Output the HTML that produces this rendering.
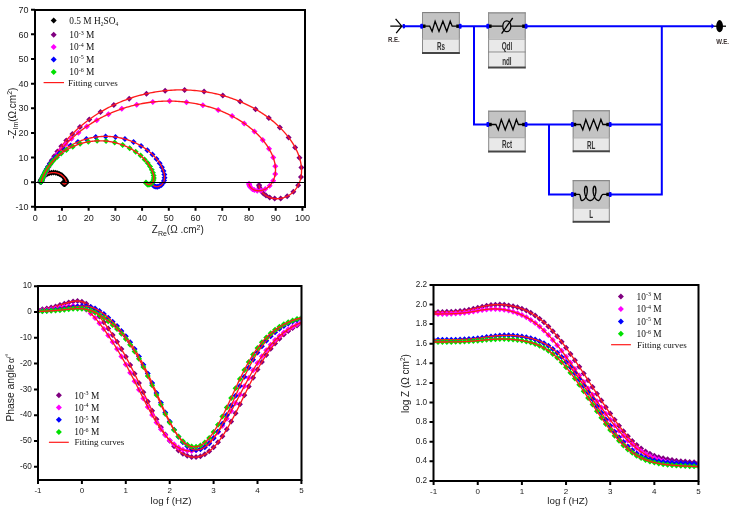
<!DOCTYPE html>
<html><head><meta charset="utf-8"><style>
html,body{margin:0;padding:0;background:#fff;}
body{width:731px;height:511px;position:relative;overflow:hidden;font-family:"Liberation Sans",sans-serif;}
</style></head><body>
<svg width="731" height="511" viewBox="0 0 731 511" style="position:absolute;left:0;top:0;filter:blur(0.35px)"><defs><clipPath id="c1"><rect x="36" y="11" width="268" height="194"/></clipPath><clipPath id="c2"><rect x="39" y="287" width="261.5" height="192"/></clipPath><clipPath id="c3"><rect x="434.5" y="286" width="263" height="194"/></clipPath></defs><path d="M40.25 179.02l3 3l-3 3l-3 -3zM40.26 178.99l3 3l-3 3l-3 -3zM40.27 178.94l3 3l-3 3l-3 -3zM40.29 178.88l3 3l-3 3l-3 -3zM40.31 178.81l3 3l-3 3l-3 -3zM40.33 178.73l3 3l-3 3l-3 -3zM40.36 178.63l3 3l-3 3l-3 -3zM40.4 178.51l3 3l-3 3l-3 -3zM40.45 178.36l3 3l-3 3l-3 -3zM40.51 178.18l3 3l-3 3l-3 -3zM40.59 177.97l3 3l-3 3l-3 -3zM40.69 177.71l3 3l-3 3l-3 -3zM40.82 177.4l3 3l-3 3l-3 -3zM40.99 177.03l3 3l-3 3l-3 -3zM41.2 176.59l3 3l-3 3l-3 -3zM41.49 176.08l3 3l-3 3l-3 -3zM41.86 175.48l3 3l-3 3l-3 -3zM42.36 174.8l3 3l-3 3l-3 -3zM42.99 174.04l3 3l-3 3l-3 -3zM43.82 173.21l3 3l-3 3l-3 -3zM44.86 172.34l3 3l-3 3l-3 -3zM46.16 171.49l3 3l-3 3l-3 -3zM47.72 170.71l3 3l-3 3l-3 -3zM49.53 170.08l3 3l-3 3l-3 -3zM51.53 169.69l3 3l-3 3l-3 -3zM53.62 169.58l3 3l-3 3l-3 -3zM55.71 169.77l3 3l-3 3l-3 -3zM57.66 170.23l3 3l-3 3l-3 -3zM59.41 170.9l3 3l-3 3l-3 -3zM60.91 171.71l3 3l-3 3l-3 -3zM62.14 172.58l3 3l-3 3l-3 -3zM63.12 173.44l3 3l-3 3l-3 -3zM63.9 174.26l3 3l-3 3l-3 -3zM64.5 175.01l3 3l-3 3l-3 -3zM64.95 175.68l3 3l-3 3l-3 -3zM65.3 176.26l3 3l-3 3l-3 -3zM65.57 176.77l3 3l-3 3l-3 -3zM65.78 177.2l3 3l-3 3l-3 -3zM65.93 177.57l3 3l-3 3l-3 -3zM66.05 177.89l3 3l-3 3l-3 -3zM66.14 178.17l3 3l-3 3l-3 -3zM66.21 178.41l3 3l-3 3l-3 -3zM66.27 178.62l3 3l-3 3l-3 -3zM66.3 178.82l3 3l-3 3l-3 -3zM66.33 179.01l3 3l-3 3l-3 -3zM66.34 179.2l3 3l-3 3l-3 -3zM66.32 179.39l3 3l-3 3l-3 -3zM66.29 179.59l3 3l-3 3l-3 -3zM66.22 179.81l3 3l-3 3l-3 -3zM66.12 180.04l3 3l-3 3l-3 -3zM65.95 180.29l3 3l-3 3l-3 -3zM65.71 180.53l3 3l-3 3l-3 -3zM65.38 180.75l3 3l-3 3l-3 -3zM64.98 180.91l3 3l-3 3l-3 -3zM64.53 180.98l3 3l-3 3l-3 -3zM64.08 180.96l3 3l-3 3l-3 -3zM63.66 180.84l3 3l-3 3l-3 -3zM63.32 180.67l3 3l-3 3l-3 -3zM63.06 180.46l3 3l-3 3l-3 -3zM62.86 180.26l3 3l-3 3l-3 -3zM62.73 180.07l3 3l-3 3l-3 -3z" fill="#000000"/><polyline points="62.73,183.07 62.74,183.09 62.76,183.11 62.77,183.13 62.78,183.15 62.79,183.16 62.81,183.18 62.82,183.2 62.83,183.22 62.85,183.24 62.87,183.26 62.88,183.28 62.9,183.3 62.92,183.32 62.93,183.34 62.95,183.36 62.97,183.38 62.99,183.4 63.01,183.42 63.03,183.44 63.06,183.47 63.08,183.49 63.1,183.51 63.13,183.53 63.15,183.55 63.18,183.57 63.21,183.59 63.23,183.61 63.26,183.63 63.29,183.65 63.32,183.67 63.35,183.69 63.38,183.71 63.42,183.73 63.45,183.74 63.48,183.76 63.52,183.78 63.55,183.8 63.59,183.81 63.63,183.83 63.67,183.84 63.7,183.86 63.74,183.87 63.78,183.89 63.83,183.9 63.87,183.91 63.91,183.92 63.95,183.93 63.99,183.94 64.04,183.95 64.08,183.96 64.13,183.96 64.17,183.97 64.22,183.97 64.26,183.98 64.31,183.98 64.35,183.98 64.4,183.98 64.45,183.98 64.49,183.98 64.54,183.98 64.58,183.98 64.63,183.97 64.68,183.97 64.72,183.96 64.77,183.95 64.81,183.95 64.86,183.94 64.9,183.93 64.94,183.92 64.99,183.9 65.03,183.89 65.07,183.88 65.11,183.86 65.16,183.85 65.2,183.83 65.24,183.82 65.27,183.8 65.31,183.78 65.35,183.76 65.39,183.74 65.42,183.72 65.46,183.7 65.49,183.68 65.53,183.66 65.56,183.64 65.59,183.62 65.62,183.59 65.65,183.57 65.68,183.55 65.71,183.52 65.74,183.5 65.76,183.48 65.79,183.45 65.82,183.43 65.84,183.4 65.86,183.38 65.89,183.36 65.91,183.33 65.93,183.31 65.95,183.28 65.97,183.26 65.99,183.23 66.01,183.21 66.03,183.18 66.04,183.16 66.06,183.13 66.07,183.11 66.09,183.08 66.1,183.06 66.12,183.04 66.13,183.01 66.14,182.99 66.16,182.97 66.17,182.94 66.18,182.92 66.19,182.9 66.2,182.87 66.21,182.85 66.22,182.83 66.23,182.8 66.23,182.78 66.24,182.76 66.25,182.74 66.26,182.72 66.26,182.69 66.27,182.67 66.28,182.65 66.28,182.63 66.29,182.61 66.29,182.59 66.3,182.57 66.3,182.55 66.3,182.53 66.31,182.51 66.31,182.49 66.31,182.47 66.32,182.45 66.32,182.43 66.32,182.41 66.33,182.39 66.33,182.37 66.33,182.35 66.33,182.33 66.33,182.31 66.33,182.29 66.33,182.27 66.33,182.25 66.33,182.23 66.33,182.21 66.34,182.2 66.34,182.18 66.33,182.16 66.33,182.14 66.33,182.12 66.33,182.1 66.33,182.08 66.33,182.06 66.33,182.05 66.33,182.03 66.33,182.01 66.33,181.99 66.32,181.97 66.32,181.95 66.32,181.93 66.32,181.91 66.31,181.9 66.31,181.88 66.31,181.86 66.31,181.84 66.3,181.82 66.3,181.8 66.3,181.78 66.29,181.76 66.29,181.74 66.29,181.72 66.28,181.7 66.28,181.68 66.27,181.66 66.27,181.64 66.27,181.62 66.26,181.6 66.26,181.58 66.25,181.56 66.25,181.53 66.24,181.51 66.24,181.49 66.23,181.47 66.22,181.45 66.22,181.42 66.21,181.4 66.21,181.38 66.2,181.35 66.19,181.33 66.19,181.31 66.18,181.28 66.17,181.26 66.17,181.23 66.16,181.21 66.15,181.18 66.14,181.16 66.13,181.13 66.13,181.1 66.12,181.08 66.11,181.05 66.1,181.02 66.09,181 66.08,180.97 66.07,180.94 66.06,180.91 66.05,180.88 66.04,180.85 66.03,180.82 66.02,180.79 66,180.76 65.99,180.72 65.98,180.69 65.97,180.66 65.95,180.63 65.94,180.59 65.93,180.56 65.91,180.52 65.9,180.49 65.88,180.45 65.87,180.42 65.85,180.38 65.84,180.34 65.82,180.3 65.8,180.26 65.79,180.22 65.77,180.18 65.75,180.14 65.73,180.1 65.71,180.06 65.69,180.02 65.67,179.97 65.65,179.93 65.63,179.88 65.61,179.84 65.59,179.79 65.56,179.75 65.54,179.7 65.51,179.65 65.49,179.6 65.46,179.55 65.44,179.5 65.41,179.45 65.38,179.4 65.35,179.35 65.32,179.29 65.29,179.24 65.26,179.18 65.23,179.13 65.2,179.07 65.16,179.01 65.13,178.95 65.09,178.89 65.05,178.83 65.02,178.77 64.98,178.71 64.94,178.65 64.9,178.59 64.85,178.52 64.81,178.46 64.77,178.39 64.72,178.32 64.67,178.26 64.63,178.19 64.58,178.12 64.52,178.05 64.47,177.98 64.42,177.91 64.36,177.83 64.31,177.76 64.25,177.69 64.19,177.61 64.13,177.53 64.06,177.46 64,177.38 63.93,177.3 63.87,177.22 63.8,177.14 63.72,177.06 63.65,176.98 63.58,176.9 63.5,176.82 63.42,176.74 63.34,176.65 63.25,176.57 63.17,176.49 63.08,176.4 62.99,176.32 62.9,176.23 62.81,176.14 62.71,176.06 62.61,175.97 62.51,175.88 62.41,175.8 62.3,175.71 62.19,175.62 62.08,175.53 61.97,175.45 61.85,175.36 61.74,175.27 61.62,175.18 61.49,175.1 61.37,175.01 61.24,174.92 61.11,174.84 60.97,174.75 60.84,174.67 60.7,174.58 60.55,174.5 60.41,174.41 60.26,174.33 60.11,174.25 59.96,174.17 59.81,174.09 59.65,174.01 59.49,173.94 59.32,173.86 59.16,173.79 58.99,173.71 58.82,173.64 58.65,173.57 58.47,173.51 58.29,173.44 58.11,173.38 57.93,173.31 57.75,173.25 57.56,173.2 57.37,173.14 57.18,173.09 56.99,173.04 56.79,172.99 56.6,172.94 56.4,172.9 56.2,172.86 56,172.82 55.79,172.78 55.59,172.75 55.39,172.72 55.18,172.69 54.97,172.67 54.76,172.64 54.55,172.63 54.34,172.61 54.13,172.6 53.92,172.59 53.71,172.58 53.5,172.58 53.29,172.58 53.08,172.58 52.87,172.58 52.66,172.59 52.45,172.6 52.24,172.62 52.03,172.64 51.82,172.66 51.61,172.68 51.41,172.71 51.2,172.73 50.99,172.77 50.79,172.8 50.59,172.84 50.39,172.88 50.19,172.92 49.99,172.97 49.8,173.01 49.6,173.06 49.41,173.12 49.22,173.17 49.04,173.23 48.85,173.29 48.67,173.35 48.49,173.41 48.31,173.48 48.13,173.54 47.96,173.61 47.79,173.68 47.62,173.75 47.45,173.83 47.29,173.9 47.12,173.98 46.97,174.06 46.81,174.13 46.66,174.21 46.51,174.29 46.36,174.38 46.21,174.46 46.07,174.54 45.93,174.63 45.79,174.71 45.66,174.8 45.52,174.88 45.39,174.97 45.27,175.05 45.14,175.14 45.02,175.23 44.9,175.31 44.79,175.4 44.67,175.49 44.56,175.58 44.45,175.66 44.35,175.75 44.24,175.84 44.14,175.92 44.04,176.01 43.94,176.1 43.85,176.18 43.75,176.27 43.66,176.35 43.58,176.44 43.49,176.52 43.41,176.61 43.32,176.69 43.24,176.77 43.17,176.85 43.09,176.93 43.02,177.02 42.94,177.1 42.87,177.17 42.8,177.25 42.74,177.33 42.67,177.41 42.61,177.48 42.55,177.56 42.49,177.63 42.43,177.71 42.37,177.78 42.32,177.85 42.26,177.93 42.21,178 42.16,178.07 42.11,178.13 42.06,178.2 42.01,178.27 41.96,178.34 41.92,178.4 41.88,178.47 41.83,178.53 41.79,178.59 41.75,178.66 41.71,178.72 41.67,178.78 41.64,178.84 41.6,178.89 41.57,178.95 41.53,179.01 41.5,179.07 41.47,179.12 41.43,179.18 41.4,179.23 41.37,179.28 41.34,179.33 41.32,179.38 41.29,179.44 41.26,179.48 41.24,179.53 41.21,179.58 41.18,179.63 41.16,179.68 41.14,179.72 41.11,179.77 41.09,179.81 41.07,179.85 41.05,179.9 41.03,179.94 41.01,179.98 40.99,180.02 40.97,180.06 40.95,180.1 40.93,180.14 40.92,180.18 40.9,180.21 40.88,180.25 40.87,180.29 40.85,180.32 40.84,180.36 40.82,180.39 40.81,180.43 40.79,180.46 40.78,180.49 40.76,180.52 40.75,180.55 40.74,180.59 40.73,180.62 40.71,180.65 40.7,180.67 40.69,180.7 40.68,180.73 40.67,180.76 40.66,180.79 40.65,180.81 40.64,180.84 40.63,180.86 40.62,180.89 40.61,180.91 40.6,180.94 40.59,180.96 40.58,180.99 40.57,181.01 40.56,181.03 40.56,181.05 40.55,181.08 40.54,181.1 40.53,181.12 40.53,181.14 40.52,181.16 40.51,181.18 40.5,181.2 40.5,181.22 40.49,181.24 40.49,181.25 40.48,181.27 40.47,181.29 40.47,181.31 40.46,181.32 40.46,181.34 40.45,181.36 40.44,181.37 40.44,181.39 40.43,181.41 40.43,181.42 40.42,181.44 40.42,181.45 40.41,181.46 40.41,181.48 40.41,181.49 40.4,181.51 40.4,181.52 40.39,181.53 40.39,181.55 40.39,181.56 40.38,181.57 40.38,181.58 40.37,181.59 40.37,181.61 40.37,181.62 40.36,181.63 40.36,181.64 40.36,181.65 40.35,181.66 40.35,181.67 40.35,181.68 40.34,181.69 40.34,181.7 40.34,181.71 40.34,181.72 40.33,181.73 40.33,181.74 40.33,181.75 40.32,181.76 40.32,181.77 40.32,181.77 40.32,181.78 40.31,181.79 40.31,181.8 40.31,181.81 40.31,181.81 40.31,181.82 40.3,181.83 40.3,181.84 40.3,181.84 40.3,181.85 40.3,181.86 40.29,181.86 40.29,181.87 40.29,181.88 40.29,181.88 40.29,181.89 40.28,181.89 40.28,181.9 40.28,181.91 40.28,181.91 40.28,181.92 40.28,181.92 40.28,181.93 40.27,181.93 40.27,181.94 40.27,181.94 40.27,181.95 40.27,181.95 40.27,181.96 40.27,181.96 40.26,181.97 40.26,181.97 40.26,181.98 40.26,181.98 40.26,181.99 40.26,181.99 40.26,181.99 40.26,182 40.26,182 40.25,182.01 40.25,182.01 40.25,182.01 40.25,182.02 40.25,182.02 40.25,182.02" fill="none" stroke="#ff1a1a" stroke-width="1.35" stroke-linejoin="round"/><path d="M41.13 178.76l3 3l-3 3l-3 -3zM41.16 178.67l3 3l-3 3l-3 -3zM41.2 178.57l3 3l-3 3l-3 -3zM41.25 178.44l3 3l-3 3l-3 -3zM41.31 178.3l3 3l-3 3l-3 -3zM41.37 178.12l3 3l-3 3l-3 -3zM41.46 177.9l3 3l-3 3l-3 -3zM41.56 177.64l3 3l-3 3l-3 -3zM41.68 177.34l3 3l-3 3l-3 -3zM41.83 176.97l3 3l-3 3l-3 -3zM42 176.53l3 3l-3 3l-3 -3zM42.21 176l3 3l-3 3l-3 -3zM42.47 175.38l3 3l-3 3l-3 -3zM42.78 174.63l3 3l-3 3l-3 -3zM43.16 173.73l3 3l-3 3l-3 -3zM43.63 172.67l3 3l-3 3l-3 -3zM44.19 171.4l3 3l-3 3l-3 -3zM44.89 169.89l3 3l-3 3l-3 -3zM45.74 168.1l3 3l-3 3l-3 -3zM46.79 165.99l3 3l-3 3l-3 -3zM48.09 163.5l3 3l-3 3l-3 -3zM49.71 160.57l3 3l-3 3l-3 -3zM51.72 157.14l3 3l-3 3l-3 -3zM54.23 153.16l3 3l-3 3l-3 -3zM57.37 148.58l3 3l-3 3l-3 -3zM61.31 143.34l3 3l-3 3l-3 -3zM66.23 137.45l3 3l-3 3l-3 -3zM72.36 130.94l3 3l-3 3l-3 -3zM79.95 123.89l3 3l-3 3l-3 -3zM89.26 116.49l3 3l-3 3l-3 -3zM100.5 109.03l3 3l-3 3l-3 -3zM113.82 101.91l3 3l-3 3l-3 -3zM129.2 95.63l3 3l-3 3l-3 -3zM146.45 90.72l3 3l-3 3l-3 -3zM165.13 87.7l3 3l-3 3l-3 -3zM184.6 86.93l3 3l-3 3l-3 -3zM204.08 88.57l3 3l-3 3l-3 -3zM222.81 92.54l3 3l-3 3l-3 -3zM240.12 98.55l3 3l-3 3l-3 -3zM255.55 106.16l3 3l-3 3l-3 -3zM268.82 114.93l3 3l-3 3l-3 -3zM279.85 124.45l3 3l-3 3l-3 -3zM288.62 134.39l3 3l-3 3l-3 -3zM295.16 144.53l3 3l-3 3l-3 -3zM299.45 154.67l3 3l-3 3l-3 -3zM301.42 164.59l3 3l-3 3l-3 -3zM300.99 173.94l3 3l-3 3l-3 -3zM298.19 182.21l3 3l-3 3l-3 -3zM293.36 188.8l3 3l-3 3l-3 -3zM287.21 193.24l3 3l-3 3l-3 -3zM280.69 195.4l3 3l-3 3l-3 -3zM274.68 195.6l3 3l-3 3l-3 -3zM269.74 194.45l3 3l-3 3l-3 -3zM266.01 192.58l3 3l-3 3l-3 -3zM263.39 190.49l3 3l-3 3l-3 -3zM261.63 188.47l3 3l-3 3l-3 -3zM260.5 186.67l3 3l-3 3l-3 -3zM259.8 185.14l3 3l-3 3l-3 -3zM259.39 183.89l3 3l-3 3l-3 -3zM259.15 182.87l3 3l-3 3l-3 -3zM259.03 182.06l3 3l-3 3l-3 -3z" fill="#800080"/><polyline points="259.05,185.25 259.06,185.33 259.07,185.4 259.08,185.49 259.1,185.57 259.11,185.65 259.13,185.74 259.14,185.83 259.16,185.92 259.18,186.01 259.2,186.11 259.22,186.2 259.24,186.3 259.26,186.4 259.29,186.51 259.31,186.61 259.34,186.72 259.37,186.83 259.4,186.95 259.44,187.06 259.47,187.18 259.51,187.3 259.55,187.42 259.59,187.55 259.63,187.68 259.68,187.81 259.73,187.94 259.78,188.08 259.83,188.22 259.89,188.36 259.95,188.51 260.01,188.65 260.08,188.8 260.15,188.96 260.22,189.11 260.3,189.27 260.38,189.43 260.46,189.6 260.55,189.76 260.65,189.93 260.74,190.11 260.85,190.28 260.95,190.46 261.07,190.64 261.18,190.82 261.31,191.01 261.44,191.2 261.57,191.39 261.71,191.58 261.86,191.78 262.02,191.97 262.18,192.17 262.35,192.37 262.52,192.58 262.7,192.78 262.9,192.99 263.09,193.2 263.3,193.4 263.52,193.61 263.74,193.83 263.98,194.04 264.22,194.25 264.47,194.46 264.74,194.67 265.01,194.88 265.29,195.09 265.59,195.3 265.89,195.51 266.21,195.71 266.54,195.91 266.87,196.11 267.22,196.31 267.59,196.5 267.96,196.69 268.35,196.87 268.75,197.05 269.16,197.22 269.58,197.39 270.01,197.55 270.46,197.7 270.92,197.85 271.4,197.98 271.88,198.11 272.38,198.23 272.89,198.33 273.41,198.43 273.94,198.51 274.49,198.58 275.04,198.63 275.61,198.68 276.18,198.7 276.77,198.72 277.37,198.71 277.97,198.69 278.59,198.65 279.21,198.6 279.84,198.53 280.47,198.43 281.11,198.32 281.76,198.19 282.41,198.03 283.06,197.86 283.72,197.66 284.37,197.44 285.03,197.2 285.69,196.94 286.34,196.65 287,196.34 287.65,196.01 288.29,195.65 288.94,195.27 289.57,194.87 290.2,194.44 290.82,194 291.43,193.52 292.02,193.03 292.61,192.51 293.19,191.97 293.75,191.41 294.3,190.82 294.83,190.22 295.35,189.59 295.85,188.94 296.33,188.28 296.8,187.59 297.24,186.89 297.67,186.16 298.08,185.42 298.46,184.67 298.83,183.89 299.17,183.1 299.49,182.3 299.79,181.48 300.07,180.64 300.32,179.79 300.55,178.93 300.76,178.06 300.94,177.18 301.1,176.28 301.24,175.38 301.35,174.46 301.43,173.54 301.5,172.61 301.53,171.67 301.55,170.72 301.54,169.77 301.5,168.81 301.44,167.84 301.36,166.86 301.25,165.89 301.12,164.9 300.96,163.92 300.78,162.92 300.58,161.93 300.35,160.93 300.1,159.93 299.83,158.92 299.53,157.91 299.21,156.9 298.86,155.89 298.5,154.88 298.1,153.86 297.69,152.85 297.25,151.83 296.8,150.81 296.31,149.8 295.81,148.78 295.28,147.76 294.73,146.74 294.16,145.72 293.57,144.7 292.95,143.68 292.31,142.67 291.65,141.65 290.96,140.64 290.26,139.62 289.53,138.61 288.78,137.6 288,136.59 287.21,135.58 286.39,134.58 285.55,133.58 284.69,132.58 283.8,131.58 282.89,130.59 281.96,129.6 281.01,128.61 280.03,127.63 279.04,126.65 278.01,125.68 276.97,124.71 275.9,123.75 274.82,122.79 273.7,121.83 272.57,120.89 271.41,119.95 270.23,119.01 269.03,118.09 267.81,117.17 266.56,116.25 265.29,115.35 264,114.46 262.68,113.57 261.34,112.69 259.98,111.83 258.6,110.97 257.2,110.12 255.77,109.29 254.32,108.46 252.85,107.65 251.36,106.85 249.85,106.07 248.32,105.29 246.76,104.53 245.19,103.79 243.6,103.06 241.98,102.34 240.35,101.64 238.7,100.96 237.03,100.29 235.34,99.64 233.63,99.01 231.9,98.39 230.16,97.8 228.4,97.22 226.63,96.66 224.84,96.12 223.03,95.6 221.21,95.11 219.38,94.63 217.53,94.17 215.67,93.74 213.8,93.33 211.92,92.93 210.02,92.57 208.12,92.22 206.2,91.9 204.28,91.6 202.35,91.33 200.42,91.07 198.48,90.85 196.53,90.64 194.58,90.46 192.62,90.31 190.66,90.18 188.7,90.07 186.74,89.99 184.77,89.93 182.81,89.9 180.84,89.89 178.88,89.91 176.92,89.95 174.97,90.01 173.02,90.1 171.07,90.21 169.13,90.34 167.2,90.5 165.27,90.69 163.35,90.89 161.44,91.12 159.54,91.37 157.65,91.64 155.77,91.93 153.9,92.24 152.04,92.58 150.2,92.93 148.37,93.31 146.55,93.7 144.75,94.11 142.96,94.55 141.19,95 139.44,95.46 137.7,95.95 135.97,96.45 134.27,96.97 132.58,97.5 130.91,98.05 129.26,98.61 127.63,99.18 126.02,99.77 124.43,100.38 122.86,100.99 121.3,101.62 119.77,102.25 118.26,102.9 116.77,103.56 115.3,104.22 113.85,104.9 112.42,105.58 111.01,106.28 109.62,106.98 108.26,107.68 106.91,108.39 105.59,109.11 104.29,109.83 103,110.56 101.74,111.29 100.5,112.03 99.29,112.77 98.09,113.51 96.91,114.26 95.76,115 94.62,115.75 93.51,116.5 92.41,117.25 91.34,118 90.28,118.75 89.24,119.5 88.23,120.25 87.23,121 86.25,121.75 85.3,122.49 84.36,123.23 83.43,123.98 82.53,124.71 81.64,125.45 80.78,126.18 79.93,126.91 79.09,127.64 78.28,128.36 77.48,129.08 76.69,129.79 75.93,130.5 75.18,131.2 74.44,131.9 73.72,132.6 73.02,133.28 72.33,133.97 71.65,134.65 70.99,135.32 70.34,135.99 69.71,136.65 69.09,137.31 68.49,137.95 67.89,138.6 67.31,139.24 66.75,139.87 66.19,140.49 65.65,141.11 65.12,141.72 64.6,142.33 64.09,142.93 63.59,143.52 63.11,144.11 62.63,144.69 62.17,145.26 61.71,145.83 61.27,146.39 60.84,146.94 60.41,147.49 60,148.03 59.59,148.56 59.19,149.09 58.81,149.61 58.43,150.12 58.06,150.63 57.69,151.13 57.34,151.62 56.99,152.11 56.65,152.59 56.32,153.07 56,153.53 55.68,154 55.37,154.45 55.07,154.9 54.77,155.34 54.48,155.78 54.2,156.21 53.92,156.64 53.65,157.05 53.38,157.47 53.13,157.87 52.87,158.27 52.63,158.67 52.38,159.06 52.15,159.44 51.91,159.82 51.69,160.19 51.47,160.56 51.25,160.92 51.04,161.27 50.83,161.62 50.63,161.97 50.43,162.31 50.24,162.64 50.05,162.97 49.86,163.29 49.68,163.61 49.5,163.93 49.33,164.24 49.16,164.54 48.99,164.84 48.83,165.13 48.67,165.42 48.52,165.71 48.36,165.99 48.21,166.27 48.07,166.54 47.93,166.81 47.79,167.07 47.65,167.33 47.52,167.59 47.38,167.84 47.26,168.08 47.13,168.33 47.01,168.56 46.89,168.8 46.77,169.03 46.66,169.26 46.54,169.48 46.43,169.7 46.32,169.92 46.22,170.13 46.11,170.34 46.01,170.55 45.91,170.75 45.82,170.95 45.72,171.14 45.63,171.33 45.54,171.52 45.45,171.71 45.36,171.89 45.27,172.07 45.19,172.25 45.11,172.42 45.03,172.59 44.95,172.76 44.87,172.93 44.8,173.09 44.72,173.25 44.65,173.4 44.58,173.56 44.51,173.71 44.44,173.86 44.37,174.01 44.31,174.15 44.24,174.29 44.18,174.43 44.12,174.57 44.06,174.7 44,174.83 43.94,174.96 43.88,175.09 43.83,175.21 43.77,175.34 43.72,175.46 43.67,175.58 43.62,175.69 43.57,175.81 43.52,175.92 43.47,176.03 43.42,176.14 43.37,176.25 43.33,176.35 43.28,176.46 43.24,176.56 43.2,176.66 43.15,176.76 43.11,176.85 43.07,176.95 43.03,177.04 42.99,177.13 42.96,177.22 42.92,177.31 42.88,177.4 42.85,177.48 42.81,177.57 42.78,177.65 42.74,177.73 42.71,177.81 42.68,177.89 42.64,177.96 42.61,178.04 42.58,178.11 42.55,178.19 42.52,178.26 42.49,178.33 42.46,178.4 42.44,178.46 42.41,178.53 42.38,178.6 42.35,178.66 42.33,178.72 42.3,178.78 42.28,178.85 42.25,178.91 42.23,178.96 42.21,179.02 42.18,179.08 42.16,179.13 42.14,179.19 42.12,179.24 42.1,179.3 42.07,179.35 42.05,179.4 42.03,179.45 42.01,179.5 41.99,179.55 41.98,179.59 41.96,179.64 41.94,179.69 41.92,179.73 41.9,179.77 41.89,179.82 41.87,179.86 41.85,179.9 41.84,179.94 41.82,179.98 41.8,180.02 41.79,180.06 41.77,180.1 41.76,180.14 41.74,180.17 41.73,180.21 41.72,180.25 41.7,180.28 41.69,180.32 41.67,180.35 41.66,180.38 41.65,180.42 41.64,180.45 41.62,180.48 41.61,180.51 41.6,180.54 41.59,180.57 41.58,180.6 41.57,180.63 41.55,180.66 41.54,180.68 41.53,180.71 41.52,180.74 41.51,180.76 41.5,180.79 41.49,180.81 41.48,180.84 41.47,180.86 41.46,180.89 41.45,180.91 41.45,180.93 41.44,180.96 41.43,180.98 41.42,181 41.41,181.02 41.4,181.04 41.39,181.06 41.39,181.08 41.38,181.1 41.37,181.12 41.36,181.14 41.36,181.16 41.35,181.18 41.34,181.2 41.34,181.22 41.33,181.23 41.32,181.25 41.32,181.27 41.31,181.29 41.3,181.3 41.3,181.32 41.29,181.33 41.28,181.35 41.28,181.36 41.27,181.38 41.27,181.39 41.26,181.41 41.26,181.42 41.25,181.44 41.25,181.45 41.24,181.46 41.24,181.48 41.23,181.49 41.23,181.5 41.22,181.52 41.22,181.53 41.21,181.54 41.21,181.55 41.2,181.56 41.2,181.58 41.19,181.59 41.19,181.6 41.19,181.61 41.18,181.62 41.18,181.63 41.17,181.64 41.17,181.65 41.17,181.66 41.16,181.67 41.16,181.68 41.15,181.69 41.15,181.7 41.15,181.71 41.14,181.72 41.14,181.72 41.14,181.73 41.13,181.74 41.13,181.75 41.13,181.76 41.13,181.77 41.12,181.77 41.12,181.78" fill="none" stroke="#ff1a1a" stroke-width="1.35" stroke-linejoin="round"/><path d="M41.07 178.81l3 3l-3 3l-3 -3zM41.1 178.74l3 3l-3 3l-3 -3zM41.14 178.65l3 3l-3 3l-3 -3zM41.19 178.54l3 3l-3 3l-3 -3zM41.24 178.41l3 3l-3 3l-3 -3zM41.31 178.26l3 3l-3 3l-3 -3zM41.38 178.08l3 3l-3 3l-3 -3zM41.48 177.87l3 3l-3 3l-3 -3zM41.59 177.62l3 3l-3 3l-3 -3zM41.72 177.31l3 3l-3 3l-3 -3zM41.88 176.95l3 3l-3 3l-3 -3zM42.07 176.53l3 3l-3 3l-3 -3zM42.3 176.02l3 3l-3 3l-3 -3zM42.58 175.41l3 3l-3 3l-3 -3zM42.91 174.7l3 3l-3 3l-3 -3zM43.32 173.85l3 3l-3 3l-3 -3zM43.81 172.84l3 3l-3 3l-3 -3zM44.4 171.65l3 3l-3 3l-3 -3zM45.12 170.24l3 3l-3 3l-3 -3zM46 168.59l3 3l-3 3l-3 -3zM47.07 166.65l3 3l-3 3l-3 -3zM48.38 164.37l3 3l-3 3l-3 -3zM50 161.72l3 3l-3 3l-3 -3zM51.98 158.64l3 3l-3 3l-3 -3zM54.44 155.09l3 3l-3 3l-3 -3zM57.47 151.03l3 3l-3 3l-3 -3zM61.21 146.45l3 3l-3 3l-3 -3zM65.83 141.33l3 3l-3 3l-3 -3zM71.5 135.72l3 3l-3 3l-3 -3zM78.42 129.69l3 3l-3 3l-3 -3zM86.79 123.42l3 3l-3 3l-3 -3zM96.76 117.13l3 3l-3 3l-3 -3zM108.44 111.14l3 3l-3 3l-3 -3zM121.81 105.85l3 3l-3 3l-3 -3zM136.71 101.66l3 3l-3 3l-3 -3zM152.8 98.98l3 3l-3 3l-3 -3zM169.58 98.11l3 3l-3 3l-3 -3zM186.48 99.19l3 3l-3 3l-3 -3zM202.87 102.2l3 3l-3 3l-3 -3zM218.21 106.94l3 3l-3 3l-3 -3zM232.09 113.12l3 3l-3 3l-3 -3zM244.22 120.4l3 3l-3 3l-3 -3zM254.47 128.45l3 3l-3 3l-3 -3zM262.75 136.99l3 3l-3 3l-3 -3zM269.03 145.78l3 3l-3 3l-3 -3zM273.23 154.59l3 3l-3 3l-3 -3zM275.3 163.14l3 3l-3 3l-3 -3zM275.22 171.02l3 3l-3 3l-3 -3zM273.16 177.75l3 3l-3 3l-3 -3zM269.61 182.85l3 3l-3 3l-3 -3zM265.29 186.08l3 3l-3 3l-3 -3zM260.98 187.56l3 3l-3 3l-3 -3zM257.24 187.7l3 3l-3 3l-3 -3zM254.34 187.01l3 3l-3 3l-3 -3zM252.26 185.92l3 3l-3 3l-3 -3zM250.88 184.74l3 3l-3 3l-3 -3zM250.01 183.63l3 3l-3 3l-3 -3zM249.49 182.67l3 3l-3 3l-3 -3zM249.21 181.87l3 3l-3 3l-3 -3zM249.08 181.22l3 3l-3 3l-3 -3zM249.03 180.71l3 3l-3 3l-3 -3z" fill="#ff00ff"/><polyline points="249.03,183.76 249.04,183.8 249.04,183.85 249.04,183.9 249.05,183.95 249.05,184 249.06,184.06 249.06,184.11 249.07,184.16 249.08,184.22 249.09,184.28 249.1,184.34 249.11,184.4 249.12,184.46 249.13,184.53 249.15,184.59 249.16,184.66 249.18,184.73 249.19,184.8 249.21,184.87 249.23,184.94 249.26,185.02 249.28,185.09 249.3,185.17 249.33,185.25 249.36,185.33 249.39,185.41 249.42,185.5 249.46,185.58 249.5,185.67 249.53,185.76 249.58,185.85 249.62,185.94 249.67,186.04 249.72,186.13 249.77,186.23 249.83,186.33 249.88,186.43 249.95,186.53 250.01,186.64 250.08,186.74 250.15,186.85 250.23,186.96 250.31,187.07 250.4,187.18 250.48,187.29 250.58,187.41 250.68,187.52 250.78,187.64 250.89,187.75 251,187.87 251.12,187.99 251.24,188.1 251.37,188.22 251.51,188.34 251.65,188.46 251.8,188.58 251.95,188.7 252.11,188.82 252.28,188.94 252.45,189.05 252.63,189.17 252.82,189.28 253.02,189.4 253.22,189.51 253.44,189.62 253.66,189.72 253.88,189.83 254.12,189.93 254.36,190.02 254.62,190.12 254.88,190.2 255.15,190.29 255.43,190.37 255.71,190.44 256.01,190.51 256.32,190.57 256.63,190.62 256.95,190.67 257.28,190.71 257.62,190.74 257.97,190.76 258.33,190.77 258.69,190.78 259.07,190.77 259.45,190.75 259.83,190.72 260.23,190.68 260.63,190.62 261.04,190.55 261.45,190.47 261.87,190.37 262.3,190.26 262.73,190.14 263.16,190 263.6,189.84 264.04,189.67 264.48,189.47 264.92,189.27 265.37,189.04 265.81,188.8 266.26,188.54 266.7,188.26 267.14,187.96 267.57,187.64 268.01,187.3 268.44,186.95 268.86,186.57 269.28,186.18 269.69,185.77 270.09,185.34 270.48,184.89 270.87,184.42 271.24,183.93 271.6,183.42 271.95,182.9 272.29,182.36 272.62,181.8 272.93,181.22 273.22,180.63 273.5,180.02 273.77,179.39 274.01,178.75 274.24,178.09 274.46,177.42 274.65,176.74 274.83,176.04 274.98,175.32 275.12,174.6 275.24,173.86 275.34,173.11 275.41,172.35 275.47,171.58 275.51,170.8 275.52,170.02 275.52,169.22 275.49,168.41 275.44,167.6 275.37,166.77 275.27,165.95 275.16,165.11 275.02,164.27 274.87,163.42 274.69,162.57 274.49,161.71 274.26,160.85 274.02,159.99 273.75,159.12 273.46,158.25 273.15,157.37 272.82,156.5 272.47,155.62 272.1,154.74 271.7,153.85 271.29,152.97 270.85,152.09 270.39,151.2 269.91,150.31 269.41,149.43 268.89,148.54 268.35,147.66 267.78,146.77 267.2,145.89 266.6,145 265.97,144.12 265.33,143.24 264.66,142.36 263.98,141.49 263.27,140.61 262.55,139.74 261.8,138.87 261.04,138 260.25,137.14 259.44,136.28 258.62,135.42 257.77,134.57 256.91,133.72 256.02,132.88 255.12,132.03 254.19,131.2 253.25,130.37 252.28,129.54 251.3,128.72 250.3,127.91 249.27,127.1 248.23,126.3 247.17,125.5 246.09,124.71 244.99,123.93 243.87,123.16 242.73,122.39 241.57,121.63 240.4,120.88 239.2,120.14 237.99,119.41 236.76,118.69 235.51,117.97 234.24,117.27 232.96,116.58 231.65,115.9 230.33,115.23 228.99,114.57 227.64,113.92 226.27,113.29 224.88,112.66 223.47,112.05 222.05,111.46 220.62,110.87 219.17,110.31 217.7,109.75 216.22,109.21 214.72,108.68 213.21,108.17 211.69,107.68 210.15,107.2 208.6,106.74 207.04,106.29 205.47,105.86 203.88,105.45 202.28,105.06 200.68,104.68 199.06,104.32 197.44,103.98 195.8,103.66 194.16,103.35 192.51,103.07 190.85,102.8 189.18,102.55 187.51,102.32 185.84,102.11 184.16,101.92 182.47,101.75 180.78,101.6 179.09,101.47 177.39,101.36 175.7,101.27 174,101.2 172.3,101.15 170.61,101.12 168.91,101.11 167.21,101.12 165.52,101.14 163.83,101.19 162.14,101.26 160.45,101.35 158.77,101.45 157.1,101.58 155.43,101.72 153.77,101.88 152.11,102.06 150.46,102.26 148.82,102.48 147.19,102.71 145.56,102.96 143.95,103.23 142.35,103.51 140.75,103.82 139.17,104.13 137.6,104.47 136.04,104.82 134.49,105.18 132.96,105.56 131.44,105.95 129.93,106.36 128.43,106.78 126.95,107.21 125.49,107.66 124.04,108.11 122.6,108.58 121.18,109.07 119.77,109.56 118.39,110.06 117.01,110.57 115.66,111.1 114.31,111.63 112.99,112.17 111.68,112.72 110.39,113.27 109.12,113.84 107.86,114.41 106.62,114.99 105.4,115.57 104.2,116.16 103.01,116.76 101.84,117.36 100.68,117.97 99.55,118.58 98.43,119.19 97.33,119.81 96.24,120.43 95.18,121.05 94.13,121.68 93.09,122.31 92.08,122.94 91.08,123.57 90.1,124.2 89.13,124.84 88.18,125.47 87.25,126.1 86.33,126.74 85.43,127.37 84.55,128 83.68,128.63 82.83,129.27 81.99,129.89 81.17,130.52 80.36,131.15 79.57,131.77 78.79,132.39 78.03,133.01 77.28,133.63 76.55,134.24 75.83,134.85 75.12,135.46 74.43,136.06 73.75,136.66 73.09,137.26 72.43,137.85 71.79,138.44 71.17,139.03 70.55,139.61 69.95,140.18 69.36,140.75 68.78,141.32 68.21,141.88 67.66,142.44 67.12,142.99 66.58,143.54 66.06,144.09 65.55,144.62 65.05,145.16 64.56,145.69 64.08,146.21 63.6,146.73 63.14,147.24 62.69,147.75 62.25,148.25 61.82,148.74 61.39,149.24 60.98,149.72 60.57,150.2 60.17,150.68 59.78,151.15 59.4,151.61 59.03,152.07 58.66,152.52 58.3,152.97 57.95,153.42 57.61,153.85 57.27,154.29 56.94,154.71 56.62,155.13 56.31,155.55 56,155.96 55.69,156.37 55.4,156.77 55.11,157.16 54.82,157.55 54.55,157.94 54.27,158.32 54.01,158.69 53.75,159.06 53.49,159.43 53.24,159.79 53,160.14 52.76,160.49 52.52,160.83 52.29,161.17 52.07,161.51 51.85,161.84 51.63,162.17 51.42,162.49 51.22,162.8 51.01,163.12 50.81,163.42 50.62,163.73 50.43,164.03 50.24,164.32 50.06,164.61 49.88,164.9 49.71,165.18 49.54,165.46 49.37,165.73 49.21,166 49.04,166.26 48.89,166.52 48.73,166.78 48.58,167.03 48.43,167.28 48.29,167.53 48.15,167.77 48.01,168.01 47.87,168.24 47.74,168.47 47.61,168.7 47.48,168.92 47.35,169.15 47.23,169.36 47.11,169.58 46.99,169.79 46.87,169.99 46.76,170.2 46.65,170.4 46.54,170.59 46.43,170.79 46.33,170.98 46.23,171.17 46.13,171.35 46.03,171.53 45.93,171.71 45.84,171.89 45.74,172.06 45.65,172.23 45.56,172.4 45.48,172.56 45.39,172.73 45.31,172.89 45.22,173.04 45.14,173.2 45.06,173.35 44.99,173.5 44.91,173.65 44.84,173.79 44.76,173.93 44.69,174.07 44.62,174.21 44.55,174.35 44.48,174.48 44.42,174.61 44.35,174.74 44.29,174.87 44.23,174.99 44.17,175.12 44.11,175.24 44.05,175.35 43.99,175.47 43.93,175.59 43.88,175.7 43.82,175.81 43.77,175.92 43.72,176.03 43.66,176.13 43.61,176.24 43.56,176.34 43.52,176.44 43.47,176.54 43.42,176.63 43.37,176.73 43.33,176.82 43.29,176.91 43.24,177.01 43.2,177.09 43.16,177.18 43.12,177.27 43.08,177.35 43.04,177.44 43,177.52 42.96,177.6 42.92,177.68 42.89,177.76 42.85,177.83 42.82,177.91 42.78,177.98 42.75,178.05 42.71,178.12 42.68,178.19 42.65,178.26 42.62,178.33 42.59,178.4 42.56,178.46 42.53,178.53 42.5,178.59 42.47,178.65 42.44,178.72 42.41,178.78 42.39,178.83 42.36,178.89 42.33,178.95 42.31,179.01 42.28,179.06 42.26,179.12 42.23,179.17 42.21,179.22 42.19,179.27 42.16,179.32 42.14,179.37 42.12,179.42 42.1,179.47 42.08,179.52 42.06,179.56 42.03,179.61 42.01,179.65 42,179.7 41.98,179.74 41.96,179.78 41.94,179.83 41.92,179.87 41.9,179.91 41.88,179.95 41.87,179.99 41.85,180.02 41.83,180.06 41.82,180.1 41.8,180.14 41.78,180.17 41.77,180.21 41.75,180.24 41.74,180.28 41.72,180.31 41.71,180.34 41.69,180.37 41.68,180.41 41.67,180.44 41.65,180.47 41.64,180.5 41.63,180.53 41.61,180.56 41.6,180.58 41.59,180.61 41.58,180.64 41.57,180.67 41.55,180.69 41.54,180.72 41.53,180.75 41.52,180.77 41.51,180.8 41.5,180.82 41.49,180.84 41.48,180.87 41.47,180.89 41.46,180.91 41.45,180.94 41.44,180.96 41.43,180.98 41.42,181 41.41,181.02 41.4,181.04 41.39,181.06 41.38,181.08 41.38,181.1 41.37,181.12 41.36,181.14 41.35,181.16 41.34,181.18 41.34,181.19 41.33,181.21 41.32,181.23 41.31,181.25 41.31,181.26 41.3,181.28 41.29,181.29 41.29,181.31 41.28,181.33 41.27,181.34 41.27,181.36 41.26,181.37 41.25,181.39 41.25,181.4 41.24,181.41 41.24,181.43 41.23,181.44 41.22,181.45 41.22,181.47 41.21,181.48 41.21,181.49 41.2,181.5 41.2,181.52 41.19,181.53 41.19,181.54 41.18,181.55 41.18,181.56 41.17,181.57 41.17,181.58 41.16,181.6 41.16,181.61 41.15,181.62 41.15,181.63 41.15,181.64 41.14,181.65 41.14,181.66 41.13,181.67 41.13,181.67 41.13,181.68 41.12,181.69 41.12,181.7 41.11,181.71 41.11,181.72 41.11,181.73 41.1,181.74 41.1,181.74 41.1,181.75 41.09,181.76 41.09,181.77 41.09,181.77 41.08,181.78 41.08,181.79 41.08,181.8 41.07,181.8 41.07,181.81 41.07,181.82" fill="none" stroke="#ff1a1a" stroke-width="1.35" stroke-linejoin="round"/><path d="M41.14 178.96l3 3l-3 3l-3 -3zM41.16 178.9l3 3l-3 3l-3 -3zM41.18 178.84l3 3l-3 3l-3 -3zM41.2 178.77l3 3l-3 3l-3 -3zM41.23 178.67l3 3l-3 3l-3 -3zM41.26 178.56l3 3l-3 3l-3 -3zM41.3 178.43l3 3l-3 3l-3 -3zM41.35 178.27l3 3l-3 3l-3 -3zM41.41 178.07l3 3l-3 3l-3 -3zM41.49 177.83l3 3l-3 3l-3 -3zM41.58 177.54l3 3l-3 3l-3 -3zM41.69 177.19l3 3l-3 3l-3 -3zM41.83 176.77l3 3l-3 3l-3 -3zM42 176.27l3 3l-3 3l-3 -3zM42.22 175.66l3 3l-3 3l-3 -3zM42.49 174.92l3 3l-3 3l-3 -3zM42.83 174.04l3 3l-3 3l-3 -3zM43.25 172.98l3 3l-3 3l-3 -3zM43.79 171.72l3 3l-3 3l-3 -3zM44.49 170.22l3 3l-3 3l-3 -3zM45.37 168.44l3 3l-3 3l-3 -3zM46.51 166.35l3 3l-3 3l-3 -3zM47.98 163.9l3 3l-3 3l-3 -3zM49.88 161.09l3 3l-3 3l-3 -3zM52.32 157.89l3 3l-3 3l-3 -3zM55.46 154.34l3 3l-3 3l-3 -3zM59.46 150.49l3 3l-3 3l-3 -3zM64.46 146.49l3 3l-3 3l-3 -3zM70.6 142.54l3 3l-3 3l-3 -3zM77.93 138.93l3 3l-3 3l-3 -3zM86.39 135.99l3 3l-3 3l-3 -3zM95.74 134.06l3 3l-3 3l-3 -3zM105.6 133.38l3 3l-3 3l-3 -3zM115.5 134.06l3 3l-3 3l-3 -3zM124.95 136.03l3 3l-3 3l-3 -3zM133.55 139.08l3 3l-3 3l-3 -3zM141.05 142.88l3 3l-3 3l-3 -3zM147.35 147.13l3 3l-3 3l-3 -3zM152.47 151.54l3 3l-3 3l-3 -3zM156.53 155.91l3 3l-3 3l-3 -3zM159.64 160.13l3 3l-3 3l-3 -3zM161.92 164.13l3 3l-3 3l-3 -3zM163.48 167.89l3 3l-3 3l-3 -3zM164.34 171.4l3 3l-3 3l-3 -3zM164.54 174.65l3 3l-3 3l-3 -3zM164.08 177.55l3 3l-3 3l-3 -3zM163 180.01l3 3l-3 3l-3 -3zM161.42 181.89l3 3l-3 3l-3 -3zM159.56 183.09l3 3l-3 3l-3 -3zM157.68 183.63l3 3l-3 3l-3 -3zM156.01 183.63l3 3l-3 3l-3 -3zM154.67 183.28l3 3l-3 3l-3 -3zM153.68 182.76l3 3l-3 3l-3 -3zM152.99 182.19l3 3l-3 3l-3 -3zM152.53 181.64l3 3l-3 3l-3 -3zM152.24 181.17l3 3l-3 3l-3 -3zM152.06 180.76l3 3l-3 3l-3 -3zM151.95 180.43l3 3l-3 3l-3 -3zM151.89 180.17l3 3l-3 3l-3 -3zM151.86 179.95l3 3l-3 3l-3 -3zM151.84 179.79l3 3l-3 3l-3 -3z" fill="#0000ff"/><polyline points="151.84,182.79 151.84,182.8 151.84,182.82 151.84,182.83 151.85,182.85 151.85,182.87 151.85,182.88 151.85,182.9 151.85,182.92 151.85,182.94 151.86,182.95 151.86,182.97 151.86,182.99 151.86,183.01 151.87,183.03 151.87,183.05 151.87,183.08 151.88,183.1 151.88,183.12 151.88,183.14 151.89,183.17 151.89,183.19 151.9,183.22 151.9,183.24 151.91,183.27 151.91,183.29 151.92,183.32 151.93,183.35 151.93,183.38 151.94,183.4 151.95,183.43 151.96,183.46 151.97,183.49 151.98,183.53 151.99,183.56 152,183.59 152.01,183.62 152.02,183.66 152.03,183.69 152.04,183.73 152.06,183.77 152.07,183.8 152.09,183.84 152.1,183.88 152.12,183.92 152.14,183.96 152.15,184 152.17,184.04 152.19,184.08 152.22,184.13 152.24,184.17 152.26,184.21 152.29,184.26 152.31,184.31 152.34,184.35 152.37,184.4 152.4,184.45 152.43,184.5 152.46,184.55 152.5,184.6 152.53,184.65 152.57,184.7 152.61,184.75 152.65,184.81 152.69,184.86 152.74,184.91 152.78,184.97 152.83,185.03 152.88,185.08 152.94,185.14 152.99,185.19 153.05,185.25 153.11,185.31 153.17,185.37 153.24,185.42 153.31,185.48 153.38,185.54 153.45,185.6 153.53,185.65 153.6,185.71 153.69,185.77 153.77,185.82 153.86,185.88 153.95,185.93 154.05,185.99 154.14,186.04 154.25,186.09 154.35,186.15 154.46,186.19 154.57,186.24 154.69,186.29 154.8,186.34 154.93,186.38 155.05,186.42 155.18,186.46 155.32,186.5 155.45,186.53 155.59,186.56 155.74,186.59 155.88,186.61 156.04,186.63 156.19,186.65 156.35,186.67 156.51,186.68 156.67,186.68 156.84,186.69 157.01,186.68 157.18,186.68 157.36,186.66 157.53,186.65 157.71,186.62 157.9,186.59 158.08,186.56 158.27,186.52 158.45,186.48 158.64,186.42 158.83,186.37 159.02,186.3 159.21,186.23 159.41,186.15 159.6,186.07 159.79,185.98 159.98,185.88 160.17,185.78 160.36,185.67 160.55,185.55 160.73,185.42 160.92,185.29 161.1,185.15 161.28,185.01 161.46,184.85 161.63,184.69 161.8,184.53 161.97,184.35 162.14,184.17 162.3,183.99 162.45,183.79 162.6,183.59 162.75,183.39 162.89,183.18 163.03,182.96 163.16,182.74 163.29,182.51 163.41,182.27 163.53,182.03 163.64,181.79 163.74,181.54 163.84,181.28 163.93,181.02 164.02,180.76 164.1,180.49 164.18,180.21 164.24,179.93 164.3,179.65 164.36,179.36 164.41,179.07 164.45,178.78 164.48,178.48 164.51,178.18 164.53,177.87 164.55,177.57 164.56,177.25 164.56,176.94 164.55,176.62 164.54,176.3 164.52,175.97 164.5,175.65 164.46,175.32 164.43,174.98 164.38,174.65 164.33,174.31 164.27,173.97 164.21,173.62 164.13,173.28 164.05,172.93 163.97,172.58 163.88,172.22 163.78,171.86 163.67,171.51 163.56,171.14 163.44,170.78 163.31,170.41 163.18,170.04 163.04,169.67 162.89,169.3 162.74,168.92 162.58,168.54 162.41,168.16 162.24,167.78 162.05,167.39 161.86,167.01 161.67,166.61 161.46,166.22 161.25,165.83 161.03,165.43 160.8,165.03 160.57,164.63 160.32,164.22 160.07,163.81 159.81,163.4 159.55,162.99 159.27,162.58 158.99,162.16 158.7,161.74 158.39,161.32 158.09,160.9 157.77,160.48 157.44,160.05 157.1,159.62 156.76,159.19 156.4,158.76 156.04,158.33 155.66,157.89 155.28,157.46 154.88,157.02 154.48,156.58 154.06,156.14 153.64,155.7 153.2,155.26 152.76,154.82 152.3,154.38 151.84,153.93 151.36,153.49 150.87,153.05 150.37,152.6 149.86,152.16 149.33,151.72 148.8,151.28 148.25,150.84 147.69,150.4 147.13,149.96 146.54,149.53 145.95,149.09 145.35,148.66 144.73,148.23 144.1,147.8 143.46,147.38 142.8,146.96 142.14,146.54 141.46,146.13 140.77,145.72 140.07,145.32 139.35,144.92 138.63,144.52 137.89,144.13 137.14,143.75 136.37,143.37 135.6,143 134.82,142.64 134.02,142.28 133.21,141.93 132.39,141.59 131.56,141.26 130.72,140.94 129.87,140.62 129.01,140.31 128.13,140.01 127.25,139.73 126.36,139.45 125.46,139.18 124.55,138.92 123.64,138.68 122.71,138.44 121.78,138.22 120.84,138.01 119.89,137.81 118.93,137.62 117.97,137.45 117.01,137.29 116.04,137.14 115.06,137 114.08,136.88 113.09,136.77 112.11,136.67 111.11,136.59 110.12,136.52 109.13,136.46 108.13,136.42 107.13,136.39 106.13,136.38 105.13,136.38 104.14,136.39 103.14,136.42 102.15,136.46 101.15,136.52 100.16,136.58 99.18,136.67 98.19,136.76 97.21,136.87 96.24,136.99 95.27,137.12 94.3,137.27 93.35,137.43 92.39,137.6 91.45,137.78 90.51,137.98 89.58,138.18 88.66,138.4 87.74,138.63 86.84,138.87 85.94,139.12 85.05,139.38 84.18,139.65 83.31,139.93 82.45,140.21 81.6,140.51 80.76,140.81 79.94,141.12 79.12,141.44 78.32,141.77 77.53,142.11 76.74,142.45 75.97,142.79 75.22,143.15 74.47,143.5 73.74,143.87 73.01,144.23 72.3,144.61 71.6,144.98 70.92,145.36 70.24,145.75 69.58,146.14 68.93,146.53 68.29,146.92 67.67,147.31 67.05,147.71 66.45,148.11 65.86,148.51 65.28,148.91 64.71,149.31 64.15,149.71 63.61,150.12 63.08,150.52 62.55,150.92 62.04,151.32 61.54,151.72 61.05,152.13 60.58,152.52 60.11,152.92 59.65,153.32 59.2,153.72 58.77,154.11 58.34,154.5 57.92,154.89 57.51,155.28 57.11,155.67 56.72,156.05 56.34,156.43 55.97,156.81 55.61,157.18 55.26,157.55 54.91,157.92 54.57,158.29 54.25,158.65 53.92,159.01 53.61,159.37 53.31,159.72 53.01,160.07 52.72,160.41 52.43,160.76 52.16,161.09 51.89,161.43 51.62,161.76 51.37,162.09 51.12,162.41 50.87,162.73 50.64,163.05 50.41,163.36 50.18,163.67 49.96,163.97 49.74,164.27 49.53,164.57 49.33,164.86 49.13,165.15 48.94,165.44 48.75,165.72 48.57,166 48.39,166.27 48.21,166.54 48.04,166.81 47.87,167.07 47.71,167.33 47.55,167.58 47.4,167.84 47.25,168.08 47.1,168.33 46.96,168.57 46.82,168.8 46.69,169.04 46.55,169.27 46.43,169.49 46.3,169.72 46.18,169.93 46.06,170.15 45.94,170.36 45.83,170.57 45.72,170.78 45.61,170.98 45.51,171.18 45.4,171.38 45.3,171.57 45.21,171.76 45.11,171.94 45.02,172.13 44.93,172.31 44.84,172.49 44.76,172.66 44.67,172.83 44.59,173 44.51,173.17 44.43,173.33 44.36,173.49 44.28,173.65 44.21,173.8 44.14,173.96 44.07,174.11 44,174.25 43.94,174.4 43.88,174.54 43.81,174.68 43.75,174.82 43.69,174.95 43.64,175.09 43.58,175.22 43.52,175.34 43.47,175.47 43.42,175.59 43.37,175.71 43.32,175.83 43.27,175.95 43.22,176.07 43.17,176.18 43.13,176.29 43.08,176.4 43.04,176.51 43,176.61 42.95,176.72 42.91,176.82 42.87,176.92 42.84,177.02 42.8,177.11 42.76,177.21 42.73,177.3 42.69,177.39 42.66,177.48 42.62,177.57 42.59,177.65 42.56,177.74 42.53,177.82 42.5,177.9 42.47,177.98 42.44,178.06 42.41,178.14 42.38,178.21 42.35,178.29 42.33,178.36 42.3,178.43 42.27,178.5 42.25,178.57 42.22,178.64 42.2,178.71 42.18,178.77 42.15,178.84 42.13,178.9 42.11,178.96 42.09,179.02 42.07,179.08 42.05,179.14 42.03,179.2 42.01,179.26 41.99,179.31 41.97,179.37 41.95,179.42 41.93,179.47 41.92,179.52 41.9,179.57 41.88,179.62 41.86,179.67 41.85,179.72 41.83,179.76 41.82,179.81 41.8,179.86 41.79,179.9 41.77,179.94 41.76,179.99 41.75,180.03 41.73,180.07 41.72,180.11 41.71,180.15 41.69,180.19 41.68,180.23 41.67,180.26 41.66,180.3 41.64,180.33 41.63,180.37 41.62,180.4 41.61,180.44 41.6,180.47 41.59,180.5 41.58,180.54 41.57,180.57 41.56,180.6 41.55,180.63 41.54,180.66 41.53,180.69 41.52,180.72 41.51,180.74 41.5,180.77 41.5,180.8 41.49,180.83 41.48,180.85 41.47,180.88 41.46,180.9 41.46,180.93 41.45,180.95 41.44,180.98 41.43,181 41.43,181.02 41.42,181.04 41.41,181.07 41.41,181.09 41.4,181.11 41.39,181.13 41.39,181.15 41.38,181.17 41.37,181.19 41.37,181.21 41.36,181.23 41.36,181.25 41.35,181.26 41.35,181.28 41.34,181.3 41.33,181.32 41.33,181.33 41.32,181.35 41.32,181.36 41.32,181.38 41.31,181.4 41.31,181.41 41.3,181.43 41.3,181.44 41.29,181.46 41.29,181.47 41.28,181.48 41.28,181.5 41.28,181.51 41.27,181.52 41.27,181.54 41.26,181.55 41.26,181.56 41.26,181.57 41.25,181.59 41.25,181.6 41.25,181.61 41.24,181.62 41.24,181.63 41.24,181.64 41.23,181.65 41.23,181.66 41.23,181.67 41.22,181.68 41.22,181.69 41.22,181.7 41.22,181.71 41.21,181.72 41.21,181.73 41.21,181.74 41.2,181.75 41.2,181.76 41.2,181.77 41.2,181.77 41.19,181.78 41.19,181.79 41.19,181.8 41.19,181.8 41.19,181.81 41.18,181.82 41.18,181.83 41.18,181.83 41.18,181.84 41.17,181.85 41.17,181.85 41.17,181.86 41.17,181.87 41.17,181.87 41.17,181.88 41.16,181.89 41.16,181.89 41.16,181.9 41.16,181.9 41.16,181.91 41.16,181.92 41.15,181.92 41.15,181.93 41.15,181.93 41.15,181.94 41.15,181.94 41.15,181.95 41.14,181.95 41.14,181.96" fill="none" stroke="#ff1a1a" stroke-width="1.35" stroke-linejoin="round"/><path d="M41.14 178.98l3 3l-3 3l-3 -3zM41.15 178.94l3 3l-3 3l-3 -3zM41.17 178.88l3 3l-3 3l-3 -3zM41.19 178.82l3 3l-3 3l-3 -3zM41.21 178.74l3 3l-3 3l-3 -3zM41.24 178.64l3 3l-3 3l-3 -3zM41.28 178.52l3 3l-3 3l-3 -3zM41.32 178.38l3 3l-3 3l-3 -3zM41.38 178.21l3 3l-3 3l-3 -3zM41.44 178l3 3l-3 3l-3 -3zM41.52 177.75l3 3l-3 3l-3 -3zM41.62 177.45l3 3l-3 3l-3 -3zM41.75 177.08l3 3l-3 3l-3 -3zM41.9 176.64l3 3l-3 3l-3 -3zM42.09 176.11l3 3l-3 3l-3 -3zM42.32 175.47l3 3l-3 3l-3 -3zM42.62 174.71l3 3l-3 3l-3 -3zM42.99 173.79l3 3l-3 3l-3 -3zM43.46 172.69l3 3l-3 3l-3 -3zM44.06 171.39l3 3l-3 3l-3 -3zM44.82 169.85l3 3l-3 3l-3 -3zM45.8 168.03l3 3l-3 3l-3 -3zM47.07 165.9l3 3l-3 3l-3 -3zM48.69 163.45l3 3l-3 3l-3 -3zM50.78 160.65l3 3l-3 3l-3 -3zM53.46 157.53l3 3l-3 3l-3 -3zM56.87 154.13l3 3l-3 3l-3 -3zM61.15 150.56l3 3l-3 3l-3 -3zM66.42 146.98l3 3l-3 3l-3 -3zM72.76 143.64l3 3l-3 3l-3 -3zM80.12 140.81l3 3l-3 3l-3 -3zM88.34 138.8l3 3l-3 3l-3 -3zM97.12 137.86l3 3l-3 3l-3 -3zM106.05 138.11l3 3l-3 3l-3 -3zM114.69 139.54l3 3l-3 3l-3 -3zM122.66 141.97l3 3l-3 3l-3 -3zM129.7 145.16l3 3l-3 3l-3 -3zM135.69 148.79l3 3l-3 3l-3 -3zM140.62 152.62l3 3l-3 3l-3 -3zM144.58 156.43l3 3l-3 3l-3 -3zM147.67 160.1l3 3l-3 3l-3 -3zM150.04 163.55l3 3l-3 3l-3 -3zM151.77 166.75l3 3l-3 3l-3 -3zM152.96 169.72l3 3l-3 3l-3 -3zM153.63 172.44l3 3l-3 3l-3 -3zM153.82 174.9l3 3l-3 3l-3 -3zM153.53 177.08l3 3l-3 3l-3 -3zM152.82 178.88l3 3l-3 3l-3 -3zM151.78 180.24l3 3l-3 3l-3 -3zM150.58 181.11l3 3l-3 3l-3 -3zM149.39 181.52l3 3l-3 3l-3 -3zM148.36 181.57l3 3l-3 3l-3 -3zM147.55 181.4l3 3l-3 3l-3 -3zM146.96 181.11l3 3l-3 3l-3 -3zM146.56 180.79l3 3l-3 3l-3 -3zM146.3 180.49l3 3l-3 3l-3 -3zM146.14 180.23l3 3l-3 3l-3 -3zM146.05 180.01l3 3l-3 3l-3 -3zM145.99 179.83l3 3l-3 3l-3 -3zM145.97 179.69l3 3l-3 3l-3 -3zM145.96 179.57l3 3l-3 3l-3 -3z" fill="#00e000"/><polyline points="145.96,182.57 145.96,182.58 145.96,182.59 145.96,182.6 145.96,182.61 145.96,182.63 145.96,182.64 145.96,182.65 145.96,182.66 145.97,182.67 145.97,182.69 145.97,182.7 145.97,182.71 145.97,182.73 145.98,182.74 145.98,182.75 145.98,182.77 145.98,182.78 145.99,182.8 145.99,182.81 145.99,182.83 146,182.85 146,182.86 146.01,182.88 146.01,182.9 146.02,182.91 146.02,182.93 146.03,182.95 146.03,182.97 146.04,182.99 146.05,183.01 146.05,183.03 146.06,183.05 146.07,183.07 146.08,183.09 146.09,183.12 146.1,183.14 146.11,183.16 146.12,183.18 146.13,183.21 146.14,183.23 146.16,183.26 146.17,183.28 146.18,183.31 146.2,183.33 146.21,183.36 146.23,183.39 146.25,183.41 146.26,183.44 146.28,183.47 146.3,183.5 146.32,183.53 146.35,183.55 146.37,183.58 146.39,183.61 146.42,183.64 146.45,183.67 146.47,183.7 146.5,183.74 146.53,183.77 146.56,183.8 146.6,183.83 146.63,183.86 146.67,183.89 146.71,183.92 146.75,183.96 146.79,183.99 146.83,184.02 146.87,184.05 146.92,184.08 146.97,184.11 147.02,184.15 147.07,184.18 147.12,184.21 147.18,184.24 147.24,184.27 147.3,184.29 147.36,184.32 147.42,184.35 147.49,184.37 147.56,184.4 147.63,184.42 147.7,184.45 147.78,184.47 147.86,184.49 147.94,184.51 148.02,184.52 148.11,184.54 148.19,184.55 148.28,184.56 148.38,184.57 148.47,184.58 148.57,184.58 148.67,184.58 148.77,184.58 148.87,184.58 148.97,184.57 149.08,184.56 149.19,184.55 149.3,184.53 149.41,184.51 149.53,184.49 149.64,184.46 149.76,184.43 149.88,184.39 150,184.36 150.12,184.31 150.24,184.26 150.36,184.21 150.48,184.16 150.6,184.09 150.73,184.03 150.85,183.96 150.97,183.88 151.09,183.8 151.21,183.72 151.33,183.63 151.45,183.53 151.57,183.43 151.69,183.33 151.81,183.22 151.92,183.1 152.03,182.98 152.14,182.86 152.25,182.73 152.35,182.59 152.46,182.45 152.56,182.31 152.65,182.16 152.75,182 152.84,181.85 152.93,181.68 153.01,181.52 153.09,181.35 153.17,181.17 153.24,180.99 153.31,180.81 153.37,180.62 153.43,180.43 153.49,180.23 153.54,180.03 153.59,179.83 153.63,179.62 153.67,179.41 153.71,179.2 153.74,178.98 153.76,178.76 153.78,178.54 153.8,178.31 153.81,178.08 153.82,177.85 153.82,177.61 153.82,177.37 153.81,177.13 153.8,176.89 153.78,176.64 153.76,176.39 153.73,176.14 153.7,175.88 153.66,175.63 153.62,175.37 153.57,175.11 153.52,174.84 153.46,174.57 153.4,174.3 153.34,174.03 153.27,173.76 153.19,173.48 153.11,173.2 153.02,172.92 152.93,172.64 152.83,172.35 152.73,172.06 152.63,171.77 152.51,171.48 152.4,171.18 152.27,170.88 152.15,170.58 152.01,170.28 151.87,169.97 151.73,169.66 151.58,169.35 151.43,169.04 151.27,168.72 151.1,168.4 150.93,168.08 150.75,167.76 150.56,167.43 150.37,167.11 150.18,166.77 149.97,166.44 149.77,166.11 149.55,165.77 149.33,165.43 149.1,165.08 148.86,164.74 148.62,164.39 148.37,164.04 148.12,163.69 147.85,163.33 147.58,162.98 147.31,162.62 147.02,162.26 146.73,161.89 146.43,161.53 146.12,161.16 145.8,160.79 145.48,160.42 145.14,160.05 144.8,159.67 144.45,159.3 144.09,158.92 143.73,158.54 143.35,158.16 142.96,157.78 142.57,157.4 142.17,157.01 141.75,156.63 141.33,156.25 140.9,155.86 140.46,155.47 140,155.09 139.54,154.7 139.07,154.32 138.59,153.93 138.1,153.55 137.59,153.17 137.08,152.78 136.56,152.4 136.02,152.02 135.48,151.65 134.92,151.27 134.36,150.9 133.78,150.53 133.19,150.16 132.59,149.79 131.98,149.43 131.36,149.07 130.73,148.72 130.09,148.36 129.44,148.02 128.78,147.68 128.1,147.34 127.42,147.01 126.73,146.68 126.02,146.36 125.31,146.05 124.58,145.74 123.85,145.44 123.1,145.14 122.35,144.86 121.58,144.58 120.81,144.31 120.03,144.04 119.24,143.79 118.44,143.54 117.63,143.31 116.82,143.08 115.99,142.86 115.16,142.65 114.33,142.45 113.48,142.27 112.63,142.09 111.78,141.92 110.92,141.77 110.05,141.62 109.18,141.49 108.3,141.37 107.42,141.26 106.54,141.16 105.65,141.07 104.76,141 103.87,140.94 102.97,140.88 102.08,140.85 101.18,140.82 100.29,140.81 99.39,140.81 98.49,140.82 97.6,140.84 96.7,140.87 95.81,140.92 94.92,140.98 94.03,141.05 93.15,141.13 92.27,141.23 91.39,141.34 90.52,141.45 89.65,141.58 88.78,141.72 87.93,141.87 87.07,142.04 86.23,142.21 85.39,142.39 84.56,142.58 83.73,142.78 82.92,143 82.11,143.22 81.3,143.45 80.51,143.69 79.73,143.93 78.95,144.19 78.18,144.45 77.43,144.72 76.68,145 75.94,145.28 75.21,145.57 74.5,145.87 73.79,146.17 73.09,146.48 72.4,146.8 71.73,147.12 71.06,147.44 70.41,147.77 69.76,148.1 69.13,148.44 68.5,148.78 67.89,149.12 67.29,149.47 66.7,149.82 66.12,150.17 65.55,150.52 64.99,150.88 64.44,151.24 63.9,151.59 63.37,151.95 62.86,152.31 62.35,152.67 61.85,153.04 61.37,153.4 60.89,153.76 60.42,154.12 59.97,154.48 59.52,154.84 59.08,155.2 58.66,155.56 58.24,155.92 57.83,156.27 57.43,156.63 57.04,156.98 56.65,157.33 56.28,157.68 55.92,158.03 55.56,158.37 55.21,158.72 54.87,159.06 54.54,159.4 54.21,159.73 53.9,160.07 53.59,160.4 53.29,160.72 52.99,161.05 52.7,161.37 52.42,161.69 52.15,162 51.88,162.32 51.62,162.63 51.37,162.93 51.12,163.24 50.88,163.54 50.64,163.83 50.41,164.13 50.18,164.42 49.97,164.7 49.75,164.98 49.54,165.26 49.34,165.54 49.14,165.81 48.95,166.08 48.76,166.35 48.58,166.61 48.4,166.87 48.22,167.13 48.05,167.38 47.89,167.63 47.73,167.87 47.57,168.11 47.41,168.35 47.26,168.59 47.12,168.82 46.98,169.05 46.84,169.27 46.7,169.49 46.57,169.71 46.44,169.93 46.32,170.14 46.19,170.35 46.07,170.56 45.96,170.76 45.84,170.96 45.73,171.15 45.63,171.35 45.52,171.54 45.42,171.73 45.32,171.91 45.22,172.09 45.13,172.27 45.03,172.45 44.94,172.62 44.85,172.79 44.77,172.96 44.68,173.12 44.6,173.28 44.52,173.44 44.44,173.6 44.37,173.75 44.29,173.9 44.22,174.05 44.15,174.2 44.08,174.34 44.02,174.49 43.95,174.63 43.89,174.76 43.82,174.9 43.76,175.03 43.7,175.16 43.64,175.29 43.59,175.41 43.53,175.54 43.48,175.66 43.43,175.78 43.37,175.89 43.32,176.01 43.27,176.12 43.23,176.23 43.18,176.34 43.13,176.45 43.09,176.56 43.05,176.66 43,176.76 42.96,176.86 42.92,176.96 42.88,177.06 42.84,177.15 42.81,177.24 42.77,177.33 42.73,177.42 42.7,177.51 42.66,177.6 42.63,177.68 42.6,177.77 42.56,177.85 42.53,177.93 42.5,178.01 42.47,178.09 42.44,178.16 42.41,178.24 42.39,178.31 42.36,178.38 42.33,178.45 42.3,178.52 42.28,178.59 42.25,178.66 42.23,178.73 42.21,178.79 42.18,178.85 42.16,178.92 42.14,178.98 42.11,179.04 42.09,179.1 42.07,179.15 42.05,179.21 42.03,179.27 42.01,179.32 41.99,179.38 41.97,179.43 41.96,179.48 41.94,179.53 41.92,179.58 41.9,179.63 41.89,179.68 41.87,179.73 41.85,179.77 41.84,179.82 41.82,179.86 41.81,179.91 41.79,179.95 41.78,179.99 41.76,180.03 41.75,180.07 41.74,180.11 41.72,180.15 41.71,180.19 41.7,180.23 41.68,180.27 41.67,180.3 41.66,180.34 41.65,180.37 41.64,180.41 41.63,180.44 41.61,180.47 41.6,180.51 41.59,180.54 41.58,180.57 41.57,180.6 41.56,180.63 41.55,180.66 41.54,180.69 41.53,180.72 41.53,180.75 41.52,180.77 41.51,180.8 41.5,180.83 41.49,180.85 41.48,180.88 41.47,180.9 41.47,180.93 41.46,180.95 41.45,180.97 41.44,181 41.44,181.02 41.43,181.04 41.42,181.06 41.42,181.09 41.41,181.11 41.4,181.13 41.4,181.15 41.39,181.17 41.38,181.19 41.38,181.21 41.37,181.22 41.37,181.24 41.36,181.26 41.35,181.28 41.35,181.3 41.34,181.31 41.34,181.33 41.33,181.35 41.33,181.36 41.32,181.38 41.32,181.39 41.31,181.41 41.31,181.42 41.3,181.44 41.3,181.45 41.3,181.47 41.29,181.48 41.29,181.5 41.28,181.51 41.28,181.52 41.27,181.53 41.27,181.55 41.27,181.56 41.26,181.57 41.26,181.58 41.26,181.6 41.25,181.61 41.25,181.62 41.25,181.63 41.24,181.64 41.24,181.65 41.24,181.66 41.23,181.67 41.23,181.68 41.23,181.69 41.22,181.7 41.22,181.71 41.22,181.72 41.22,181.73 41.21,181.74 41.21,181.75 41.21,181.75 41.2,181.76 41.2,181.77 41.2,181.78 41.2,181.79 41.19,181.8 41.19,181.8 41.19,181.81 41.19,181.82 41.19,181.82 41.18,181.83 41.18,181.84 41.18,181.85 41.18,181.85 41.18,181.86 41.17,181.87 41.17,181.87 41.17,181.88 41.17,181.88 41.17,181.89 41.16,181.9 41.16,181.9 41.16,181.91 41.16,181.91 41.16,181.92 41.16,181.92 41.15,181.93 41.15,181.93 41.15,181.94 41.15,181.94 41.15,181.95 41.15,181.95 41.15,181.96 41.14,181.96 41.14,181.97 41.14,181.97 41.14,181.98 41.14,181.98 41.14,181.98" fill="none" stroke="#ff1a1a" stroke-width="1.35" stroke-linejoin="round"/><path d="M301.4 320.34l3 3l-3 3l-3 -3zM297.01 322.5l3 3l-3 3l-3 -3zM292.62 325.06l3 3l-3 3l-3 -3zM288.23 328.07l3 3l-3 3l-3 -3zM283.84 331.59l3 3l-3 3l-3 -3zM279.45 335.69l3 3l-3 3l-3 -3zM275.06 340.43l3 3l-3 3l-3 -3zM270.67 345.86l3 3l-3 3l-3 -3zM266.28 352.02l3 3l-3 3l-3 -3zM261.89 358.91l3 3l-3 3l-3 -3zM257.5 366.5l3 3l-3 3l-3 -3zM253.11 374.71l3 3l-3 3l-3 -3zM248.72 383.39l3 3l-3 3l-3 -3zM244.33 392.35l3 3l-3 3l-3 -3zM239.94 401.37l3 3l-3 3l-3 -3zM235.55 410.19l3 3l-3 3l-3 -3zM231.16 418.58l3 3l-3 3l-3 -3zM226.77 426.33l3 3l-3 3l-3 -3zM222.38 433.27l3 3l-3 3l-3 -3zM217.99 439.29l3 3l-3 3l-3 -3zM213.6 444.32l3 3l-3 3l-3 -3zM209.21 448.32l3 3l-3 3l-3 -3zM204.82 451.29l3 3l-3 3l-3 -3zM200.43 453.22l3 3l-3 3l-3 -3zM196.04 454.12l3 3l-3 3l-3 -3zM191.65 453.99l3 3l-3 3l-3 -3zM187.26 452.83l3 3l-3 3l-3 -3zM182.87 450.65l3 3l-3 3l-3 -3zM178.48 447.42l3 3l-3 3l-3 -3zM174.09 443.14l3 3l-3 3l-3 -3zM169.7 437.84l3 3l-3 3l-3 -3zM165.31 431.55l3 3l-3 3l-3 -3zM160.92 424.33l3 3l-3 3l-3 -3zM156.53 416.31l3 3l-3 3l-3 -3zM152.14 407.65l3 3l-3 3l-3 -3zM147.75 398.55l3 3l-3 3l-3 -3zM143.36 389.24l3 3l-3 3l-3 -3zM138.97 379.94l3 3l-3 3l-3 -3zM134.58 370.85l3 3l-3 3l-3 -3zM130.19 362.12l3 3l-3 3l-3 -3zM125.8 353.85l3 3l-3 3l-3 -3zM121.41 346.07l3 3l-3 3l-3 -3zM117.02 338.76l3 3l-3 3l-3 -3zM112.63 331.89l3 3l-3 3l-3 -3zM108.24 325.39l3 3l-3 3l-3 -3zM103.85 319.26l3 3l-3 3l-3 -3zM99.46 313.53l3 3l-3 3l-3 -3zM95.07 308.35l3 3l-3 3l-3 -3zM90.68 303.97l3 3l-3 3l-3 -3zM86.29 300.7l3 3l-3 3l-3 -3zM81.9 298.73l3 3l-3 3l-3 -3zM77.51 298.04l3 3l-3 3l-3 -3zM73.12 298.39l3 3l-3 3l-3 -3zM68.73 299.4l3 3l-3 3l-3 -3zM64.34 300.73l3 3l-3 3l-3 -3zM59.95 302.11l3 3l-3 3l-3 -3zM55.56 303.39l3 3l-3 3l-3 -3zM51.17 304.51l3 3l-3 3l-3 -3zM46.78 305.44l3 3l-3 3l-3 -3zM42.39 306.21l3 3l-3 3l-3 -3zM38 306.82l3 3l-3 3l-3 -3z" fill="#800080" clip-path="url(#c2)"/><polyline points="38,309.82 38.44,309.76 38.88,309.71 39.32,309.65 39.76,309.59 40.2,309.53 40.64,309.47 41.08,309.4 41.52,309.34 41.96,309.27 42.4,309.2 42.84,309.14 43.28,309.06 43.72,308.99 44.16,308.92 44.6,308.84 45.04,308.77 45.48,308.69 45.92,308.61 46.35,308.52 46.79,308.44 47.23,308.35 47.67,308.27 48.11,308.18 48.55,308.09 48.99,307.99 49.43,307.9 49.87,307.8 50.31,307.71 50.75,307.61 51.19,307.5 51.63,307.4 52.07,307.29 52.51,307.19 52.95,307.08 53.39,306.97 53.83,306.85 54.27,306.74 54.71,306.62 55.15,306.5 55.59,306.38 56.03,306.26 56.47,306.14 56.91,306.01 57.35,305.89 57.79,305.76 58.23,305.63 58.67,305.5 59.11,305.37 59.55,305.23 59.99,305.1 60.43,304.96 60.87,304.83 61.31,304.69 61.75,304.55 62.19,304.41 62.63,304.27 63.06,304.13 63.5,303.99 63.94,303.85 64.38,303.72 64.82,303.58 65.26,303.44 65.7,303.3 66.14,303.17 66.58,303.03 67.02,302.9 67.46,302.77 67.9,302.64 68.34,302.51 68.78,302.39 69.22,302.27 69.66,302.15 70.1,302.04 70.54,301.93 70.98,301.82 71.42,301.72 71.86,301.63 72.3,301.54 72.74,301.45 73.18,301.38 73.62,301.31 74.06,301.24 74.5,301.19 74.94,301.14 75.38,301.1 75.82,301.07 76.26,301.05 76.7,301.04 77.14,301.03 77.58,301.04 78.02,301.06 78.46,301.09 78.9,301.13 79.33,301.18 79.77,301.25 80.21,301.32 80.65,301.41 81.09,301.51 81.53,301.62 81.97,301.75 82.41,301.89 82.85,302.04 83.29,302.21 83.73,302.39 84.17,302.58 84.61,302.79 85.05,303.01 85.49,303.24 85.93,303.49 86.37,303.75 86.81,304.02 87.25,304.31 87.69,304.61 88.13,304.92 88.57,305.25 89.01,305.58 89.45,305.93 89.89,306.29 90.33,306.67 90.77,307.05 91.21,307.45 91.65,307.85 92.09,308.27 92.53,308.7 92.97,309.13 93.41,309.58 93.85,310.03 94.29,310.5 94.73,310.97 95.17,311.45 95.61,311.94 96.04,312.44 96.48,312.94 96.92,313.45 97.36,313.97 97.8,314.5 98.24,315.03 98.68,315.57 99.12,316.11 99.56,316.66 100,317.21 100.44,317.77 100.88,318.33 101.32,318.9 101.76,319.48 102.2,320.06 102.64,320.64 103.08,321.22 103.52,321.82 103.96,322.41 104.4,323.01 104.84,323.61 105.28,324.22 105.72,324.83 106.16,325.44 106.6,326.06 107.04,326.68 107.48,327.3 107.92,327.93 108.36,328.56 108.8,329.2 109.24,329.84 109.68,330.48 110.12,331.13 110.56,331.77 111,332.43 111.44,333.08 111.88,333.74 112.31,334.41 112.75,335.08 113.19,335.75 113.63,336.42 114.07,337.1 114.51,337.79 114.95,338.47 115.39,339.17 115.83,339.86 116.27,340.56 116.71,341.26 117.15,341.97 117.59,342.69 118.03,343.4 118.47,344.12 118.91,344.85 119.35,345.58 119.79,346.32 120.23,347.06 120.67,347.8 121.11,348.55 121.55,349.31 121.99,350.06 122.43,350.83 122.87,351.6 123.31,352.37 123.75,353.15 124.19,353.93 124.63,354.72 125.07,355.52 125.51,356.31 125.95,357.12 126.39,357.93 126.83,358.74 127.27,359.56 127.71,360.38 128.15,361.21 128.58,362.04 129.02,362.88 129.46,363.72 129.9,364.57 130.34,365.42 130.78,366.28 131.22,367.14 131.66,368.01 132.1,368.88 132.54,369.75 132.98,370.63 133.42,371.51 133.86,372.4 134.3,373.29 134.74,374.18 135.18,375.08 135.62,375.98 136.06,376.88 136.5,377.79 136.94,378.7 137.38,379.62 137.82,380.53 138.26,381.45 138.7,382.37 139.14,383.3 139.58,384.22 140.02,385.15 140.46,386.08 140.9,387.01 141.34,387.94 141.78,388.88 142.22,389.81 142.66,390.74 143.1,391.68 143.54,392.62 143.98,393.55 144.42,394.49 144.86,395.42 145.29,396.36 145.73,397.29 146.17,398.22 146.61,399.15 147.05,400.08 147.49,401.01 147.93,401.94 148.37,402.86 148.81,403.78 149.25,404.7 149.69,405.62 150.13,406.53 150.57,407.44 151.01,408.34 151.45,409.25 151.89,410.14 152.33,411.04 152.77,411.93 153.21,412.81 153.65,413.69 154.09,414.56 154.53,415.43 154.97,416.29 155.41,417.15 155.85,418 156.29,418.85 156.73,419.69 157.17,420.52 157.61,421.35 158.05,422.16 158.49,422.98 158.93,423.78 159.37,424.58 159.81,425.37 160.25,426.15 160.69,426.92 161.13,427.69 161.56,428.44 162,429.19 162.44,429.93 162.88,430.67 163.32,431.39 163.76,432.1 164.2,432.81 164.64,433.51 165.08,434.19 165.52,434.87 165.96,435.54 166.4,436.2 166.84,436.85 167.28,437.49 167.72,438.12 168.16,438.75 168.6,439.36 169.04,439.96 169.48,440.55 169.92,441.13 170.36,441.7 170.8,442.26 171.24,442.82 171.68,443.36 172.12,443.89 172.56,444.41 173,444.92 173.44,445.42 173.88,445.91 174.32,446.39 174.76,446.86 175.2,447.32 175.64,447.77 176.08,448.21 176.52,448.63 176.96,449.05 177.4,449.46 177.84,449.85 178.27,450.24 178.71,450.61 179.15,450.98 179.59,451.33 180.03,451.68 180.47,452.01 180.91,452.33 181.35,452.65 181.79,452.95 182.23,453.24 182.67,453.52 183.11,453.79 183.55,454.05 183.99,454.3 184.43,454.54 184.87,454.77 185.31,454.99 185.75,455.2 186.19,455.4 186.63,455.58 187.07,455.76 187.51,455.93 187.95,456.08 188.39,456.23 188.83,456.36 189.27,456.49 189.71,456.6 190.15,456.71 190.59,456.8 191.03,456.89 191.47,456.96 191.91,457.02 192.35,457.08 192.79,457.12 193.23,457.15 193.67,457.17 194.11,457.19 194.54,457.19 194.98,457.18 195.42,457.16 195.86,457.13 196.3,457.09 196.74,457.04 197.18,456.98 197.62,456.91 198.06,456.83 198.5,456.74 198.94,456.64 199.38,456.52 199.82,456.4 200.26,456.27 200.7,456.13 201.14,455.97 201.58,455.81 202.02,455.64 202.46,455.45 202.9,455.26 203.34,455.05 203.78,454.84 204.22,454.61 204.66,454.37 205.1,454.13 205.54,453.87 205.98,453.6 206.42,453.33 206.86,453.04 207.3,452.74 207.74,452.43 208.18,452.11 208.62,451.78 209.06,451.44 209.5,451.09 209.94,450.73 210.38,450.36 210.82,449.98 211.25,449.58 211.69,449.18 212.13,448.77 212.57,448.34 213.01,447.91 213.45,447.47 213.89,447.01 214.33,446.55 214.77,446.07 215.21,445.59 215.65,445.09 216.09,444.59 216.53,444.07 216.97,443.54 217.41,443.01 217.85,442.46 218.29,441.91 218.73,441.34 219.17,440.76 219.61,440.18 220.05,439.58 220.49,438.98 220.93,438.36 221.37,437.74 221.81,437.1 222.25,436.46 222.69,435.81 223.13,435.15 223.57,434.48 224.01,433.8 224.45,433.11 224.89,432.41 225.33,431.7 225.77,430.99 226.21,430.27 226.65,429.53 227.09,428.79 227.52,428.05 227.96,427.29 228.4,426.53 228.84,425.76 229.28,424.98 229.72,424.19 230.16,423.4 230.6,422.6 231.04,421.79 231.48,420.98 231.92,420.16 232.36,419.34 232.8,418.51 233.24,417.67 233.68,416.83 234.12,415.98 234.56,415.13 235,414.27 235.44,413.41 235.88,412.54 236.32,411.67 236.76,410.79 237.2,409.91 237.64,409.03 238.08,408.15 238.52,407.26 238.96,406.37 239.4,405.47 239.84,404.58 240.28,403.68 240.72,402.78 241.16,401.88 241.6,400.97 242.04,400.07 242.48,399.17 242.92,398.26 243.36,397.36 243.79,396.45 244.23,395.55 244.67,394.64 245.11,393.74 245.55,392.84 245.99,391.93 246.43,391.03 246.87,390.14 247.31,389.24 247.75,388.35 248.19,387.45 248.63,386.56 249.07,385.68 249.51,384.79 249.95,383.91 250.39,383.04 250.83,382.17 251.27,381.3 251.71,380.43 252.15,379.57 252.59,378.71 253.03,377.86 253.47,377.02 253.91,376.17 254.35,375.34 254.79,374.51 255.23,373.68 255.67,372.86 256.11,372.04 256.55,371.24 256.99,370.43 257.43,369.63 257.87,368.84 258.31,368.06 258.75,367.28 259.19,366.51 259.63,365.74 260.07,364.99 260.5,364.23 260.94,363.49 261.38,362.75 261.82,362.02 262.26,361.3 262.7,360.58 263.14,359.87 263.58,359.17 264.02,358.47 264.46,357.78 264.9,357.1 265.34,356.43 265.78,355.77 266.22,355.11 266.66,354.46 267.1,353.81 267.54,353.18 267.98,352.55 268.42,351.92 268.86,351.31 269.3,350.7 269.74,350.1 270.18,349.51 270.62,348.93 271.06,348.35 271.5,347.78 271.94,347.22 272.38,346.66 272.82,346.11 273.26,345.57 273.7,345.04 274.14,344.51 274.58,343.99 275.02,343.48 275.46,342.97 275.9,342.47 276.34,341.98 276.77,341.5 277.21,341.02 277.65,340.54 278.09,340.08 278.53,339.62 278.97,339.17 279.41,338.72 279.85,338.28 280.29,337.85 280.73,337.43 281.17,337.01 281.61,336.59 282.05,336.18 282.49,335.78 282.93,335.39 283.37,335 283.81,334.61 284.25,334.23 284.69,333.86 285.13,333.5 285.57,333.13 286.01,332.78 286.45,332.43 286.89,332.08 287.33,331.75 287.77,331.41 288.21,331.08 288.65,330.76 289.09,330.44 289.53,330.13 289.97,329.82 290.41,329.52 290.85,329.22 291.29,328.92 291.73,328.63 292.17,328.35 292.61,328.07 293.05,327.79 293.48,327.52 293.92,327.26 294.36,326.99 294.8,326.74 295.24,326.48 295.68,326.23 296.12,325.99 296.56,325.75 297,325.51 297.44,325.27 297.88,325.04 298.32,324.82 298.76,324.6 299.2,324.38 299.64,324.16 300.08,323.95 300.52,323.74 300.96,323.54 301.4,323.34" fill="none" stroke="#ff1a1a" stroke-width="1.35" stroke-linejoin="round"/><path d="M301.4 319.43l3 3l-3 3l-3 -3zM297.01 321.36l3 3l-3 3l-3 -3zM292.62 323.63l3 3l-3 3l-3 -3zM288.23 326.28l3 3l-3 3l-3 -3zM283.84 329.38l3 3l-3 3l-3 -3zM279.45 332.97l3 3l-3 3l-3 -3zM275.06 337.12l3 3l-3 3l-3 -3zM270.67 341.87l3 3l-3 3l-3 -3zM266.28 347.25l3 3l-3 3l-3 -3zM261.89 353.3l3 3l-3 3l-3 -3zM257.5 359.98l3 3l-3 3l-3 -3zM253.11 367.27l3 3l-3 3l-3 -3zM248.72 375.07l3 3l-3 3l-3 -3zM244.33 383.23l3 3l-3 3l-3 -3zM239.94 391.59l3 3l-3 3l-3 -3zM235.55 399.95l3 3l-3 3l-3 -3zM231.16 408.07l3 3l-3 3l-3 -3zM226.77 415.77l3 3l-3 3l-3 -3zM222.38 422.87l3 3l-3 3l-3 -3zM217.99 429.21l3 3l-3 3l-3 -3zM213.6 434.71l3 3l-3 3l-3 -3zM209.21 439.29l3 3l-3 3l-3 -3zM204.82 442.93l3 3l-3 3l-3 -3zM200.43 445.6l3 3l-3 3l-3 -3zM196.04 447.31l3 3l-3 3l-3 -3zM191.65 448.06l3 3l-3 3l-3 -3zM187.26 447.83l3 3l-3 3l-3 -3zM182.87 446.65l3 3l-3 3l-3 -3zM178.48 444.49l3 3l-3 3l-3 -3zM174.09 441.36l3 3l-3 3l-3 -3zM169.7 437.27l3 3l-3 3l-3 -3zM165.31 432.24l3 3l-3 3l-3 -3zM160.92 426.3l3 3l-3 3l-3 -3zM156.53 419.53l3 3l-3 3l-3 -3zM152.14 412.04l3 3l-3 3l-3 -3zM147.75 403.98l3 3l-3 3l-3 -3zM143.36 395.51l3 3l-3 3l-3 -3zM138.97 386.85l3 3l-3 3l-3 -3zM134.58 378.16l3 3l-3 3l-3 -3zM130.19 369.64l3 3l-3 3l-3 -3zM125.8 361.4l3 3l-3 3l-3 -3zM121.41 353.53l3 3l-3 3l-3 -3zM117.02 346.08l3 3l-3 3l-3 -3zM112.63 339.03l3 3l-3 3l-3 -3zM108.24 332.38l3 3l-3 3l-3 -3zM103.85 326.11l3 3l-3 3l-3 -3zM99.46 320.26l3 3l-3 3l-3 -3zM95.07 314.95l3 3l-3 3l-3 -3zM90.68 310.39l3 3l-3 3l-3 -3zM86.29 306.8l3 3l-3 3l-3 -3zM81.9 304.38l3 3l-3 3l-3 -3zM77.51 303.13l3 3l-3 3l-3 -3zM73.12 302.85l3 3l-3 3l-3 -3zM68.73 303.23l3 3l-3 3l-3 -3zM64.34 303.95l3 3l-3 3l-3 -3zM59.95 304.8l3 3l-3 3l-3 -3zM55.56 305.62l3 3l-3 3l-3 -3zM51.17 306.34l3 3l-3 3l-3 -3zM46.78 306.95l3 3l-3 3l-3 -3zM42.39 307.44l3 3l-3 3l-3 -3zM38 307.83l3 3l-3 3l-3 -3z" fill="#ff00ff" clip-path="url(#c2)"/><polyline points="38,310.83 38.44,310.8 38.88,310.76 39.32,310.72 39.76,310.69 40.2,310.65 40.64,310.61 41.08,310.57 41.52,310.53 41.96,310.48 42.4,310.44 42.84,310.4 43.28,310.35 43.72,310.3 44.16,310.26 44.6,310.21 45.04,310.16 45.48,310.11 45.92,310.06 46.35,310 46.79,309.95 47.23,309.89 47.67,309.84 48.11,309.78 48.55,309.72 48.99,309.66 49.43,309.6 49.87,309.53 50.31,309.47 50.75,309.4 51.19,309.34 51.63,309.27 52.07,309.2 52.51,309.13 52.95,309.06 53.39,308.99 53.83,308.92 54.27,308.84 54.71,308.77 55.15,308.69 55.59,308.61 56.03,308.53 56.47,308.45 56.91,308.37 57.35,308.29 57.79,308.21 58.23,308.13 58.67,308.04 59.11,307.96 59.55,307.88 59.99,307.79 60.43,307.71 60.87,307.62 61.31,307.53 61.75,307.45 62.19,307.36 62.63,307.28 63.06,307.19 63.5,307.11 63.94,307.03 64.38,306.95 64.82,306.86 65.26,306.78 65.7,306.71 66.14,306.63 66.58,306.56 67.02,306.48 67.46,306.41 67.9,306.35 68.34,306.28 68.78,306.22 69.22,306.16 69.66,306.11 70.1,306.06 70.54,306.01 70.98,305.97 71.42,305.94 71.86,305.91 72.3,305.88 72.74,305.86 73.18,305.85 73.62,305.84 74.06,305.84 74.5,305.85 74.94,305.87 75.38,305.89 75.82,305.92 76.26,305.97 76.7,306.02 77.14,306.07 77.58,306.14 78.02,306.22 78.46,306.31 78.9,306.41 79.33,306.52 79.77,306.64 80.21,306.77 80.65,306.92 81.09,307.07 81.53,307.24 81.97,307.42 82.41,307.61 82.85,307.81 83.29,308.02 83.73,308.25 84.17,308.49 84.61,308.74 85.05,309 85.49,309.27 85.93,309.56 86.37,309.86 86.81,310.17 87.25,310.49 87.69,310.82 88.13,311.17 88.57,311.53 89.01,311.89 89.45,312.27 89.89,312.66 90.33,313.06 90.77,313.47 91.21,313.89 91.65,314.32 92.09,314.75 92.53,315.2 92.97,315.66 93.41,316.12 93.85,316.6 94.29,317.08 94.73,317.57 95.17,318.06 95.61,318.57 96.04,319.08 96.48,319.59 96.92,320.12 97.36,320.65 97.8,321.19 98.24,321.73 98.68,322.28 99.12,322.83 99.56,323.39 100,323.96 100.44,324.53 100.88,325.1 101.32,325.68 101.76,326.27 102.2,326.86 102.64,327.45 103.08,328.05 103.52,328.65 103.96,329.26 104.4,329.87 104.84,330.49 105.28,331.11 105.72,331.73 106.16,332.36 106.6,332.99 107.04,333.62 107.48,334.26 107.92,334.9 108.36,335.55 108.8,336.2 109.24,336.85 109.68,337.51 110.12,338.17 110.56,338.84 111,339.51 111.44,340.18 111.88,340.86 112.31,341.54 112.75,342.22 113.19,342.91 113.63,343.61 114.07,344.3 114.51,345 114.95,345.71 115.39,346.42 115.83,347.13 116.27,347.85 116.71,348.57 117.15,349.29 117.59,350.02 118.03,350.76 118.47,351.49 118.91,352.24 119.35,352.98 119.79,353.73 120.23,354.49 120.67,355.25 121.11,356.01 121.55,356.78 121.99,357.55 122.43,358.32 122.87,359.1 123.31,359.89 123.75,360.67 124.19,361.46 124.63,362.26 125.07,363.06 125.51,363.86 125.95,364.67 126.39,365.48 126.83,366.29 127.27,367.11 127.71,367.93 128.15,368.76 128.58,369.59 129.02,370.42 129.46,371.25 129.9,372.09 130.34,372.93 130.78,373.78 131.22,374.62 131.66,375.47 132.1,376.33 132.54,377.18 132.98,378.04 133.42,378.89 133.86,379.76 134.3,380.62 134.74,381.48 135.18,382.35 135.62,383.21 136.06,384.08 136.5,384.95 136.94,385.82 137.38,386.69 137.82,387.56 138.26,388.44 138.7,389.31 139.14,390.18 139.58,391.05 140.02,391.92 140.46,392.79 140.9,393.66 141.34,394.53 141.78,395.4 142.22,396.27 142.66,397.13 143.1,398 143.54,398.86 143.98,399.72 144.42,400.57 144.86,401.43 145.29,402.28 145.73,403.13 146.17,403.98 146.61,404.82 147.05,405.66 147.49,406.49 147.93,407.32 148.37,408.15 148.81,408.97 149.25,409.79 149.69,410.6 150.13,411.41 150.57,412.22 151.01,413.02 151.45,413.81 151.89,414.6 152.33,415.38 152.77,416.16 153.21,416.93 153.65,417.69 154.09,418.45 154.53,419.2 154.97,419.94 155.41,420.68 155.85,421.41 156.29,422.14 156.73,422.85 157.17,423.56 157.61,424.26 158.05,424.96 158.49,425.64 158.93,426.32 159.37,426.99 159.81,427.66 160.25,428.31 160.69,428.96 161.13,429.6 161.56,430.23 162,430.85 162.44,431.46 162.88,432.06 163.32,432.66 163.76,433.25 164.2,433.82 164.64,434.39 165.08,434.95 165.52,435.5 165.96,436.05 166.4,436.58 166.84,437.1 167.28,437.61 167.72,438.12 168.16,438.61 168.6,439.1 169.04,439.58 169.48,440.04 169.92,440.5 170.36,440.95 170.8,441.39 171.24,441.82 171.68,442.24 172.12,442.65 172.56,443.05 173,443.44 173.44,443.82 173.88,444.19 174.32,444.55 174.76,444.9 175.2,445.24 175.64,445.58 176.08,445.9 176.52,446.21 176.96,446.51 177.4,446.81 177.84,447.09 178.27,447.37 178.71,447.63 179.15,447.88 179.59,448.13 180.03,448.36 180.47,448.59 180.91,448.8 181.35,449.01 181.79,449.21 182.23,449.39 182.67,449.57 183.11,449.74 183.55,449.89 183.99,450.04 184.43,450.18 184.87,450.31 185.31,450.43 185.75,450.53 186.19,450.63 186.63,450.72 187.07,450.8 187.51,450.87 187.95,450.93 188.39,450.98 188.83,451.02 189.27,451.05 189.71,451.08 190.15,451.09 190.59,451.09 191.03,451.08 191.47,451.07 191.91,451.04 192.35,451 192.79,450.96 193.23,450.9 193.67,450.83 194.11,450.76 194.54,450.67 194.98,450.58 195.42,450.48 195.86,450.36 196.3,450.24 196.74,450.1 197.18,449.96 197.62,449.81 198.06,449.65 198.5,449.47 198.94,449.29 199.38,449.1 199.82,448.9 200.26,448.69 200.7,448.47 201.14,448.24 201.58,448 202.02,447.75 202.46,447.49 202.9,447.22 203.34,446.94 203.78,446.65 204.22,446.35 204.66,446.05 205.1,445.73 205.54,445.4 205.98,445.06 206.42,444.72 206.86,444.36 207.3,444 207.74,443.62 208.18,443.24 208.62,442.84 209.06,442.44 209.5,442.02 209.94,441.6 210.38,441.17 210.82,440.73 211.25,440.27 211.69,439.81 212.13,439.34 212.57,438.86 213.01,438.37 213.45,437.88 213.89,437.37 214.33,436.85 214.77,436.33 215.21,435.79 215.65,435.25 216.09,434.7 216.53,434.14 216.97,433.57 217.41,432.99 217.85,432.4 218.29,431.8 218.73,431.2 219.17,430.59 219.61,429.96 220.05,429.34 220.49,428.7 220.93,428.05 221.37,427.4 221.81,426.74 222.25,426.07 222.69,425.39 223.13,424.71 223.57,424.02 224.01,423.32 224.45,422.61 224.89,421.9 225.33,421.18 225.77,420.46 226.21,419.72 226.65,418.98 227.09,418.24 227.52,417.49 227.96,416.73 228.4,415.97 228.84,415.2 229.28,414.43 229.72,413.65 230.16,412.87 230.6,412.08 231.04,411.29 231.48,410.49 231.92,409.69 232.36,408.88 232.8,408.07 233.24,407.26 233.68,406.45 234.12,405.63 234.56,404.81 235,403.98 235.44,403.15 235.88,402.32 236.32,401.49 236.76,400.66 237.2,399.82 237.64,398.99 238.08,398.15 238.52,397.31 238.96,396.47 239.4,395.63 239.84,394.79 240.28,393.95 240.72,393.11 241.16,392.27 241.6,391.43 242.04,390.59 242.48,389.75 242.92,388.91 243.36,388.08 243.79,387.25 244.23,386.41 244.67,385.58 245.11,384.75 245.55,383.93 245.99,383.1 246.43,382.28 246.87,381.47 247.31,380.65 247.75,379.84 248.19,379.03 248.63,378.23 249.07,377.43 249.51,376.63 249.95,375.84 250.39,375.05 250.83,374.26 251.27,373.48 251.71,372.71 252.15,371.94 252.59,371.17 253.03,370.41 253.47,369.65 253.91,368.9 254.35,368.16 254.79,367.42 255.23,366.68 255.67,365.96 256.11,365.23 256.55,364.52 256.99,363.81 257.43,363.1 257.87,362.4 258.31,361.71 258.75,361.02 259.19,360.34 259.63,359.67 260.07,359 260.5,358.34 260.94,357.68 261.38,357.03 261.82,356.39 262.26,355.76 262.7,355.13 263.14,354.5 263.58,353.89 264.02,353.28 264.46,352.67 264.9,352.08 265.34,351.49 265.78,350.91 266.22,350.33 266.66,349.76 267.1,349.2 267.54,348.64 267.98,348.09 268.42,347.55 268.86,347.01 269.3,346.48 269.74,345.96 270.18,345.44 270.62,344.93 271.06,344.42 271.5,343.92 271.94,343.43 272.38,342.95 272.82,342.47 273.26,341.99 273.7,341.53 274.14,341.07 274.58,340.61 275.02,340.16 275.46,339.72 275.9,339.29 276.34,338.86 276.77,338.43 277.21,338.01 277.65,337.6 278.09,337.19 278.53,336.79 278.97,336.4 279.41,336.01 279.85,335.62 280.29,335.24 280.73,334.87 281.17,334.5 281.61,334.14 282.05,333.78 282.49,333.43 282.93,333.08 283.37,332.74 283.81,332.4 284.25,332.07 284.69,331.74 285.13,331.42 285.57,331.1 286.01,330.79 286.45,330.48 286.89,330.18 287.33,329.88 287.77,329.59 288.21,329.3 288.65,329.01 289.09,328.73 289.53,328.46 289.97,328.18 290.41,327.92 290.85,327.65 291.29,327.39 291.73,327.14 292.17,326.89 292.61,326.64 293.05,326.39 293.48,326.15 293.92,325.92 294.36,325.69 294.8,325.46 295.24,325.23 295.68,325.01 296.12,324.79 296.56,324.58 297,324.37 297.44,324.16 297.88,323.96 298.32,323.75 298.76,323.56 299.2,323.36 299.64,323.17 300.08,322.98 300.52,322.8 300.96,322.61 301.4,322.43" fill="none" stroke="#ff1a1a" stroke-width="1.35" stroke-linejoin="round"/><path d="M301.4 315.58l3 3l-3 3l-3 -3zM297.01 316.96l3 3l-3 3l-3 -3zM292.62 318.6l3 3l-3 3l-3 -3zM288.23 320.58l3 3l-3 3l-3 -3zM283.84 322.96l3 3l-3 3l-3 -3zM279.45 325.79l3 3l-3 3l-3 -3zM275.06 329.16l3 3l-3 3l-3 -3zM270.67 333.15l3 3l-3 3l-3 -3zM266.28 337.84l3 3l-3 3l-3 -3zM261.89 343.31l3 3l-3 3l-3 -3zM257.5 349.62l3 3l-3 3l-3 -3zM253.11 356.8l3 3l-3 3l-3 -3zM248.72 364.84l3 3l-3 3l-3 -3zM244.33 373.64l3 3l-3 3l-3 -3zM239.94 383.04l3 3l-3 3l-3 -3zM235.55 392.78l3 3l-3 3l-3 -3zM231.16 402.56l3 3l-3 3l-3 -3zM226.77 412.02l3 3l-3 3l-3 -3zM222.38 420.81l3 3l-3 3l-3 -3zM217.99 428.62l3 3l-3 3l-3 -3zM213.6 435.22l3 3l-3 3l-3 -3zM209.21 440.44l3 3l-3 3l-3 -3zM204.82 444.16l3 3l-3 3l-3 -3zM200.43 446.33l3 3l-3 3l-3 -3zM196.04 446.93l3 3l-3 3l-3 -3zM191.65 445.93l3 3l-3 3l-3 -3zM187.26 443.36l3 3l-3 3l-3 -3zM182.87 439.24l3 3l-3 3l-3 -3zM178.48 433.65l3 3l-3 3l-3 -3zM174.09 426.7l3 3l-3 3l-3 -3zM169.7 418.57l3 3l-3 3l-3 -3zM165.31 409.52l3 3l-3 3l-3 -3zM160.92 399.86l3 3l-3 3l-3 -3zM156.53 389.93l3 3l-3 3l-3 -3zM152.14 380.07l3 3l-3 3l-3 -3zM147.75 370.57l3 3l-3 3l-3 -3zM143.36 361.65l3 3l-3 3l-3 -3zM138.97 353.45l3 3l-3 3l-3 -3zM134.58 346.02l3 3l-3 3l-3 -3zM130.19 339.34l3 3l-3 3l-3 -3zM125.8 333.34l3 3l-3 3l-3 -3zM121.41 327.96l3 3l-3 3l-3 -3zM117.02 323.09l3 3l-3 3l-3 -3zM112.63 318.66l3 3l-3 3l-3 -3zM108.24 314.64l3 3l-3 3l-3 -3zM103.85 311.05l3 3l-3 3l-3 -3zM99.46 307.98l3 3l-3 3l-3 -3zM95.07 305.59l3 3l-3 3l-3 -3zM90.68 303.99l3 3l-3 3l-3 -3zM86.29 303.21l3 3l-3 3l-3 -3zM81.9 303.12l3 3l-3 3l-3 -3zM77.51 303.52l3 3l-3 3l-3 -3zM73.12 304.19l3 3l-3 3l-3 -3zM68.73 304.94l3 3l-3 3l-3 -3zM64.34 305.66l3 3l-3 3l-3 -3zM59.95 306.31l3 3l-3 3l-3 -3zM55.56 306.86l3 3l-3 3l-3 -3zM51.17 307.31l3 3l-3 3l-3 -3zM46.78 307.67l3 3l-3 3l-3 -3zM42.39 307.96l3 3l-3 3l-3 -3zM38 308.19l3 3l-3 3l-3 -3z" fill="#0000ff" clip-path="url(#c2)"/><polyline points="38,311.19 38.44,311.17 38.88,311.15 39.32,311.13 39.76,311.11 40.2,311.09 40.64,311.06 41.08,311.04 41.52,311.01 41.96,310.99 42.4,310.96 42.84,310.94 43.28,310.91 43.72,310.88 44.16,310.85 44.6,310.83 45.04,310.8 45.48,310.77 45.92,310.74 46.35,310.7 46.79,310.67 47.23,310.64 47.67,310.61 48.11,310.57 48.55,310.54 48.99,310.5 49.43,310.46 49.87,310.42 50.31,310.39 50.75,310.35 51.19,310.31 51.63,310.26 52.07,310.22 52.51,310.18 52.95,310.14 53.39,310.09 53.83,310.05 54.27,310 54.71,309.95 55.15,309.9 55.59,309.85 56.03,309.8 56.47,309.75 56.91,309.7 57.35,309.65 57.79,309.59 58.23,309.54 58.67,309.48 59.11,309.42 59.55,309.36 59.99,309.3 60.43,309.24 60.87,309.18 61.31,309.12 61.75,309.05 62.19,308.99 62.63,308.92 63.06,308.86 63.5,308.79 63.94,308.72 64.38,308.65 64.82,308.58 65.26,308.51 65.7,308.44 66.14,308.37 66.58,308.3 67.02,308.22 67.46,308.15 67.9,308.08 68.34,308 68.78,307.93 69.22,307.85 69.66,307.78 70.1,307.7 70.54,307.62 70.98,307.55 71.42,307.47 71.86,307.4 72.3,307.32 72.74,307.25 73.18,307.18 73.62,307.1 74.06,307.03 74.5,306.96 74.94,306.89 75.38,306.83 75.82,306.76 76.26,306.69 76.7,306.63 77.14,306.57 77.58,306.51 78.02,306.46 78.46,306.41 78.9,306.36 79.33,306.31 79.77,306.27 80.21,306.23 80.65,306.2 81.09,306.17 81.53,306.14 81.97,306.12 82.41,306.1 82.85,306.09 83.29,306.09 83.73,306.09 84.17,306.09 84.61,306.1 85.05,306.12 85.49,306.15 85.93,306.18 86.37,306.22 86.81,306.26 87.25,306.31 87.69,306.37 88.13,306.44 88.57,306.52 89.01,306.6 89.45,306.69 89.89,306.79 90.33,306.9 90.77,307.02 91.21,307.14 91.65,307.27 92.09,307.41 92.53,307.56 92.97,307.72 93.41,307.89 93.85,308.06 94.29,308.24 94.73,308.43 95.17,308.63 95.61,308.84 96.04,309.06 96.48,309.28 96.92,309.51 97.36,309.75 97.8,309.99 98.24,310.25 98.68,310.51 99.12,310.77 99.56,311.05 100,311.33 100.44,311.61 100.88,311.91 101.32,312.21 101.76,312.51 102.2,312.83 102.64,313.14 103.08,313.47 103.52,313.8 103.96,314.13 104.4,314.47 104.84,314.81 105.28,315.16 105.72,315.52 106.16,315.88 106.6,316.24 107.04,316.61 107.48,316.98 107.92,317.36 108.36,317.74 108.8,318.13 109.24,318.52 109.68,318.91 110.12,319.31 110.56,319.71 111,320.12 111.44,320.53 111.88,320.94 112.31,321.36 112.75,321.78 113.19,322.21 113.63,322.64 114.07,323.07 114.51,323.51 114.95,323.95 115.39,324.4 115.83,324.85 116.27,325.31 116.71,325.77 117.15,326.23 117.59,326.7 118.03,327.17 118.47,327.65 118.91,328.13 119.35,328.62 119.79,329.11 120.23,329.6 120.67,330.11 121.11,330.61 121.55,331.12 121.99,331.64 122.43,332.16 122.87,332.69 123.31,333.22 123.75,333.76 124.19,334.3 124.63,334.85 125.07,335.41 125.51,335.97 125.95,336.53 126.39,337.11 126.83,337.69 127.27,338.27 127.71,338.87 128.15,339.46 128.58,340.07 129.02,340.68 129.46,341.3 129.9,341.93 130.34,342.56 130.78,343.2 131.22,343.84 131.66,344.5 132.1,345.16 132.54,345.83 132.98,346.5 133.42,347.18 133.86,347.87 134.3,348.57 134.74,349.28 135.18,349.99 135.62,350.71 136.06,351.44 136.5,352.18 136.94,352.92 137.38,353.67 137.82,354.43 138.26,355.2 138.7,355.97 139.14,356.75 139.58,357.54 140.02,358.34 140.46,359.15 140.9,359.96 141.34,360.78 141.78,361.61 142.22,362.45 142.66,363.29 143.1,364.14 143.54,365 143.98,365.86 144.42,366.73 144.86,367.61 145.29,368.5 145.73,369.39 146.17,370.29 146.61,371.2 147.05,372.11 147.49,373.03 147.93,373.95 148.37,374.88 148.81,375.82 149.25,376.76 149.69,377.71 150.13,378.66 150.57,379.62 151.01,380.58 151.45,381.54 151.89,382.51 152.33,383.49 152.77,384.46 153.21,385.45 153.65,386.43 154.09,387.42 154.53,388.4 154.97,389.39 155.41,390.39 155.85,391.38 156.29,392.38 156.73,393.37 157.17,394.37 157.61,395.37 158.05,396.37 158.49,397.36 158.93,398.36 159.37,399.35 159.81,400.35 160.25,401.34 160.69,402.33 161.13,403.32 161.56,404.3 162,405.28 162.44,406.26 162.88,407.23 163.32,408.2 163.76,409.17 164.2,410.13 164.64,411.08 165.08,412.03 165.52,412.97 165.96,413.91 166.4,414.84 166.84,415.76 167.28,416.68 167.72,417.59 168.16,418.49 168.6,419.38 169.04,420.26 169.48,421.14 169.92,422 170.36,422.86 170.8,423.7 171.24,424.54 171.68,425.36 172.12,426.18 172.56,426.98 173,427.78 173.44,428.56 173.88,429.33 174.32,430.09 174.76,430.83 175.2,431.57 175.64,432.29 176.08,433 176.52,433.7 176.96,434.38 177.4,435.05 177.84,435.71 178.27,436.35 178.71,436.98 179.15,437.6 179.59,438.2 180.03,438.79 180.47,439.36 180.91,439.92 181.35,440.47 181.79,441 182.23,441.52 182.67,442.02 183.11,442.51 183.55,442.98 183.99,443.44 184.43,443.88 184.87,444.31 185.31,444.72 185.75,445.11 186.19,445.49 186.63,445.86 187.07,446.21 187.51,446.55 187.95,446.87 188.39,447.17 188.83,447.46 189.27,447.73 189.71,447.99 190.15,448.23 190.59,448.45 191.03,448.66 191.47,448.86 191.91,449.03 192.35,449.2 192.79,449.34 193.23,449.47 193.67,449.59 194.11,449.68 194.54,449.77 194.98,449.83 195.42,449.88 195.86,449.92 196.3,449.94 196.74,449.94 197.18,449.93 197.62,449.9 198.06,449.85 198.5,449.79 198.94,449.71 199.38,449.62 199.82,449.51 200.26,449.39 200.7,449.25 201.14,449.09 201.58,448.92 202.02,448.73 202.46,448.53 202.9,448.31 203.34,448.07 203.78,447.82 204.22,447.55 204.66,447.27 205.1,446.97 205.54,446.66 205.98,446.33 206.42,445.98 206.86,445.62 207.3,445.25 207.74,444.86 208.18,444.45 208.62,444.03 209.06,443.59 209.5,443.14 209.94,442.68 210.38,442.19 210.82,441.7 211.25,441.19 211.69,440.66 212.13,440.12 212.57,439.57 213.01,439 213.45,438.42 213.89,437.82 214.33,437.21 214.77,436.59 215.21,435.95 215.65,435.3 216.09,434.63 216.53,433.96 216.97,433.27 217.41,432.56 217.85,431.85 218.29,431.12 218.73,430.38 219.17,429.63 219.61,428.87 220.05,428.09 220.49,427.31 220.93,426.51 221.37,425.7 221.81,424.89 222.25,424.06 222.69,423.22 223.13,422.37 223.57,421.51 224.01,420.65 224.45,419.77 224.89,418.89 225.33,418 225.77,417.1 226.21,416.19 226.65,415.28 227.09,414.36 227.52,413.43 227.96,412.5 228.4,411.56 228.84,410.61 229.28,409.66 229.72,408.71 230.16,407.75 230.6,406.79 231.04,405.82 231.48,404.85 231.92,403.88 232.36,402.9 232.8,401.92 233.24,400.94 233.68,399.96 234.12,398.98 234.56,398 235,397.01 235.44,396.03 235.88,395.05 236.32,394.06 236.76,393.08 237.2,392.1 237.64,391.12 238.08,390.15 238.52,389.17 238.96,388.2 239.4,387.23 239.84,386.26 240.28,385.3 240.72,384.34 241.16,383.39 241.6,382.44 242.04,381.49 242.48,380.55 242.92,379.61 243.36,378.68 243.79,377.76 244.23,376.84 244.67,375.92 245.11,375.02 245.55,374.12 245.99,373.22 246.43,372.34 246.87,371.46 247.31,370.58 247.75,369.72 248.19,368.86 248.63,368.01 249.07,367.16 249.51,366.33 249.95,365.5 250.39,364.68 250.83,363.87 251.27,363.07 251.71,362.28 252.15,361.49 252.59,360.71 253.03,359.94 253.47,359.18 253.91,358.43 254.35,357.69 254.79,356.95 255.23,356.23 255.67,355.51 256.11,354.8 256.55,354.11 256.99,353.41 257.43,352.73 257.87,352.06 258.31,351.4 258.75,350.74 259.19,350.09 259.63,349.46 260.07,348.83 260.5,348.21 260.94,347.6 261.38,346.99 261.82,346.4 262.26,345.81 262.7,345.23 263.14,344.66 263.58,344.1 264.02,343.55 264.46,343 264.9,342.47 265.34,341.94 265.78,341.42 266.22,340.91 266.66,340.4 267.1,339.9 267.54,339.41 267.98,338.93 268.42,338.46 268.86,337.99 269.3,337.53 269.74,337.08 270.18,336.63 270.62,336.2 271.06,335.77 271.5,335.34 271.94,334.93 272.38,334.52 272.82,334.11 273.26,333.72 273.7,333.33 274.14,332.94 274.58,332.56 275.02,332.19 275.46,331.83 275.9,331.47 276.34,331.12 276.77,330.77 277.21,330.43 277.65,330.1 278.09,329.77 278.53,329.44 278.97,329.13 279.41,328.81 279.85,328.51 280.29,328.2 280.73,327.91 281.17,327.62 281.61,327.33 282.05,327.05 282.49,326.77 282.93,326.5 283.37,326.23 283.81,325.97 284.25,325.71 284.69,325.46 285.13,325.21 285.57,324.97 286.01,324.73 286.45,324.49 286.89,324.26 287.33,324.04 287.77,323.81 288.21,323.59 288.65,323.38 289.09,323.17 289.53,322.96 289.97,322.76 290.41,322.56 290.85,322.36 291.29,322.17 291.73,321.98 292.17,321.79 292.61,321.61 293.05,321.43 293.48,321.25 293.92,321.08 294.36,320.91 294.8,320.75 295.24,320.58 295.68,320.42 296.12,320.26 296.56,320.11 297,319.96 297.44,319.81 297.88,319.66 298.32,319.52 298.76,319.38 299.2,319.24 299.64,319.1 300.08,318.97 300.52,318.84 300.96,318.71 301.4,318.58" fill="none" stroke="#ff1a1a" stroke-width="1.35" stroke-linejoin="round"/><path d="M301.4 314.81l3 3l-3 3l-3 -3zM297.01 316.02l3 3l-3 3l-3 -3zM292.62 317.47l3 3l-3 3l-3 -3zM288.23 319.21l3 3l-3 3l-3 -3zM283.84 321.3l3 3l-3 3l-3 -3zM279.45 323.8l3 3l-3 3l-3 -3zM275.06 326.77l3 3l-3 3l-3 -3zM270.67 330.3l3 3l-3 3l-3 -3zM266.28 334.47l3 3l-3 3l-3 -3zM261.89 339.36l3 3l-3 3l-3 -3zM257.5 345.03l3 3l-3 3l-3 -3zM253.11 351.53l3 3l-3 3l-3 -3zM248.72 358.89l3 3l-3 3l-3 -3zM244.33 367.06l3 3l-3 3l-3 -3zM239.94 375.92l3 3l-3 3l-3 -3zM235.55 385.29l3 3l-3 3l-3 -3zM231.16 394.9l3 3l-3 3l-3 -3zM226.77 404.41l3 3l-3 3l-3 -3zM222.38 413.48l3 3l-3 3l-3 -3zM217.99 421.76l3 3l-3 3l-3 -3zM213.6 428.98l3 3l-3 3l-3 -3zM209.21 434.92l3 3l-3 3l-3 -3zM204.82 439.42l3 3l-3 3l-3 -3zM200.43 442.38l3 3l-3 3l-3 -3zM196.04 443.76l3 3l-3 3l-3 -3zM191.65 443.54l3 3l-3 3l-3 -3zM187.26 441.71l3 3l-3 3l-3 -3zM182.87 438.31l3 3l-3 3l-3 -3zM178.48 433.39l3 3l-3 3l-3 -3zM174.09 427.06l3 3l-3 3l-3 -3zM169.7 419.49l3 3l-3 3l-3 -3zM165.31 410.92l3 3l-3 3l-3 -3zM160.92 401.64l3 3l-3 3l-3 -3zM156.53 391.99l3 3l-3 3l-3 -3zM152.14 382.31l3 3l-3 3l-3 -3zM147.75 372.92l3 3l-3 3l-3 -3zM143.36 364.05l3 3l-3 3l-3 -3zM138.97 355.87l3 3l-3 3l-3 -3zM134.58 348.46l3 3l-3 3l-3 -3zM130.19 341.82l3 3l-3 3l-3 -3zM125.8 335.92l3 3l-3 3l-3 -3zM121.41 330.69l3 3l-3 3l-3 -3zM117.02 326.04l3 3l-3 3l-3 -3zM112.63 321.88l3 3l-3 3l-3 -3zM108.24 318.14l3 3l-3 3l-3 -3zM103.85 314.8l3 3l-3 3l-3 -3zM99.46 311.88l3 3l-3 3l-3 -3zM95.07 309.43l3 3l-3 3l-3 -3zM90.68 307.57l3 3l-3 3l-3 -3zM86.29 306.35l3 3l-3 3l-3 -3zM81.9 305.75l3 3l-3 3l-3 -3zM77.51 305.64l3 3l-3 3l-3 -3zM73.12 305.87l3 3l-3 3l-3 -3zM68.73 306.26l3 3l-3 3l-3 -3zM64.34 306.7l3 3l-3 3l-3 -3zM59.95 307.13l3 3l-3 3l-3 -3zM55.56 307.51l3 3l-3 3l-3 -3zM51.17 307.83l3 3l-3 3l-3 -3zM46.78 308.09l3 3l-3 3l-3 -3zM42.39 308.3l3 3l-3 3l-3 -3zM38 308.46l3 3l-3 3l-3 -3z" fill="#00e000" clip-path="url(#c2)"/><polyline points="38,311.46 38.44,311.45 38.88,311.43 39.32,311.42 39.76,311.4 40.2,311.38 40.64,311.37 41.08,311.35 41.52,311.33 41.96,311.32 42.4,311.3 42.84,311.28 43.28,311.26 43.72,311.24 44.16,311.22 44.6,311.2 45.04,311.18 45.48,311.16 45.92,311.13 46.35,311.11 46.79,311.09 47.23,311.07 47.67,311.04 48.11,311.02 48.55,310.99 48.99,310.97 49.43,310.94 49.87,310.91 50.31,310.89 50.75,310.86 51.19,310.83 51.63,310.8 52.07,310.77 52.51,310.74 52.95,310.71 53.39,310.68 53.83,310.64 54.27,310.61 54.71,310.58 55.15,310.54 55.59,310.51 56.03,310.47 56.47,310.44 56.91,310.4 57.35,310.36 57.79,310.33 58.23,310.29 58.67,310.25 59.11,310.21 59.55,310.17 59.99,310.13 60.43,310.09 60.87,310.05 61.31,310.01 61.75,309.96 62.19,309.92 62.63,309.88 63.06,309.83 63.5,309.79 63.94,309.74 64.38,309.7 64.82,309.66 65.26,309.61 65.7,309.57 66.14,309.52 66.58,309.48 67.02,309.43 67.46,309.39 67.9,309.34 68.34,309.3 68.78,309.25 69.22,309.21 69.66,309.17 70.1,309.13 70.54,309.09 70.98,309.05 71.42,309.01 71.86,308.97 72.3,308.93 72.74,308.9 73.18,308.86 73.62,308.83 74.06,308.8 74.5,308.77 74.94,308.75 75.38,308.72 75.82,308.7 76.26,308.68 76.7,308.67 77.14,308.65 77.58,308.64 78.02,308.64 78.46,308.63 78.9,308.63 79.33,308.64 79.77,308.65 80.21,308.66 80.65,308.68 81.09,308.7 81.53,308.72 81.97,308.76 82.41,308.79 82.85,308.83 83.29,308.88 83.73,308.93 84.17,308.99 84.61,309.05 85.05,309.12 85.49,309.2 85.93,309.28 86.37,309.37 86.81,309.46 87.25,309.56 87.69,309.67 88.13,309.79 88.57,309.91 89.01,310.03 89.45,310.17 89.89,310.3 90.33,310.45 90.77,310.6 91.21,310.76 91.65,310.93 92.09,311.1 92.53,311.28 92.97,311.46 93.41,311.66 93.85,311.85 94.29,312.06 94.73,312.27 95.17,312.48 95.61,312.7 96.04,312.93 96.48,313.16 96.92,313.4 97.36,313.64 97.8,313.89 98.24,314.15 98.68,314.41 99.12,314.67 99.56,314.94 100,315.21 100.44,315.49 100.88,315.77 101.32,316.06 101.76,316.35 102.2,316.65 102.64,316.95 103.08,317.26 103.52,317.57 103.96,317.88 104.4,318.2 104.84,318.52 105.28,318.85 105.72,319.18 106.16,319.51 106.6,319.85 107.04,320.19 107.48,320.53 107.92,320.88 108.36,321.24 108.8,321.59 109.24,321.95 109.68,322.32 110.12,322.69 110.56,323.06 111,323.44 111.44,323.82 111.88,324.21 112.31,324.6 112.75,324.99 113.19,325.39 113.63,325.79 114.07,326.2 114.51,326.61 114.95,327.02 115.39,327.44 115.83,327.87 116.27,328.3 116.71,328.73 117.15,329.17 117.59,329.61 118.03,330.06 118.47,330.52 118.91,330.98 119.35,331.44 119.79,331.91 120.23,332.39 120.67,332.87 121.11,333.36 121.55,333.85 121.99,334.35 122.43,334.85 122.87,335.36 123.31,335.88 123.75,336.4 124.19,336.93 124.63,337.47 125.07,338.01 125.51,338.56 125.95,339.11 126.39,339.67 126.83,340.24 127.27,340.82 127.71,341.4 128.15,341.99 128.58,342.58 129.02,343.19 129.46,343.8 129.9,344.42 130.34,345.04 130.78,345.68 131.22,346.32 131.66,346.96 132.1,347.62 132.54,348.28 132.98,348.96 133.42,349.63 133.86,350.32 134.3,351.02 134.74,351.72 135.18,352.43 135.62,353.15 136.06,353.87 136.5,354.61 136.94,355.35 137.38,356.1 137.82,356.85 138.26,357.62 138.7,358.39 139.14,359.17 139.58,359.96 140.02,360.76 140.46,361.56 140.9,362.37 141.34,363.19 141.78,364.02 142.22,364.85 142.66,365.69 143.1,366.54 143.54,367.4 143.98,368.26 144.42,369.13 144.86,370 145.29,370.88 145.73,371.77 146.17,372.67 146.61,373.57 147.05,374.47 147.49,375.39 147.93,376.3 148.37,377.23 148.81,378.15 149.25,379.09 149.69,380.02 150.13,380.97 150.57,381.91 151.01,382.86 151.45,383.81 151.89,384.77 152.33,385.73 152.77,386.69 153.21,387.66 153.65,388.62 154.09,389.59 154.53,390.56 154.97,391.54 155.41,392.51 155.85,393.48 156.29,394.45 156.73,395.43 157.17,396.4 157.61,397.37 158.05,398.34 158.49,399.31 158.93,400.28 159.37,401.25 159.81,402.21 160.25,403.17 160.69,404.13 161.13,405.08 161.56,406.03 162,406.98 162.44,407.92 162.88,408.86 163.32,409.79 163.76,410.71 164.2,411.63 164.64,412.55 165.08,413.45 165.52,414.35 165.96,415.25 166.4,416.13 166.84,417.01 167.28,417.88 167.72,418.74 168.16,419.59 168.6,420.43 169.04,421.26 169.48,422.08 169.92,422.9 170.36,423.7 170.8,424.49 171.24,425.27 171.68,426.04 172.12,426.8 172.56,427.55 173,428.29 173.44,429.01 173.88,429.72 174.32,430.42 174.76,431.11 175.2,431.78 175.64,432.44 176.08,433.09 176.52,433.72 176.96,434.34 177.4,434.95 177.84,435.54 178.27,436.12 178.71,436.69 179.15,437.24 179.59,437.77 180.03,438.29 180.47,438.8 180.91,439.29 181.35,439.77 181.79,440.24 182.23,440.68 182.67,441.12 183.11,441.53 183.55,441.94 183.99,442.32 184.43,442.69 184.87,443.05 185.31,443.39 185.75,443.71 186.19,444.02 186.63,444.32 187.07,444.59 187.51,444.86 187.95,445.1 188.39,445.33 188.83,445.55 189.27,445.74 189.71,445.93 190.15,446.09 190.59,446.24 191.03,446.38 191.47,446.49 191.91,446.59 192.35,446.68 192.79,446.75 193.23,446.8 193.67,446.84 194.11,446.86 194.54,446.87 194.98,446.86 195.42,446.83 195.86,446.78 196.3,446.73 196.74,446.65 197.18,446.56 197.62,446.45 198.06,446.33 198.5,446.19 198.94,446.03 199.38,445.86 199.82,445.67 200.26,445.46 200.7,445.24 201.14,445.01 201.58,444.76 202.02,444.49 202.46,444.21 202.9,443.91 203.34,443.59 203.78,443.26 204.22,442.92 204.66,442.55 205.1,442.18 205.54,441.78 205.98,441.38 206.42,440.95 206.86,440.52 207.3,440.06 207.74,439.59 208.18,439.11 208.62,438.61 209.06,438.1 209.5,437.58 209.94,437.03 210.38,436.48 210.82,435.91 211.25,435.33 211.69,434.73 212.13,434.12 212.57,433.49 213.01,432.86 213.45,432.2 213.89,431.54 214.33,430.86 214.77,430.17 215.21,429.47 215.65,428.76 216.09,428.03 216.53,427.29 216.97,426.54 217.41,425.78 217.85,425.01 218.29,424.23 218.73,423.43 219.17,422.63 219.61,421.82 220.05,420.99 220.49,420.16 220.93,419.32 221.37,418.47 221.81,417.61 222.25,416.74 222.69,415.86 223.13,414.98 223.57,414.09 224.01,413.19 224.45,412.29 224.89,411.37 225.33,410.46 225.77,409.54 226.21,408.61 226.65,407.67 227.09,406.74 227.52,405.8 227.96,404.85 228.4,403.9 228.84,402.95 229.28,401.99 229.72,401.04 230.16,400.08 230.6,399.12 231.04,398.15 231.48,397.19 231.92,396.23 232.36,395.26 232.8,394.3 233.24,393.33 233.68,392.37 234.12,391.41 234.56,390.45 235,389.49 235.44,388.53 235.88,387.58 236.32,386.62 236.76,385.68 237.2,384.73 237.64,383.79 238.08,382.85 238.52,381.91 238.96,380.98 239.4,380.06 239.84,379.14 240.28,378.22 240.72,377.31 241.16,376.41 241.6,375.51 242.04,374.61 242.48,373.73 242.92,372.84 243.36,371.97 243.79,371.1 244.23,370.24 244.67,369.39 245.11,368.54 245.55,367.7 245.99,366.87 246.43,366.05 246.87,365.23 247.31,364.42 247.75,363.62 248.19,362.83 248.63,362.05 249.07,361.27 249.51,360.5 249.95,359.74 250.39,358.99 250.83,358.25 251.27,357.51 251.71,356.79 252.15,356.07 252.59,355.36 253.03,354.66 253.47,353.97 253.91,353.29 254.35,352.61 254.79,351.95 255.23,351.29 255.67,350.64 256.11,350 256.55,349.37 256.99,348.74 257.43,348.13 257.87,347.52 258.31,346.92 258.75,346.33 259.19,345.75 259.63,345.18 260.07,344.61 260.5,344.06 260.94,343.51 261.38,342.97 261.82,342.44 262.26,341.91 262.7,341.39 263.14,340.88 263.58,340.38 264.02,339.89 264.46,339.4 264.9,338.92 265.34,338.45 265.78,337.99 266.22,337.53 266.66,337.08 267.1,336.64 267.54,336.21 267.98,335.78 268.42,335.36 268.86,334.94 269.3,334.53 269.74,334.13 270.18,333.74 270.62,333.35 271.06,332.97 271.5,332.59 271.94,332.22 272.38,331.86 272.82,331.5 273.26,331.15 273.7,330.81 274.14,330.47 274.58,330.13 275.02,329.8 275.46,329.48 275.9,329.17 276.34,328.85 276.77,328.55 277.21,328.25 277.65,327.95 278.09,327.66 278.53,327.37 278.97,327.09 279.41,326.82 279.85,326.55 280.29,326.28 280.73,326.02 281.17,325.76 281.61,325.51 282.05,325.26 282.49,325.02 282.93,324.78 283.37,324.54 283.81,324.31 284.25,324.09 284.69,323.86 285.13,323.64 285.57,323.43 286.01,323.22 286.45,323.01 286.89,322.81 287.33,322.61 287.77,322.41 288.21,322.22 288.65,322.03 289.09,321.84 289.53,321.66 289.97,321.48 290.41,321.3 290.85,321.13 291.29,320.96 291.73,320.8 292.17,320.63 292.61,320.47 293.05,320.31 293.48,320.16 293.92,320.01 294.36,319.86 294.8,319.71 295.24,319.57 295.68,319.43 296.12,319.29 296.56,319.15 297,319.02 297.44,318.89 297.88,318.76 298.32,318.63 298.76,318.51 299.2,318.39 299.64,318.27 300.08,318.15 300.52,318.03 300.96,317.92 301.4,317.81" fill="none" stroke="#ff1a1a" stroke-width="1.35" stroke-linejoin="round"/><path d="M698.5 459.48l3 3l-3 3l-3 -3zM694.09 459.24l3 3l-3 3l-3 -3zM689.67 458.94l3 3l-3 3l-3 -3zM685.25 458.59l3 3l-3 3l-3 -3zM680.84 458.17l3 3l-3 3l-3 -3zM676.42 457.66l3 3l-3 3l-3 -3zM672.01 457.04l3 3l-3 3l-3 -3zM667.6 456.28l3 3l-3 3l-3 -3zM663.18 455.35l3 3l-3 3l-3 -3zM658.76 454.17l3 3l-3 3l-3 -3zM654.35 452.67l3 3l-3 3l-3 -3zM649.94 450.77l3 3l-3 3l-3 -3zM645.52 448.39l3 3l-3 3l-3 -3zM641.11 445.46l3 3l-3 3l-3 -3zM636.69 441.96l3 3l-3 3l-3 -3zM632.27 437.89l3 3l-3 3l-3 -3zM627.86 433.27l3 3l-3 3l-3 -3zM623.45 428.17l3 3l-3 3l-3 -3zM619.03 422.63l3 3l-3 3l-3 -3zM614.62 416.74l3 3l-3 3l-3 -3zM610.2 410.55l3 3l-3 3l-3 -3zM605.79 404.13l3 3l-3 3l-3 -3zM601.37 397.55l3 3l-3 3l-3 -3zM596.96 390.85l3 3l-3 3l-3 -3zM592.54 384.09l3 3l-3 3l-3 -3zM588.12 377.3l3 3l-3 3l-3 -3zM583.71 370.54l3 3l-3 3l-3 -3zM579.3 363.85l3 3l-3 3l-3 -3zM574.88 357.28l3 3l-3 3l-3 -3zM570.47 350.89l3 3l-3 3l-3 -3zM566.05 344.72l3 3l-3 3l-3 -3zM561.63 338.83l3 3l-3 3l-3 -3zM557.22 333.3l3 3l-3 3l-3 -3zM552.81 328.17l3 3l-3 3l-3 -3zM548.39 323.5l3 3l-3 3l-3 -3zM543.98 319.32l3 3l-3 3l-3 -3zM539.56 315.66l3 3l-3 3l-3 -3zM535.14 312.5l3 3l-3 3l-3 -3zM530.73 309.83l3 3l-3 3l-3 -3zM526.32 307.61l3 3l-3 3l-3 -3zM521.9 305.8l3 3l-3 3l-3 -3zM517.49 304.35l3 3l-3 3l-3 -3zM513.07 303.22l3 3l-3 3l-3 -3zM508.66 302.39l3 3l-3 3l-3 -3zM504.24 301.85l3 3l-3 3l-3 -3zM499.83 301.6l3 3l-3 3l-3 -3zM495.41 301.65l3 3l-3 3l-3 -3zM491 302.03l3 3l-3 3l-3 -3zM486.58 302.72l3 3l-3 3l-3 -3zM482.17 303.65l3 3l-3 3l-3 -3zM477.75 304.73l3 3l-3 3l-3 -3zM473.33 305.79l3 3l-3 3l-3 -3zM468.92 306.74l3 3l-3 3l-3 -3zM464.5 307.49l3 3l-3 3l-3 -3zM460.09 308.05l3 3l-3 3l-3 -3zM455.68 308.43l3 3l-3 3l-3 -3zM451.26 308.68l3 3l-3 3l-3 -3zM446.85 308.84l3 3l-3 3l-3 -3zM442.43 308.94l3 3l-3 3l-3 -3zM438.01 309l3 3l-3 3l-3 -3zM433.6 309.03l3 3l-3 3l-3 -3z" fill="#800080" clip-path="url(#c3)"/><polyline points="433.6,312.03 434.04,312.03 434.48,312.02 434.93,312.02 435.37,312.02 435.81,312.02 436.25,312.01 436.7,312.01 437.14,312.01 437.58,312 438.02,312 438.46,311.99 438.91,311.99 439.35,311.98 439.79,311.98 440.23,311.97 440.68,311.97 441.12,311.96 441.56,311.96 442,311.95 442.44,311.94 442.89,311.93 443.33,311.93 443.77,311.92 444.21,311.91 444.66,311.9 445.1,311.89 445.54,311.88 445.98,311.87 446.42,311.86 446.87,311.84 447.31,311.83 447.75,311.82 448.19,311.8 448.64,311.79 449.08,311.77 449.52,311.76 449.96,311.74 450.41,311.72 450.85,311.7 451.29,311.68 451.73,311.66 452.17,311.64 452.62,311.62 453.06,311.59 453.5,311.57 453.94,311.54 454.39,311.52 454.83,311.49 455.27,311.46 455.71,311.43 456.15,311.4 456.6,311.36 457.04,311.33 457.48,311.29 457.92,311.25 458.37,311.21 458.81,311.17 459.25,311.13 459.69,311.09 460.13,311.04 460.58,310.99 461.02,310.94 461.46,310.89 461.9,310.84 462.35,310.78 462.79,310.73 463.23,310.67 463.67,310.61 464.11,310.55 464.56,310.48 465,310.42 465.44,310.35 465.88,310.28 466.33,310.2 466.77,310.13 467.21,310.05 467.65,309.97 468.09,309.89 468.54,309.81 468.98,309.72 469.42,309.64 469.86,309.55 470.31,309.46 470.75,309.37 471.19,309.27 471.63,309.18 472.07,309.08 472.52,308.98 472.96,308.88 473.4,308.78 473.84,308.67 474.29,308.57 474.73,308.47 475.17,308.36 475.61,308.25 476.05,308.14 476.5,308.04 476.94,307.93 477.38,307.82 477.82,307.71 478.27,307.6 478.71,307.49 479.15,307.38 479.59,307.27 480.03,307.16 480.48,307.05 480.92,306.95 481.36,306.84 481.8,306.74 482.25,306.63 482.69,306.53 483.13,306.43 483.57,306.33 484.02,306.24 484.46,306.14 484.9,306.05 485.34,305.96 485.78,305.87 486.23,305.78 486.67,305.7 487.11,305.62 487.55,305.54 488,305.46 488.44,305.39 488.88,305.32 489.32,305.25 489.76,305.19 490.21,305.13 490.65,305.07 491.09,305.02 491.53,304.97 491.98,304.92 492.42,304.87 492.86,304.83 493.3,304.79 493.74,304.76 494.19,304.72 494.63,304.69 495.07,304.67 495.51,304.65 495.96,304.63 496.4,304.61 496.84,304.6 497.28,304.59 497.72,304.58 498.17,304.58 498.61,304.58 499.05,304.58 499.49,304.59 499.94,304.6 500.38,304.61 500.82,304.63 501.26,304.65 501.7,304.67 502.15,304.69 502.59,304.72 503.03,304.75 503.47,304.78 503.92,304.82 504.36,304.86 504.8,304.9 505.24,304.95 505.68,304.99 506.13,305.04 506.57,305.1 507.01,305.16 507.45,305.21 507.9,305.28 508.34,305.34 508.78,305.41 509.22,305.48 509.66,305.55 510.11,305.63 510.55,305.71 510.99,305.79 511.43,305.88 511.88,305.97 512.32,306.06 512.76,306.15 513.2,306.25 513.64,306.35 514.09,306.45 514.53,306.56 514.97,306.67 515.41,306.78 515.86,306.89 516.3,307.01 516.74,307.13 517.18,307.26 517.63,307.39 518.07,307.52 518.51,307.65 518.95,307.79 519.39,307.93 519.84,308.08 520.28,308.22 520.72,308.37 521.16,308.53 521.61,308.69 522.05,308.85 522.49,309.02 522.93,309.19 523.37,309.36 523.82,309.54 524.26,309.72 524.7,309.9 525.14,310.09 525.59,310.28 526.03,310.48 526.47,310.68 526.91,310.88 527.35,311.09 527.8,311.31 528.24,311.52 528.68,311.74 529.12,311.97 529.57,312.2 530.01,312.44 530.45,312.67 530.89,312.92 531.33,313.17 531.78,313.42 532.22,313.68 532.66,313.94 533.1,314.21 533.55,314.48 533.99,314.75 534.43,315.03 534.87,315.32 535.31,315.61 535.76,315.91 536.2,316.21 536.64,316.51 537.08,316.82 537.53,317.14 537.97,317.46 538.41,317.79 538.85,318.12 539.29,318.45 539.74,318.79 540.18,319.14 540.62,319.49 541.06,319.85 541.51,320.21 541.95,320.58 542.39,320.95 542.83,321.32 543.27,321.71 543.72,322.09 544.16,322.49 544.6,322.88 545.04,323.29 545.49,323.7 545.93,324.11 546.37,324.53 546.81,324.95 547.25,325.38 547.7,325.81 548.14,326.25 548.58,326.69 549.02,327.14 549.47,327.59 549.91,328.05 550.35,328.52 550.79,328.98 551.24,329.46 551.68,329.93 552.12,330.41 552.56,330.9 553,331.39 553.45,331.89 553.89,332.39 554.33,332.89 554.77,333.4 555.22,333.92 555.66,334.43 556.1,334.96 556.54,335.48 556.98,336.01 557.43,336.55 557.87,337.09 558.31,337.63 558.75,338.18 559.2,338.73 559.64,339.28 560.08,339.84 560.52,340.4 560.96,340.97 561.41,341.54 561.85,342.11 562.29,342.69 562.73,343.27 563.18,343.85 563.62,344.44 564.06,345.03 564.5,345.62 564.94,346.21 565.39,346.81 565.83,347.41 566.27,348.02 566.71,348.63 567.16,349.24 567.6,349.85 568.04,350.47 568.48,351.08 568.92,351.71 569.37,352.33 569.81,352.95 570.25,353.58 570.69,354.21 571.14,354.85 571.58,355.48 572.02,356.12 572.46,356.76 572.9,357.4 573.35,358.04 573.79,358.69 574.23,359.33 574.67,359.98 575.12,360.63 575.56,361.29 576,361.94 576.44,362.59 576.88,363.25 577.33,363.91 577.77,364.57 578.21,365.23 578.65,365.89 579.1,366.56 579.54,367.22 579.98,367.89 580.42,368.56 580.86,369.22 581.31,369.89 581.75,370.56 582.19,371.24 582.63,371.91 583.08,372.58 583.52,373.26 583.96,373.93 584.4,374.61 584.85,375.28 585.29,375.96 585.73,376.63 586.17,377.31 586.61,377.99 587.06,378.67 587.5,379.35 587.94,380.03 588.38,380.71 588.83,381.39 589.27,382.07 589.71,382.75 590.15,383.43 590.59,384.11 591.04,384.79 591.48,385.47 591.92,386.15 592.36,386.83 592.81,387.51 593.25,388.19 593.69,388.87 594.13,389.55 594.57,390.23 595.02,390.9 595.46,391.58 595.9,392.26 596.34,392.94 596.79,393.61 597.23,394.29 597.67,394.97 598.11,395.64 598.55,396.31 599,396.99 599.44,397.66 599.88,398.33 600.32,399 600.77,399.67 601.21,400.34 601.65,401.01 602.09,401.67 602.53,402.34 602.98,403 603.42,403.66 603.86,404.32 604.3,404.98 604.75,405.64 605.19,406.3 605.63,406.95 606.07,407.61 606.51,408.26 606.96,408.91 607.4,409.56 607.84,410.21 608.28,410.85 608.73,411.49 609.17,412.14 609.61,412.77 610.05,413.41 610.49,414.05 610.94,414.68 611.38,415.31 611.82,415.94 612.26,416.56 612.71,417.19 613.15,417.81 613.59,418.42 614.03,419.04 614.47,419.65 614.92,420.26 615.36,420.87 615.8,421.47 616.24,422.08 616.69,422.67 617.13,423.27 617.57,423.86 618.01,424.45 618.46,425.04 618.9,425.62 619.34,426.2 619.78,426.77 620.22,427.35 620.67,427.91 621.11,428.48 621.55,429.04 621.99,429.6 622.44,430.15 622.88,430.7 623.32,431.25 623.76,431.79 624.2,432.33 624.65,432.86 625.09,433.39 625.53,433.92 625.97,434.44 626.42,434.96 626.86,435.47 627.3,435.98 627.74,436.48 628.18,436.98 628.63,437.48 629.07,437.97 629.51,438.45 629.95,438.93 630.4,439.41 630.84,439.88 631.28,440.35 631.72,440.81 632.16,441.26 632.61,441.72 633.05,442.16 633.49,442.6 633.93,443.04 634.38,443.47 634.82,443.9 635.26,444.32 635.7,444.74 636.14,445.15 636.59,445.56 637.03,445.96 637.47,446.35 637.91,446.74 638.36,447.13 638.8,447.51 639.24,447.89 639.68,448.26 640.12,448.62 640.57,448.98 641.01,449.34 641.45,449.69 641.89,450.03 642.34,450.37 642.78,450.7 643.22,451.03 643.66,451.36 644.1,451.68 644.55,451.99 644.99,452.3 645.43,452.6 645.87,452.9 646.32,453.2 646.76,453.48 647.2,453.77 647.64,454.05 648.08,454.32 648.53,454.59 648.97,454.86 649.41,455.12 649.85,455.38 650.3,455.63 650.74,455.87 651.18,456.12 651.62,456.35 652.07,456.59 652.51,456.82 652.95,457.04 653.39,457.26 653.83,457.48 654.28,457.69 654.72,457.9 655.16,458.11 655.6,458.31 656.05,458.5 656.49,458.7 656.93,458.89 657.37,459.07 657.81,459.25 658.26,459.43 658.7,459.61 659.14,459.78 659.58,459.94 660.03,460.11 660.47,460.27 660.91,460.43 661.35,460.58 661.79,460.73 662.24,460.88 662.68,461.03 663.12,461.17 663.56,461.31 664.01,461.44 664.45,461.58 664.89,461.71 665.33,461.83 665.77,461.96 666.22,462.08 666.66,462.2 667.1,462.32 667.54,462.43 667.99,462.54 668.43,462.65 668.87,462.76 669.31,462.87 669.75,462.97 670.2,463.07 670.64,463.17 671.08,463.27 671.52,463.36 671.97,463.45 672.41,463.54 672.85,463.63 673.29,463.72 673.73,463.8 674.18,463.89 674.62,463.97 675.06,464.05 675.5,464.12 675.95,464.2 676.39,464.27 676.83,464.35 677.27,464.42 677.71,464.49 678.16,464.56 678.6,464.62 679.04,464.69 679.48,464.75 679.93,464.81 680.37,464.88 680.81,464.94 681.25,464.99 681.69,465.05 682.14,465.11 682.58,465.16 683.02,465.22 683.46,465.27 683.91,465.32 684.35,465.37 684.79,465.42 685.23,465.47 685.68,465.51 686.12,465.56 686.56,465.61 687,465.65 687.44,465.69 687.89,465.74 688.33,465.78 688.77,465.82 689.21,465.86 689.66,465.9 690.1,465.93 690.54,465.97 690.98,466.01 691.42,466.04 691.87,466.08 692.31,466.11 692.75,466.15 693.19,466.18 693.64,466.21 694.08,466.24 694.52,466.27 694.96,466.3 695.4,466.33 695.85,466.36 696.29,466.39 696.73,466.42 697.17,466.44 697.62,466.47 698.06,466.5 698.5,466.52" fill="none" stroke="#ff1a1a" stroke-width="1.35" stroke-linejoin="round"/><path d="M698.5 461.98l3 3l-3 3l-3 -3zM694.09 461.73l3 3l-3 3l-3 -3zM689.67 461.43l3 3l-3 3l-3 -3zM685.25 461.06l3 3l-3 3l-3 -3zM680.84 460.62l3 3l-3 3l-3 -3zM676.42 460.09l3 3l-3 3l-3 -3zM672.01 459.44l3 3l-3 3l-3 -3zM667.6 458.65l3 3l-3 3l-3 -3zM663.18 457.69l3 3l-3 3l-3 -3zM658.76 456.51l3 3l-3 3l-3 -3zM654.35 455.04l3 3l-3 3l-3 -3zM649.94 453.24l3 3l-3 3l-3 -3zM645.52 451.03l3 3l-3 3l-3 -3zM641.11 448.37l3 3l-3 3l-3 -3zM636.69 445.22l3 3l-3 3l-3 -3zM632.27 441.58l3 3l-3 3l-3 -3zM627.86 437.44l3 3l-3 3l-3 -3zM623.45 432.84l3 3l-3 3l-3 -3zM619.03 427.82l3 3l-3 3l-3 -3zM614.62 422.43l3 3l-3 3l-3 -3zM610.2 416.72l3 3l-3 3l-3 -3zM605.79 410.76l3 3l-3 3l-3 -3zM601.37 404.59l3 3l-3 3l-3 -3zM596.96 398.28l3 3l-3 3l-3 -3zM592.54 391.86l3 3l-3 3l-3 -3zM588.12 385.38l3 3l-3 3l-3 -3zM583.71 378.89l3 3l-3 3l-3 -3zM579.3 372.44l3 3l-3 3l-3 -3zM574.88 366.05l3 3l-3 3l-3 -3zM570.47 359.79l3 3l-3 3l-3 -3zM566.05 353.69l3 3l-3 3l-3 -3zM561.63 347.82l3 3l-3 3l-3 -3zM557.22 342.21l3 3l-3 3l-3 -3zM552.81 336.94l3 3l-3 3l-3 -3zM548.39 332.04l3 3l-3 3l-3 -3zM543.98 327.57l3 3l-3 3l-3 -3zM539.56 323.54l3 3l-3 3l-3 -3zM535.14 319.99l3 3l-3 3l-3 -3zM530.73 316.9l3 3l-3 3l-3 -3zM526.32 314.27l3 3l-3 3l-3 -3zM521.9 312.05l3 3l-3 3l-3 -3zM517.49 310.22l3 3l-3 3l-3 -3zM513.07 308.74l3 3l-3 3l-3 -3zM508.66 307.59l3 3l-3 3l-3 -3zM504.24 306.74l3 3l-3 3l-3 -3zM499.83 306.19l3 3l-3 3l-3 -3zM495.41 305.95l3 3l-3 3l-3 -3zM491 306.01l3 3l-3 3l-3 -3zM486.58 306.38l3 3l-3 3l-3 -3zM482.17 306.99l3 3l-3 3l-3 -3zM477.75 307.76l3 3l-3 3l-3 -3zM473.33 308.56l3 3l-3 3l-3 -3zM468.92 309.28l3 3l-3 3l-3 -3zM464.5 309.86l3 3l-3 3l-3 -3zM460.09 310.29l3 3l-3 3l-3 -3zM455.68 310.58l3 3l-3 3l-3 -3zM451.26 310.76l3 3l-3 3l-3 -3zM446.85 310.88l3 3l-3 3l-3 -3zM442.43 310.94l3 3l-3 3l-3 -3zM438.01 310.97l3 3l-3 3l-3 -3zM433.6 310.98l3 3l-3 3l-3 -3z" fill="#ff00ff" clip-path="url(#c3)"/><polyline points="433.6,313.98 434.04,313.98 434.48,313.98 434.93,313.98 435.37,313.98 435.81,313.98 436.25,313.98 436.7,313.97 437.14,313.97 437.58,313.97 438.02,313.97 438.46,313.97 438.91,313.97 439.35,313.96 439.79,313.96 440.23,313.96 440.68,313.95 441.12,313.95 441.56,313.95 442,313.94 442.44,313.94 442.89,313.93 443.33,313.93 443.77,313.92 444.21,313.92 444.66,313.91 445.1,313.91 445.54,313.9 445.98,313.89 446.42,313.88 446.87,313.88 447.31,313.87 447.75,313.86 448.19,313.85 448.64,313.84 449.08,313.83 449.52,313.82 449.96,313.8 450.41,313.79 450.85,313.78 451.29,313.76 451.73,313.75 452.17,313.73 452.62,313.72 453.06,313.7 453.5,313.68 453.94,313.66 454.39,313.64 454.83,313.62 455.27,313.6 455.71,313.58 456.15,313.55 456.6,313.53 457.04,313.5 457.48,313.47 457.92,313.44 458.37,313.41 458.81,313.38 459.25,313.35 459.69,313.32 460.13,313.28 460.58,313.25 461.02,313.21 461.46,313.17 461.9,313.13 462.35,313.09 462.79,313.04 463.23,313 463.67,312.95 464.11,312.9 464.56,312.85 465,312.8 465.44,312.75 465.88,312.69 466.33,312.64 466.77,312.58 467.21,312.52 467.65,312.46 468.09,312.4 468.54,312.33 468.98,312.27 469.42,312.2 469.86,312.13 470.31,312.07 470.75,311.99 471.19,311.92 471.63,311.85 472.07,311.78 472.52,311.7 472.96,311.62 473.4,311.55 473.84,311.47 474.29,311.39 474.73,311.31 475.17,311.23 475.61,311.15 476.05,311.07 476.5,310.99 476.94,310.91 477.38,310.83 477.82,310.75 478.27,310.67 478.71,310.59 479.15,310.51 479.59,310.43 480.03,310.35 480.48,310.28 480.92,310.2 481.36,310.13 481.8,310.05 482.25,309.98 482.69,309.91 483.13,309.84 483.57,309.78 484.02,309.71 484.46,309.65 484.9,309.59 485.34,309.53 485.78,309.47 486.23,309.42 486.67,309.37 487.11,309.32 487.55,309.27 488,309.23 488.44,309.19 488.88,309.15 489.32,309.12 489.76,309.09 490.21,309.06 490.65,309.03 491.09,309.01 491.53,308.99 491.98,308.97 492.42,308.96 492.86,308.95 493.3,308.94 493.74,308.94 494.19,308.93 494.63,308.94 495.07,308.94 495.51,308.95 495.96,308.96 496.4,308.98 496.84,308.99 497.28,309.01 497.72,309.04 498.17,309.06 498.61,309.09 499.05,309.13 499.49,309.16 499.94,309.2 500.38,309.24 500.82,309.29 501.26,309.34 501.7,309.39 502.15,309.44 502.59,309.5 503.03,309.56 503.47,309.62 503.92,309.69 504.36,309.76 504.8,309.83 505.24,309.91 505.68,309.99 506.13,310.07 506.57,310.15 507.01,310.24 507.45,310.33 507.9,310.42 508.34,310.52 508.78,310.62 509.22,310.72 509.66,310.83 510.11,310.94 510.55,311.05 510.99,311.16 511.43,311.28 511.88,311.4 512.32,311.52 512.76,311.65 513.2,311.78 513.64,311.92 514.09,312.05 514.53,312.19 514.97,312.34 515.41,312.49 515.86,312.64 516.3,312.79 516.74,312.95 517.18,313.11 517.63,313.27 518.07,313.44 518.51,313.61 518.95,313.79 519.39,313.97 519.84,314.15 520.28,314.33 520.72,314.52 521.16,314.72 521.61,314.92 522.05,315.12 522.49,315.32 522.93,315.53 523.37,315.74 523.82,315.96 524.26,316.18 524.7,316.41 525.14,316.64 525.59,316.87 526.03,317.11 526.47,317.35 526.91,317.6 527.35,317.85 527.8,318.1 528.24,318.36 528.68,318.62 529.12,318.89 529.57,319.16 530.01,319.44 530.45,319.72 530.89,320.01 531.33,320.3 531.78,320.59 532.22,320.89 532.66,321.2 533.1,321.5 533.55,321.82 533.99,322.14 534.43,322.46 534.87,322.79 535.31,323.12 535.76,323.45 536.2,323.8 536.64,324.14 537.08,324.49 537.53,324.85 537.97,325.21 538.41,325.57 538.85,325.94 539.29,326.32 539.74,326.7 540.18,327.08 540.62,327.47 541.06,327.86 541.51,328.26 541.95,328.66 542.39,329.07 542.83,329.48 543.27,329.9 543.72,330.32 544.16,330.74 544.6,331.17 545.04,331.61 545.49,332.05 545.93,332.49 546.37,332.94 546.81,333.39 547.25,333.85 547.7,334.31 548.14,334.78 548.58,335.25 549.02,335.72 549.47,336.2 549.91,336.68 550.35,337.17 550.79,337.66 551.24,338.15 551.68,338.65 552.12,339.15 552.56,339.66 553,340.17 553.45,340.68 553.89,341.2 554.33,341.72 554.77,342.25 555.22,342.77 555.66,343.31 556.1,343.84 556.54,344.38 556.98,344.92 557.43,345.47 557.87,346.02 558.31,346.57 558.75,347.12 559.2,347.68 559.64,348.24 560.08,348.81 560.52,349.38 560.96,349.95 561.41,350.52 561.85,351.09 562.29,351.67 562.73,352.25 563.18,352.84 563.62,353.42 564.06,354.01 564.5,354.6 564.94,355.2 565.39,355.79 565.83,356.39 566.27,356.99 566.71,357.6 567.16,358.2 567.6,358.81 568.04,359.42 568.48,360.03 568.92,360.64 569.37,361.25 569.81,361.87 570.25,362.49 570.69,363.11 571.14,363.73 571.58,364.35 572.02,364.98 572.46,365.61 572.9,366.23 573.35,366.86 573.79,367.49 574.23,368.13 574.67,368.76 575.12,369.39 575.56,370.03 576,370.66 576.44,371.3 576.88,371.94 577.33,372.58 577.77,373.22 578.21,373.86 578.65,374.51 579.1,375.15 579.54,375.79 579.98,376.44 580.42,377.08 580.86,377.73 581.31,378.38 581.75,379.02 582.19,379.67 582.63,380.32 583.08,380.97 583.52,381.62 583.96,382.27 584.4,382.92 584.85,383.56 585.29,384.21 585.73,384.86 586.17,385.52 586.61,386.17 587.06,386.82 587.5,387.47 587.94,388.12 588.38,388.77 588.83,389.42 589.27,390.07 589.71,390.72 590.15,391.36 590.59,392.01 591.04,392.66 591.48,393.31 591.92,393.96 592.36,394.61 592.81,395.25 593.25,395.9 593.69,396.54 594.13,397.19 594.57,397.83 595.02,398.48 595.46,399.12 595.9,399.76 596.34,400.4 596.79,401.04 597.23,401.68 597.67,402.32 598.11,402.95 598.55,403.59 599,404.22 599.44,404.86 599.88,405.49 600.32,406.12 600.77,406.75 601.21,407.38 601.65,408 602.09,408.63 602.53,409.25 602.98,409.87 603.42,410.49 603.86,411.11 604.3,411.73 604.75,412.34 605.19,412.96 605.63,413.57 606.07,414.18 606.51,414.78 606.96,415.39 607.4,415.99 607.84,416.59 608.28,417.19 608.73,417.79 609.17,418.38 609.61,418.97 610.05,419.56 610.49,420.15 610.94,420.73 611.38,421.31 611.82,421.89 612.26,422.47 612.71,423.04 613.15,423.61 613.59,424.18 614.03,424.74 614.47,425.3 614.92,425.86 615.36,426.42 615.8,426.97 616.24,427.52 616.69,428.06 617.13,428.61 617.57,429.14 618.01,429.68 618.46,430.21 618.9,430.74 619.34,431.26 619.78,431.79 620.22,432.3 620.67,432.82 621.11,433.33 621.55,433.83 621.99,434.33 622.44,434.83 622.88,435.33 623.32,435.82 623.76,436.3 624.2,436.78 624.65,437.26 625.09,437.74 625.53,438.2 625.97,438.67 626.42,439.13 626.86,439.59 627.3,440.04 627.74,440.49 628.18,440.93 628.63,441.37 629.07,441.8 629.51,442.23 629.95,442.66 630.4,443.08 630.84,443.49 631.28,443.9 631.72,444.31 632.16,444.71 632.61,445.11 633.05,445.5 633.49,445.89 633.93,446.27 634.38,446.65 634.82,447.02 635.26,447.39 635.7,447.76 636.14,448.12 636.59,448.47 637.03,448.82 637.47,449.17 637.91,449.51 638.36,449.84 638.8,450.17 639.24,450.5 639.68,450.82 640.12,451.14 640.57,451.45 641.01,451.76 641.45,452.06 641.89,452.36 642.34,452.65 642.78,452.94 643.22,453.23 643.66,453.51 644.1,453.78 644.55,454.06 644.99,454.32 645.43,454.59 645.87,454.85 646.32,455.1 646.76,455.35 647.2,455.6 647.64,455.84 648.08,456.08 648.53,456.31 648.97,456.54 649.41,456.76 649.85,456.99 650.3,457.2 650.74,457.42 651.18,457.63 651.62,457.83 652.07,458.04 652.51,458.23 652.95,458.43 653.39,458.62 653.83,458.81 654.28,458.99 654.72,459.18 655.16,459.35 655.6,459.53 656.05,459.7 656.49,459.87 656.93,460.03 657.37,460.19 657.81,460.35 658.26,460.51 658.7,460.66 659.14,460.81 659.58,460.96 660.03,461.1 660.47,461.24 660.91,461.38 661.35,461.51 661.79,461.65 662.24,461.78 662.68,461.9 663.12,462.03 663.56,462.15 664.01,462.27 664.45,462.39 664.89,462.5 665.33,462.62 665.77,462.73 666.22,462.84 666.66,462.94 667.1,463.05 667.54,463.15 667.99,463.25 668.43,463.35 668.87,463.44 669.31,463.54 669.75,463.63 670.2,463.72 670.64,463.81 671.08,463.9 671.52,463.98 671.97,464.06 672.41,464.14 672.85,464.22 673.29,464.3 673.73,464.38 674.18,464.45 674.62,464.53 675.06,464.6 675.5,464.67 675.95,464.74 676.39,464.81 676.83,464.87 677.27,464.94 677.71,465 678.16,465.06 678.6,465.13 679.04,465.19 679.48,465.24 679.93,465.3 680.37,465.36 680.81,465.41 681.25,465.47 681.69,465.52 682.14,465.57 682.58,465.62 683.02,465.67 683.46,465.72 683.91,465.77 684.35,465.82 684.79,465.86 685.23,465.91 685.68,465.95 686.12,465.99 686.56,466.04 687,466.08 687.44,466.12 687.89,466.16 688.33,466.2 688.77,466.24 689.21,466.27 689.66,466.31 690.1,466.35 690.54,466.38 690.98,466.42 691.42,466.45 691.87,466.48 692.31,466.51 692.75,466.55 693.19,466.58 693.64,466.61 694.08,466.64 694.52,466.67 694.96,466.7 695.4,466.73 695.85,466.75 696.29,466.78 696.73,466.81 697.17,466.83 697.62,466.86 698.06,466.88 698.5,466.91" fill="none" stroke="#ff1a1a" stroke-width="1.35" stroke-linejoin="round"/><path d="M698.5 460.93l3 3l-3 3l-3 -3zM694.09 460.83l3 3l-3 3l-3 -3zM689.67 460.7l3 3l-3 3l-3 -3zM685.25 460.54l3 3l-3 3l-3 -3zM680.84 460.36l3 3l-3 3l-3 -3zM676.42 460.13l3 3l-3 3l-3 -3zM672.01 459.85l3 3l-3 3l-3 -3zM667.6 459.49l3 3l-3 3l-3 -3zM663.18 459.03l3 3l-3 3l-3 -3zM658.76 458.41l3 3l-3 3l-3 -3zM654.35 457.57l3 3l-3 3l-3 -3zM649.94 456.44l3 3l-3 3l-3 -3zM645.52 454.92l3 3l-3 3l-3 -3zM641.11 452.93l3 3l-3 3l-3 -3zM636.69 450.39l3 3l-3 3l-3 -3zM632.27 447.26l3 3l-3 3l-3 -3zM627.86 443.49l3 3l-3 3l-3 -3zM623.45 439.1l3 3l-3 3l-3 -3zM619.03 434.13l3 3l-3 3l-3 -3zM614.62 428.63l3 3l-3 3l-3 -3zM610.2 422.69l3 3l-3 3l-3 -3zM605.79 416.4l3 3l-3 3l-3 -3zM601.37 409.86l3 3l-3 3l-3 -3zM596.96 403.15l3 3l-3 3l-3 -3zM592.54 396.36l3 3l-3 3l-3 -3zM588.12 389.58l3 3l-3 3l-3 -3zM583.71 382.9l3 3l-3 3l-3 -3zM579.3 376.4l3 3l-3 3l-3 -3zM574.88 370.17l3 3l-3 3l-3 -3zM570.47 364.3l3 3l-3 3l-3 -3zM566.05 358.88l3 3l-3 3l-3 -3zM561.63 353.98l3 3l-3 3l-3 -3zM557.22 349.66l3 3l-3 3l-3 -3zM552.81 345.94l3 3l-3 3l-3 -3zM548.39 342.81l3 3l-3 3l-3 -3zM543.98 340.24l3 3l-3 3l-3 -3zM539.56 338.15l3 3l-3 3l-3 -3zM535.14 336.5l3 3l-3 3l-3 -3zM530.73 335.2l3 3l-3 3l-3 -3zM526.32 334.2l3 3l-3 3l-3 -3zM521.9 333.44l3 3l-3 3l-3 -3zM517.49 332.9l3 3l-3 3l-3 -3zM513.07 332.54l3 3l-3 3l-3 -3zM508.66 332.35l3 3l-3 3l-3 -3zM504.24 332.35l3 3l-3 3l-3 -3zM499.83 332.53l3 3l-3 3l-3 -3zM495.41 332.89l3 3l-3 3l-3 -3zM491 333.41l3 3l-3 3l-3 -3zM486.58 334.03l3 3l-3 3l-3 -3zM482.17 334.67l3 3l-3 3l-3 -3zM477.75 335.25l3 3l-3 3l-3 -3zM473.33 335.73l3 3l-3 3l-3 -3zM468.92 336.09l3 3l-3 3l-3 -3zM464.5 336.35l3 3l-3 3l-3 -3zM460.09 336.52l3 3l-3 3l-3 -3zM455.68 336.63l3 3l-3 3l-3 -3zM451.26 336.7l3 3l-3 3l-3 -3zM446.85 336.74l3 3l-3 3l-3 -3zM442.43 336.76l3 3l-3 3l-3 -3zM438.01 336.77l3 3l-3 3l-3 -3zM433.6 336.78l3 3l-3 3l-3 -3z" fill="#0000ff" clip-path="url(#c3)"/><polyline points="433.6,339.78 434.04,339.78 434.48,339.78 434.93,339.78 435.37,339.78 435.81,339.78 436.25,339.77 436.7,339.77 437.14,339.77 437.58,339.77 438.02,339.77 438.46,339.77 438.91,339.77 439.35,339.77 439.79,339.77 440.23,339.77 440.68,339.77 441.12,339.76 441.56,339.76 442,339.76 442.44,339.76 442.89,339.76 443.33,339.76 443.77,339.75 444.21,339.75 444.66,339.75 445.1,339.75 445.54,339.74 445.98,339.74 446.42,339.74 446.87,339.74 447.31,339.73 447.75,339.73 448.19,339.73 448.64,339.72 449.08,339.72 449.52,339.71 449.96,339.71 450.41,339.71 450.85,339.7 451.29,339.7 451.73,339.69 452.17,339.68 452.62,339.68 453.06,339.67 453.5,339.67 453.94,339.66 454.39,339.65 454.83,339.64 455.27,339.64 455.71,339.63 456.15,339.62 456.6,339.61 457.04,339.6 457.48,339.59 457.92,339.58 458.37,339.57 458.81,339.56 459.25,339.54 459.69,339.53 460.13,339.52 460.58,339.5 461.02,339.49 461.46,339.47 461.9,339.46 462.35,339.44 462.79,339.42 463.23,339.4 463.67,339.38 464.11,339.37 464.56,339.34 465,339.32 465.44,339.3 465.88,339.28 466.33,339.25 466.77,339.23 467.21,339.2 467.65,339.18 468.09,339.15 468.54,339.12 468.98,339.09 469.42,339.06 469.86,339.02 470.31,338.99 470.75,338.96 471.19,338.92 471.63,338.88 472.07,338.85 472.52,338.81 472.96,338.77 473.4,338.72 473.84,338.68 474.29,338.64 474.73,338.59 475.17,338.54 475.61,338.5 476.05,338.45 476.5,338.4 476.94,338.35 477.38,338.29 477.82,338.24 478.27,338.19 478.71,338.13 479.15,338.07 479.59,338.02 480.03,337.96 480.48,337.9 480.92,337.84 481.36,337.78 481.8,337.72 482.25,337.66 482.69,337.59 483.13,337.53 483.57,337.47 484.02,337.4 484.46,337.34 484.9,337.27 485.34,337.21 485.78,337.14 486.23,337.08 486.67,337.01 487.11,336.95 487.55,336.89 488,336.82 488.44,336.76 488.88,336.7 489.32,336.63 489.76,336.57 490.21,336.51 490.65,336.45 491.09,336.4 491.53,336.34 491.98,336.28 492.42,336.23 492.86,336.17 493.3,336.12 493.74,336.07 494.19,336.02 494.63,335.97 495.07,335.92 495.51,335.88 495.96,335.83 496.4,335.79 496.84,335.75 497.28,335.71 497.72,335.68 498.17,335.64 498.61,335.61 499.05,335.58 499.49,335.55 499.94,335.52 500.38,335.49 500.82,335.47 501.26,335.45 501.7,335.43 502.15,335.41 502.59,335.39 503.03,335.38 503.47,335.37 503.92,335.35 504.36,335.35 504.8,335.34 505.24,335.33 505.68,335.33 506.13,335.33 506.57,335.33 507.01,335.33 507.45,335.33 507.9,335.34 508.34,335.35 508.78,335.36 509.22,335.37 509.66,335.38 510.11,335.39 510.55,335.41 510.99,335.43 511.43,335.45 511.88,335.47 512.32,335.49 512.76,335.52 513.2,335.55 513.64,335.57 514.09,335.61 514.53,335.64 514.97,335.67 515.41,335.71 515.86,335.74 516.3,335.78 516.74,335.83 517.18,335.87 517.63,335.91 518.07,335.96 518.51,336.01 518.95,336.06 519.39,336.11 519.84,336.17 520.28,336.22 520.72,336.28 521.16,336.34 521.61,336.4 522.05,336.47 522.49,336.53 522.93,336.6 523.37,336.67 523.82,336.75 524.26,336.82 524.7,336.9 525.14,336.98 525.59,337.06 526.03,337.14 526.47,337.23 526.91,337.32 527.35,337.41 527.8,337.51 528.24,337.6 528.68,337.7 529.12,337.8 529.57,337.91 530.01,338.02 530.45,338.13 530.89,338.24 531.33,338.36 531.78,338.48 532.22,338.6 532.66,338.73 533.1,338.86 533.55,338.99 533.99,339.13 534.43,339.26 534.87,339.41 535.31,339.55 535.76,339.7 536.2,339.86 536.64,340.01 537.08,340.18 537.53,340.34 537.97,340.51 538.41,340.68 538.85,340.86 539.29,341.04 539.74,341.23 540.18,341.42 540.62,341.61 541.06,341.81 541.51,342.01 541.95,342.22 542.39,342.43 542.83,342.65 543.27,342.87 543.72,343.1 544.16,343.33 544.6,343.57 545.04,343.81 545.49,344.06 545.93,344.31 546.37,344.57 546.81,344.83 547.25,345.1 547.7,345.37 548.14,345.65 548.58,345.94 549.02,346.23 549.47,346.52 549.91,346.83 550.35,347.13 550.79,347.45 551.24,347.76 551.68,348.09 552.12,348.42 552.56,348.76 553,349.1 553.45,349.45 553.89,349.8 554.33,350.16 554.77,350.53 555.22,350.9 555.66,351.28 556.1,351.66 556.54,352.05 556.98,352.45 557.43,352.85 557.87,353.26 558.31,353.68 558.75,354.1 559.2,354.52 559.64,354.96 560.08,355.4 560.52,355.84 560.96,356.29 561.41,356.75 561.85,357.21 562.29,357.68 562.73,358.15 563.18,358.63 563.62,359.11 564.06,359.61 564.5,360.1 564.94,360.6 565.39,361.11 565.83,361.62 566.27,362.14 566.71,362.66 567.16,363.19 567.6,363.72 568.04,364.26 568.48,364.81 568.92,365.35 569.37,365.91 569.81,366.46 570.25,367.03 570.69,367.59 571.14,368.16 571.58,368.74 572.02,369.32 572.46,369.9 572.9,370.49 573.35,371.08 573.79,371.68 574.23,372.28 574.67,372.88 575.12,373.49 575.56,374.1 576,374.72 576.44,375.34 576.88,375.96 577.33,376.58 577.77,377.21 578.21,377.84 578.65,378.47 579.1,379.11 579.54,379.75 579.98,380.39 580.42,381.04 580.86,381.68 581.31,382.33 581.75,382.99 582.19,383.64 582.63,384.3 583.08,384.95 583.52,385.62 583.96,386.28 584.4,386.94 584.85,387.61 585.29,388.27 585.73,388.94 586.17,389.61 586.61,390.28 587.06,390.96 587.5,391.63 587.94,392.31 588.38,392.98 588.83,393.66 589.27,394.34 589.71,395.02 590.15,395.7 590.59,396.37 591.04,397.05 591.48,397.74 591.92,398.42 592.36,399.1 592.81,399.78 593.25,400.46 593.69,401.14 594.13,401.82 594.57,402.5 595.02,403.18 595.46,403.86 595.9,404.54 596.34,405.22 596.79,405.9 597.23,406.58 597.67,407.26 598.11,407.93 598.55,408.61 599,409.28 599.44,409.96 599.88,410.63 600.32,411.3 600.77,411.97 601.21,412.63 601.65,413.3 602.09,413.96 602.53,414.63 602.98,415.29 603.42,415.95 603.86,416.6 604.3,417.26 604.75,417.91 605.19,418.56 605.63,419.21 606.07,419.85 606.51,420.49 606.96,421.13 607.4,421.77 607.84,422.41 608.28,423.04 608.73,423.66 609.17,424.29 609.61,424.91 610.05,425.53 610.49,426.15 610.94,426.76 611.38,427.36 611.82,427.97 612.26,428.57 612.71,429.17 613.15,429.76 613.59,430.35 614.03,430.93 614.47,431.51 614.92,432.09 615.36,432.66 615.8,433.23 616.24,433.79 616.69,434.35 617.13,434.9 617.57,435.45 618.01,435.99 618.46,436.53 618.9,437.07 619.34,437.59 619.78,438.12 620.22,438.64 620.67,439.15 621.11,439.66 621.55,440.16 621.99,440.66 622.44,441.15 622.88,441.63 623.32,442.11 623.76,442.59 624.2,443.05 624.65,443.52 625.09,443.97 625.53,444.42 625.97,444.87 626.42,445.31 626.86,445.74 627.3,446.17 627.74,446.59 628.18,447.01 628.63,447.41 629.07,447.82 629.51,448.21 629.95,448.61 630.4,448.99 630.84,449.37 631.28,449.74 631.72,450.11 632.16,450.47 632.61,450.82 633.05,451.17 633.49,451.52 633.93,451.85 634.38,452.18 634.82,452.51 635.26,452.83 635.7,453.14 636.14,453.45 636.59,453.75 637.03,454.05 637.47,454.34 637.91,454.62 638.36,454.9 638.8,455.18 639.24,455.45 639.68,455.71 640.12,455.97 640.57,456.22 641.01,456.47 641.45,456.71 641.89,456.95 642.34,457.18 642.78,457.41 643.22,457.63 643.66,457.85 644.1,458.06 644.55,458.27 644.99,458.47 645.43,458.67 645.87,458.87 646.32,459.06 646.76,459.24 647.2,459.43 647.64,459.6 648.08,459.78 648.53,459.95 648.97,460.11 649.41,460.28 649.85,460.43 650.3,460.59 650.74,460.74 651.18,460.89 651.62,461.03 652.07,461.17 652.51,461.31 652.95,461.44 653.39,461.57 653.83,461.7 654.28,461.83 654.72,461.95 655.16,462.07 655.6,462.18 656.05,462.3 656.49,462.41 656.93,462.51 657.37,462.62 657.81,462.72 658.26,462.82 658.7,462.92 659.14,463.01 659.58,463.11 660.03,463.2 660.47,463.29 660.91,463.37 661.35,463.46 661.79,463.54 662.24,463.62 662.68,463.7 663.12,463.77 663.56,463.85 664.01,463.92 664.45,463.99 664.89,464.06 665.33,464.13 665.77,464.19 666.22,464.26 666.66,464.32 667.1,464.38 667.54,464.44 667.99,464.5 668.43,464.56 668.87,464.61 669.31,464.66 669.75,464.72 670.2,464.77 670.64,464.82 671.08,464.87 671.52,464.91 671.97,464.96 672.41,465.01 672.85,465.05 673.29,465.09 673.73,465.14 674.18,465.18 674.62,465.22 675.06,465.26 675.5,465.3 675.95,465.33 676.39,465.37 676.83,465.41 677.27,465.44 677.71,465.47 678.16,465.51 678.6,465.54 679.04,465.57 679.48,465.6 679.93,465.63 680.37,465.66 680.81,465.69 681.25,465.72 681.69,465.75 682.14,465.77 682.58,465.8 683.02,465.82 683.46,465.85 683.91,465.87 684.35,465.9 684.79,465.92 685.23,465.94 685.68,465.97 686.12,465.99 686.56,466.01 687,466.03 687.44,466.05 687.89,466.07 688.33,466.09 688.77,466.11 689.21,466.13 689.66,466.14 690.1,466.16 690.54,466.18 690.98,466.2 691.42,466.21 691.87,466.23 692.31,466.25 692.75,466.26 693.19,466.28 693.64,466.29 694.08,466.31 694.52,466.32 694.96,466.33 695.4,466.35 695.85,466.36 696.29,466.37 696.73,466.39 697.17,466.4 697.62,466.41 698.06,466.42 698.5,466.43" fill="none" stroke="#ff1a1a" stroke-width="1.35" stroke-linejoin="round"/><path d="M698.5 463.48l3 3l-3 3l-3 -3zM694.09 463.37l3 3l-3 3l-3 -3zM689.67 463.23l3 3l-3 3l-3 -3zM685.25 463.06l3 3l-3 3l-3 -3zM680.84 462.84l3 3l-3 3l-3 -3zM676.42 462.56l3 3l-3 3l-3 -3zM672.01 462.21l3 3l-3 3l-3 -3zM667.6 461.77l3 3l-3 3l-3 -3zM663.18 461.2l3 3l-3 3l-3 -3zM658.76 460.48l3 3l-3 3l-3 -3zM654.35 459.56l3 3l-3 3l-3 -3zM649.94 458.38l3 3l-3 3l-3 -3zM645.52 456.89l3 3l-3 3l-3 -3zM641.11 455.01l3 3l-3 3l-3 -3zM636.69 452.68l3 3l-3 3l-3 -3zM632.27 449.82l3 3l-3 3l-3 -3zM627.86 446.4l3 3l-3 3l-3 -3zM623.45 442.39l3 3l-3 3l-3 -3zM619.03 437.8l3 3l-3 3l-3 -3zM614.62 432.67l3 3l-3 3l-3 -3zM610.2 427.06l3 3l-3 3l-3 -3zM605.79 421.06l3 3l-3 3l-3 -3zM601.37 414.75l3 3l-3 3l-3 -3zM596.96 408.23l3 3l-3 3l-3 -3zM592.54 401.59l3 3l-3 3l-3 -3zM588.12 394.92l3 3l-3 3l-3 -3zM583.71 388.3l3 3l-3 3l-3 -3zM579.3 381.83l3 3l-3 3l-3 -3zM574.88 375.59l3 3l-3 3l-3 -3zM570.47 369.69l3 3l-3 3l-3 -3zM566.05 364.2l3 3l-3 3l-3 -3zM561.63 359.2l3 3l-3 3l-3 -3zM557.22 354.76l3 3l-3 3l-3 -3zM552.81 350.9l3 3l-3 3l-3 -3zM548.39 347.63l3 3l-3 3l-3 -3zM543.98 344.92l3 3l-3 3l-3 -3zM539.56 342.71l3 3l-3 3l-3 -3zM535.14 340.95l3 3l-3 3l-3 -3zM530.73 339.55l3 3l-3 3l-3 -3zM526.32 338.46l3 3l-3 3l-3 -3zM521.9 337.62l3 3l-3 3l-3 -3zM517.49 336.98l3 3l-3 3l-3 -3zM513.07 336.52l3 3l-3 3l-3 -3zM508.66 336.21l3 3l-3 3l-3 -3zM504.24 336.05l3 3l-3 3l-3 -3zM499.83 336.03l3 3l-3 3l-3 -3zM495.41 336.16l3 3l-3 3l-3 -3zM491 336.42l3 3l-3 3l-3 -3zM486.58 336.8l3 3l-3 3l-3 -3zM482.17 337.23l3 3l-3 3l-3 -3zM477.75 337.67l3 3l-3 3l-3 -3zM473.33 338.06l3 3l-3 3l-3 -3zM468.92 338.36l3 3l-3 3l-3 -3zM464.5 338.59l3 3l-3 3l-3 -3zM460.09 338.74l3 3l-3 3l-3 -3zM455.68 338.85l3 3l-3 3l-3 -3zM451.26 338.91l3 3l-3 3l-3 -3zM446.85 338.95l3 3l-3 3l-3 -3zM442.43 338.97l3 3l-3 3l-3 -3zM438.01 338.98l3 3l-3 3l-3 -3zM433.6 338.98l3 3l-3 3l-3 -3z" fill="#00e000" clip-path="url(#c3)"/><polyline points="433.6,341.98 434.04,341.98 434.48,341.98 434.93,341.98 435.37,341.98 435.81,341.98 436.25,341.98 436.7,341.98 437.14,341.98 437.58,341.98 438.02,341.98 438.46,341.98 438.91,341.98 439.35,341.97 439.79,341.97 440.23,341.97 440.68,341.97 441.12,341.97 441.56,341.97 442,341.97 442.44,341.97 442.89,341.96 443.33,341.96 443.77,341.96 444.21,341.96 444.66,341.96 445.1,341.96 445.54,341.95 445.98,341.95 446.42,341.95 446.87,341.95 447.31,341.94 447.75,341.94 448.19,341.94 448.64,341.93 449.08,341.93 449.52,341.93 449.96,341.92 450.41,341.92 450.85,341.91 451.29,341.91 451.73,341.9 452.17,341.9 452.62,341.89 453.06,341.89 453.5,341.88 453.94,341.87 454.39,341.87 454.83,341.86 455.27,341.85 455.71,341.85 456.15,341.84 456.6,341.83 457.04,341.82 457.48,341.81 457.92,341.8 458.37,341.79 458.81,341.78 459.25,341.77 459.69,341.76 460.13,341.74 460.58,341.73 461.02,341.72 461.46,341.7 461.9,341.69 462.35,341.67 462.79,341.66 463.23,341.64 463.67,341.62 464.11,341.61 464.56,341.59 465,341.57 465.44,341.55 465.88,341.53 466.33,341.51 466.77,341.48 467.21,341.46 467.65,341.44 468.09,341.41 468.54,341.39 468.98,341.36 469.42,341.33 469.86,341.31 470.31,341.28 470.75,341.25 471.19,341.22 471.63,341.19 472.07,341.15 472.52,341.12 472.96,341.09 473.4,341.05 473.84,341.02 474.29,340.98 474.73,340.94 475.17,340.9 475.61,340.87 476.05,340.83 476.5,340.79 476.94,340.75 477.38,340.71 477.82,340.66 478.27,340.62 478.71,340.58 479.15,340.54 479.59,340.49 480.03,340.45 480.48,340.4 480.92,340.36 481.36,340.31 481.8,340.27 482.25,340.23 482.69,340.18 483.13,340.14 483.57,340.09 484.02,340.05 484.46,340 484.9,339.96 485.34,339.92 485.78,339.87 486.23,339.83 486.67,339.79 487.11,339.75 487.55,339.71 488,339.67 488.44,339.63 488.88,339.59 489.32,339.55 489.76,339.52 490.21,339.48 490.65,339.45 491.09,339.42 491.53,339.38 491.98,339.35 492.42,339.32 492.86,339.3 493.3,339.27 493.74,339.24 494.19,339.22 494.63,339.2 495.07,339.17 495.51,339.15 495.96,339.13 496.4,339.12 496.84,339.1 497.28,339.09 497.72,339.07 498.17,339.06 498.61,339.05 499.05,339.04 499.49,339.04 499.94,339.03 500.38,339.03 500.82,339.02 501.26,339.02 501.7,339.02 502.15,339.02 502.59,339.03 503.03,339.03 503.47,339.04 503.92,339.04 504.36,339.05 504.8,339.06 505.24,339.07 505.68,339.09 506.13,339.1 506.57,339.12 507.01,339.13 507.45,339.15 507.9,339.17 508.34,339.2 508.78,339.22 509.22,339.24 509.66,339.27 510.11,339.3 510.55,339.33 510.99,339.36 511.43,339.39 511.88,339.42 512.32,339.46 512.76,339.49 513.2,339.53 513.64,339.57 514.09,339.61 514.53,339.65 514.97,339.7 515.41,339.74 515.86,339.79 516.3,339.84 516.74,339.89 517.18,339.94 517.63,340 518.07,340.05 518.51,340.11 518.95,340.17 519.39,340.23 519.84,340.3 520.28,340.36 520.72,340.43 521.16,340.5 521.61,340.57 522.05,340.64 522.49,340.72 522.93,340.79 523.37,340.87 523.82,340.95 524.26,341.04 524.7,341.12 525.14,341.21 525.59,341.3 526.03,341.4 526.47,341.49 526.91,341.59 527.35,341.69 527.8,341.79 528.24,341.9 528.68,342.01 529.12,342.12 529.57,342.23 530.01,342.35 530.45,342.47 530.89,342.59 531.33,342.72 531.78,342.85 532.22,342.98 532.66,343.12 533.1,343.26 533.55,343.4 533.99,343.55 534.43,343.7 534.87,343.85 535.31,344.01 535.76,344.17 536.2,344.33 536.64,344.5 537.08,344.67 537.53,344.85 537.97,345.03 538.41,345.21 538.85,345.4 539.29,345.6 539.74,345.79 540.18,346 540.62,346.2 541.06,346.41 541.51,346.63 541.95,346.85 542.39,347.07 542.83,347.3 543.27,347.54 543.72,347.78 544.16,348.02 544.6,348.27 545.04,348.53 545.49,348.79 545.93,349.06 546.37,349.33 546.81,349.6 547.25,349.89 547.7,350.17 548.14,350.47 548.58,350.76 549.02,351.07 549.47,351.38 549.91,351.69 550.35,352.02 550.79,352.34 551.24,352.68 551.68,353.01 552.12,353.36 552.56,353.71 553,354.07 553.45,354.43 553.89,354.8 554.33,355.17 554.77,355.55 555.22,355.94 555.66,356.33 556.1,356.73 556.54,357.13 556.98,357.54 557.43,357.96 557.87,358.38 558.31,358.8 558.75,359.24 559.2,359.68 559.64,360.12 560.08,360.57 560.52,361.03 560.96,361.49 561.41,361.96 561.85,362.43 562.29,362.91 562.73,363.39 563.18,363.88 563.62,364.38 564.06,364.88 564.5,365.39 564.94,365.9 565.39,366.41 565.83,366.93 566.27,367.46 566.71,367.99 567.16,368.53 567.6,369.07 568.04,369.61 568.48,370.17 568.92,370.72 569.37,371.28 569.81,371.84 570.25,372.41 570.69,372.98 571.14,373.56 571.58,374.14 572.02,374.72 572.46,375.31 572.9,375.9 573.35,376.5 573.79,377.1 574.23,377.7 574.67,378.31 575.12,378.92 575.56,379.53 576,380.15 576.44,380.77 576.88,381.39 577.33,382.01 577.77,382.64 578.21,383.27 578.65,383.91 579.1,384.54 579.54,385.18 579.98,385.82 580.42,386.46 580.86,387.11 581.31,387.75 581.75,388.4 582.19,389.05 582.63,389.71 583.08,390.36 583.52,391.02 583.96,391.67 584.4,392.33 584.85,392.99 585.29,393.65 585.73,394.31 586.17,394.98 586.61,395.64 587.06,396.31 587.5,396.97 587.94,397.64 588.38,398.31 588.83,398.97 589.27,399.64 589.71,400.31 590.15,400.98 590.59,401.65 591.04,402.32 591.48,402.98 591.92,403.65 592.36,404.32 592.81,404.99 593.25,405.66 593.69,406.33 594.13,406.99 594.57,407.66 595.02,408.32 595.46,408.99 595.9,409.65 596.34,410.31 596.79,410.98 597.23,411.64 597.67,412.3 598.11,412.95 598.55,413.61 599,414.26 599.44,414.92 599.88,415.57 600.32,416.22 600.77,416.87 601.21,417.51 601.65,418.16 602.09,418.8 602.53,419.44 602.98,420.07 603.42,420.71 603.86,421.34 604.3,421.97 604.75,422.59 605.19,423.22 605.63,423.84 606.07,424.46 606.51,425.07 606.96,425.68 607.4,426.29 607.84,426.89 608.28,427.5 608.73,428.09 609.17,428.69 609.61,429.28 610.05,429.86 610.49,430.45 610.94,431.02 611.38,431.6 611.82,432.17 612.26,432.73 612.71,433.3 613.15,433.85 613.59,434.4 614.03,434.95 614.47,435.5 614.92,436.03 615.36,436.57 615.8,437.1 616.24,437.62 616.69,438.14 617.13,438.65 617.57,439.16 618.01,439.66 618.46,440.16 618.9,440.65 619.34,441.14 619.78,441.62 620.22,442.1 620.67,442.57 621.11,443.03 621.55,443.49 621.99,443.94 622.44,444.39 622.88,444.83 623.32,445.27 623.76,445.7 624.2,446.12 624.65,446.54 625.09,446.95 625.53,447.36 625.97,447.76 626.42,448.15 626.86,448.54 627.3,448.92 627.74,449.3 628.18,449.67 628.63,450.04 629.07,450.4 629.51,450.75 629.95,451.1 630.4,451.44 630.84,451.77 631.28,452.1 631.72,452.43 632.16,452.74 632.61,453.06 633.05,453.36 633.49,453.66 633.93,453.96 634.38,454.25 634.82,454.53 635.26,454.81 635.7,455.09 636.14,455.35 636.59,455.62 637.03,455.87 637.47,456.13 637.91,456.37 638.36,456.62 638.8,456.85 639.24,457.08 639.68,457.31 640.12,457.53 640.57,457.75 641.01,457.97 641.45,458.17 641.89,458.38 642.34,458.58 642.78,458.77 643.22,458.96 643.66,459.15 644.1,459.33 644.55,459.51 644.99,459.69 645.43,459.86 645.87,460.02 646.32,460.18 646.76,460.34 647.2,460.5 647.64,460.65 648.08,460.8 648.53,460.94 648.97,461.08 649.41,461.22 649.85,461.36 650.3,461.49 650.74,461.62 651.18,461.74 651.62,461.87 652.07,461.98 652.51,462.1 652.95,462.22 653.39,462.33 653.83,462.44 654.28,462.54 654.72,462.64 655.16,462.75 655.6,462.84 656.05,462.94 656.49,463.03 656.93,463.12 657.37,463.21 657.81,463.3 658.26,463.39 658.7,463.47 659.14,463.55 659.58,463.63 660.03,463.71 660.47,463.78 660.91,463.85 661.35,463.93 661.79,464 662.24,464.06 662.68,464.13 663.12,464.19 663.56,464.26 664.01,464.32 664.45,464.38 664.89,464.44 665.33,464.5 665.77,464.55 666.22,464.61 666.66,464.66 667.1,464.71 667.54,464.76 667.99,464.81 668.43,464.86 668.87,464.91 669.31,464.95 669.75,465 670.2,465.04 670.64,465.09 671.08,465.13 671.52,465.17 671.97,465.21 672.41,465.25 672.85,465.28 673.29,465.32 673.73,465.36 674.18,465.39 674.62,465.43 675.06,465.46 675.5,465.49 675.95,465.53 676.39,465.56 676.83,465.59 677.27,465.62 677.71,465.65 678.16,465.68 678.6,465.7 679.04,465.73 679.48,465.76 679.93,465.78 680.37,465.81 680.81,465.84 681.25,465.86 681.69,465.88 682.14,465.91 682.58,465.93 683.02,465.95 683.46,465.97 683.91,465.99 684.35,466.01 684.79,466.04 685.23,466.05 685.68,466.07 686.12,466.09 686.56,466.11 687,466.13 687.44,466.15 687.89,466.16 688.33,466.18 688.77,466.2 689.21,466.21 689.66,466.23 690.1,466.25 690.54,466.26 690.98,466.28 691.42,466.29 691.87,466.3 692.31,466.32 692.75,466.33 693.19,466.34 693.64,466.36 694.08,466.37 694.52,466.38 694.96,466.39 695.4,466.41 695.85,466.42 696.29,466.43 696.73,466.44 697.17,466.45 697.62,466.46 698.06,466.47 698.5,466.48" fill="none" stroke="#ff1a1a" stroke-width="1.35" stroke-linejoin="round"/><path d="M35 10H305V207H35Z" fill="none" stroke="#000" stroke-width="2"/><path d="M35 182.5H305" stroke="#000" stroke-width="1"/><path d="M38 286H301.5V480H38Z" fill="none" stroke="#000" stroke-width="2"/><path d="M433.5 285H698.5V481H433.5Z" fill="none" stroke="#000" stroke-width="2"/><path d="M31 206.84H35M31 182.2H35M31 157.56H35M31 132.92H35M31 108.28H35M31 83.64H35M31 59H35M31 34.36H35M31 9.72H35M35.2 207V210.7M61.92 207V210.7M88.64 207V210.7M115.36 207V210.7M142.08 207V210.7M168.8 207V210.7M195.52 207V210.7M222.24 207V210.7M248.96 207V210.7M275.68 207V210.7M302.4 207V210.7M34 286.2H38M34 312H38M34 337.8H38M34 363.6H38M34 389.4H38M34 415.2H38M34 441H38M34 466.8H38M38 480V484M81.9 480V484M125.8 480V484M169.7 480V484M213.6 480V484M257.5 480V484M301.4 480V484M429.5 480.9H433.5M429.5 461.3H433.5M429.5 441.7H433.5M429.5 422.1H433.5M429.5 402.5H433.5M429.5 382.9H433.5M429.5 363.3H433.5M429.5 343.7H433.5M429.5 324.1H433.5M429.5 304.5H433.5M429.5 284.9H433.5M433.6 481V485M477.75 481V485M521.9 481V485M566.05 481V485M610.2 481V485M654.35 481V485M698.5 481V485" stroke="#000" stroke-width="2"/><g font-family="Liberation Sans, sans-serif" fill="#222"><text x="28.6" y="210.04" text-anchor="end" font-size="9">-10</text><text x="28.6" y="185.4" text-anchor="end" font-size="9">0</text><text x="28.6" y="160.76" text-anchor="end" font-size="9">10</text><text x="28.6" y="136.12" text-anchor="end" font-size="9">20</text><text x="28.6" y="111.48" text-anchor="end" font-size="9">30</text><text x="28.6" y="86.84" text-anchor="end" font-size="9">40</text><text x="28.6" y="62.2" text-anchor="end" font-size="9">50</text><text x="28.6" y="37.56" text-anchor="end" font-size="9">60</text><text x="28.6" y="12.92" text-anchor="end" font-size="9">70</text><text x="35.2" y="220.9" text-anchor="middle" font-size="9">0</text><text x="61.92" y="220.9" text-anchor="middle" font-size="9">10</text><text x="88.64" y="220.9" text-anchor="middle" font-size="9">20</text><text x="115.36" y="220.9" text-anchor="middle" font-size="9">30</text><text x="142.08" y="220.9" text-anchor="middle" font-size="9">40</text><text x="168.8" y="220.9" text-anchor="middle" font-size="9">50</text><text x="195.52" y="220.9" text-anchor="middle" font-size="9">60</text><text x="222.24" y="220.9" text-anchor="middle" font-size="9">70</text><text x="248.96" y="220.9" text-anchor="middle" font-size="9">80</text><text x="275.68" y="220.9" text-anchor="middle" font-size="9">90</text><text x="302.4" y="220.9" text-anchor="middle" font-size="9">100</text><text x="31.9" y="288.4" text-anchor="end" font-size="8.2">10</text><text x="31.9" y="314.2" text-anchor="end" font-size="8.2">0</text><text x="31.9" y="340" text-anchor="end" font-size="8.2">-10</text><text x="31.9" y="365.8" text-anchor="end" font-size="8.2">-20</text><text x="31.9" y="391.6" text-anchor="end" font-size="8.2">-30</text><text x="31.9" y="417.4" text-anchor="end" font-size="8.2">-40</text><text x="31.9" y="443.2" text-anchor="end" font-size="8.2">-50</text><text x="31.9" y="469" text-anchor="end" font-size="8.2">-60</text><text x="38" y="492.6" text-anchor="middle" font-size="8">-1</text><text x="81.9" y="492.6" text-anchor="middle" font-size="8">0</text><text x="125.8" y="492.6" text-anchor="middle" font-size="8">1</text><text x="169.7" y="492.6" text-anchor="middle" font-size="8">2</text><text x="213.6" y="492.6" text-anchor="middle" font-size="8">3</text><text x="257.5" y="492.6" text-anchor="middle" font-size="8">4</text><text x="301.4" y="492.6" text-anchor="middle" font-size="8">5</text><text x="427.1" y="483" text-anchor="end" font-size="8.2">0.2</text><text x="427.1" y="463.4" text-anchor="end" font-size="8.2">0.4</text><text x="427.1" y="443.8" text-anchor="end" font-size="8.2">0.6</text><text x="427.1" y="424.2" text-anchor="end" font-size="8.2">0.8</text><text x="427.1" y="404.6" text-anchor="end" font-size="8.2">1.0</text><text x="427.1" y="385" text-anchor="end" font-size="8.2">1.2</text><text x="427.1" y="365.4" text-anchor="end" font-size="8.2">1.4</text><text x="427.1" y="345.8" text-anchor="end" font-size="8.2">1.6</text><text x="427.1" y="326.2" text-anchor="end" font-size="8.2">1.8</text><text x="427.1" y="306.6" text-anchor="end" font-size="8.2">2.0</text><text x="427.1" y="287" text-anchor="end" font-size="8.2">2.2</text><text x="433.6" y="493.9" text-anchor="middle" font-size="8">-1</text><text x="477.75" y="493.9" text-anchor="middle" font-size="8">0</text><text x="521.9" y="493.9" text-anchor="middle" font-size="8">1</text><text x="566.05" y="493.9" text-anchor="middle" font-size="8">2</text><text x="610.2" y="493.9" text-anchor="middle" font-size="8">3</text><text x="654.35" y="493.9" text-anchor="middle" font-size="8">4</text><text x="698.5" y="493.9" text-anchor="middle" font-size="8">5</text></g><g font-family="Liberation Sans, sans-serif" fill="#222"><text x="151.8" y="233.3" font-size="10">Z<tspan font-size="7" dy="2.5">Re</tspan><tspan dy="-2.5">(&#937; .cm</tspan><tspan font-size="7" dy="-3.5">2</tspan><tspan dy="3.5">)</tspan></text><text transform="translate(15.5,139) rotate(-90)" font-size="10">-Z<tspan font-size="7" dy="2.5">Im</tspan><tspan dy="-2.5">(&#937;.cm</tspan><tspan font-size="7" dy="-3.5">2</tspan><tspan dy="3.5">)</tspan></text><text x="171" y="503.9" font-size="9.8" text-anchor="middle">log f (HZ)</text><text x="567.7" y="503.9" font-size="9.8" text-anchor="middle">log f (HZ)</text><text transform="translate(14,421.5) rotate(-90)" font-size="10.3">Phase angle<tspan font-size="8.5" dx="1.2">&#945;</tspan><tspan font-size="6.5" dy="-3.2">/&#176;</tspan></text><text transform="translate(408.5,413) rotate(-90)" font-size="10">log Z (&#937; cm<tspan font-size="6.5" dy="-3.5">2</tspan><tspan dy="3.5">)</tspan></text></g><g font-family="Liberation Serif, serif" fill="#111"><path d="M53.7 17.6l3.0 3.0l-3.0 3.0l-3.0 -3.0z" fill="#000000"/><text x="69.3" y="24" font-size="9.4">0.5 M H<tspan font-size="5.5" dy="2">2</tspan><tspan dy="-2">SO</tspan><tspan font-size="5.5" dy="2">4</tspan></text><path d="M53.7 31.7l3.0 3.0l-3.0 3.0l-3.0 -3.0z" fill="#800080"/><text x="69.3" y="38.1" font-size="9.4">10<tspan font-size="6" dy="-3.6">-3</tspan><tspan dy="3.6"> M</tspan></text><path d="M53.7 44l3.0 3.0l-3.0 3.0l-3.0 -3.0z" fill="#ff00ff"/><text x="69.3" y="50.4" font-size="9.4">10<tspan font-size="6" dy="-3.6">-4</tspan><tspan dy="3.6"> M</tspan></text><path d="M53.7 56.5l3.0 3.0l-3.0 3.0l-3.0 -3.0z" fill="#0000ff"/><text x="69.3" y="62.9" font-size="9.4">10<tspan font-size="6" dy="-3.6">-5</tspan><tspan dy="3.6"> M</tspan></text><path d="M53.7 69l3.0 3.0l-3.0 3.0l-3.0 -3.0z" fill="#00e000"/><text x="69.3" y="75.4" font-size="9.4">10<tspan font-size="6" dy="-3.6">-6</tspan><tspan dy="3.6"> M</tspan></text><path d="M43.6 82.6H64" stroke="#ff1a1a" stroke-width="1.2"/><text x="68.1" y="85.9" font-size="9">Fitting curves</text></g><g font-family="Liberation Serif, serif" fill="#111"><path d="M58.9 392.3l3.0 3.0l-3.0 3.0l-3.0 -3.0z" fill="#800080"/><text x="74.2" y="398.7" font-size="9.4">10<tspan font-size="6" dy="-3.6">-3</tspan><tspan dy="3.6"> M</tspan></text><path d="M58.9 404.5l3.0 3.0l-3.0 3.0l-3.0 -3.0z" fill="#ff00ff"/><text x="74.2" y="410.9" font-size="9.4">10<tspan font-size="6" dy="-3.6">-4</tspan><tspan dy="3.6"> M</tspan></text><path d="M58.9 416.7l3.0 3.0l-3.0 3.0l-3.0 -3.0z" fill="#0000ff"/><text x="74.2" y="423.1" font-size="9.4">10<tspan font-size="6" dy="-3.6">-5</tspan><tspan dy="3.6"> M</tspan></text><path d="M58.9 429l3.0 3.0l-3.0 3.0l-3.0 -3.0z" fill="#00e000"/><text x="74.2" y="435.4" font-size="9.4">10<tspan font-size="6" dy="-3.6">-6</tspan><tspan dy="3.6"> M</tspan></text><path d="M48.9 442.3H68.8" stroke="#ff1a1a" stroke-width="1.2"/><text x="74.5" y="445.3" font-size="9">Fitting curves</text></g><g font-family="Liberation Serif, serif" fill="#111"><path d="M620.9 293.6l3.0 3.0l-3.0 3.0l-3.0 -3.0z" fill="#800080"/><text x="636.6" y="300" font-size="9.4">10<tspan font-size="6" dy="-3.6">-3</tspan><tspan dy="3.6"> M</tspan></text><path d="M620.9 306l3.0 3.0l-3.0 3.0l-3.0 -3.0z" fill="#ff00ff"/><text x="636.6" y="312.4" font-size="9.4">10<tspan font-size="6" dy="-3.6">-4</tspan><tspan dy="3.6"> M</tspan></text><path d="M620.9 318.4l3.0 3.0l-3.0 3.0l-3.0 -3.0z" fill="#0000ff"/><text x="636.6" y="324.8" font-size="9.4">10<tspan font-size="6" dy="-3.6">-5</tspan><tspan dy="3.6"> M</tspan></text><path d="M620.9 330.7l3.0 3.0l-3.0 3.0l-3.0 -3.0z" fill="#00e000"/><text x="636.6" y="337.1" font-size="9.4">10<tspan font-size="6" dy="-3.6">-6</tspan><tspan dy="3.6"> M</tspan></text><path d="M611.1 344.7H630.9" stroke="#ff1a1a" stroke-width="1.2"/><text x="636.9" y="347.7" font-size="9">Fitting curves</text></g><path d="M404 26.2H422M459.5 26.2H488M525.6 26.2H713M474 25.2V124.5H488.2M525.7 124.5H572.7M549 124.5V194.4H572.7M609.6 124.5H661.8M609.8 194.4H661.8M661.8 26.2V195.4" fill="none" stroke="#0000ff" stroke-width="2"/><rect x="422.0" y="12.1" width="37.8" height="26.4" fill="#c3c3c3"/><rect x="422.0" y="39.3" width="37.8" height="12.5" fill="#e9e9e9"/><path d="M422.0 12.6H459.8" stroke="#7a7a7a" stroke-width="1"/><path d="M422.5 12.1V54.0M459.3 12.1V54.0" stroke="#8a8a8a" stroke-width="1"/><path d="M422.0 39.0H459.8" stroke="#a0a0a0" stroke-width="1"/><text x="0" y="0" transform="translate(440.9,50.1) scale(0.6,1)" text-anchor="middle" font-size="10.5" font-weight="bold" fill="#333">Rs</text><path d="M422.0 53.0H459.8" stroke="#454545" stroke-width="2"/><path d="M422.0 26.2H429.7L432.1 31.5L435.1 21.2L439.0 31.5L442.9 21.2L446.8 31.5L450.2 21.2L452.2 26.2H459.8" fill="none" stroke="#000" stroke-width="1.3" stroke-linejoin="miter"/><rect x="422.5" y="24.5" width="3" height="3.4" fill="#000"/><rect x="456.3" y="24.5" width="3" height="3.4" fill="#000"/><rect x="420.2" y="23.7" width="2.8" height="5" rx="1" fill="#0000ff"/><rect x="458.8" y="23.7" width="2.8" height="5" rx="1" fill="#0000ff"/><rect x="488.1" y="12.4" width="37.6" height="26.3" fill="#c3c3c3"/><rect x="488.1" y="39.6" width="37.6" height="11.8" fill="#e9e9e9"/><rect x="488.1" y="53.1" width="37.6" height="13.3" fill="#e9e9e9"/><path d="M488.1 12.9H525.7" stroke="#7a7a7a" stroke-width="1"/><path d="M488.6 12.4V68.4M525.2 12.4V68.4" stroke="#8a8a8a" stroke-width="1"/><path d="M488.1 39.2H525.7" stroke="#a0a0a0" stroke-width="1"/><path d="M488.1 52.0H525.7" stroke="#808080" stroke-width="1.2"/><text x="0" y="0" transform="translate(506.9,50.4) scale(0.6,1)" text-anchor="middle" font-size="10.5" font-weight="bold" fill="#333">Qdl</text><text x="0" y="0" transform="translate(506.9,64.5) scale(0.6,1)" text-anchor="middle" font-size="10.5" font-weight="bold" fill="#333">ndl</text><path d="M488.1 67.4H525.7" stroke="#454545" stroke-width="2"/><path d="M488.1 26.2H502.6M511.0 26.2H525.7" stroke="#000" stroke-width="1.3"/><ellipse cx="506.8" cy="26.2" rx="4" ry="5.4" fill="none" stroke="#000" stroke-width="1.3"/><path d="M501.6 33.7L512.7 18.0" stroke="#000" stroke-width="1.3"/><rect x="488.6" y="24.5" width="3" height="3.4" fill="#000"/><rect x="522.2" y="24.5" width="3" height="3.4" fill="#000"/><rect x="486.3" y="23.7" width="2.8" height="5" rx="1" fill="#0000ff"/><rect x="524.7" y="23.7" width="2.8" height="5" rx="1" fill="#0000ff"/><rect x="488.2" y="110.7" width="37.5" height="26.5" fill="#c3c3c3"/><rect x="488.2" y="138.0" width="37.5" height="12.4" fill="#e9e9e9"/><path d="M488.2 111.2H525.7" stroke="#7a7a7a" stroke-width="1"/><path d="M488.7 110.7V152.5M525.2 110.7V152.5" stroke="#8a8a8a" stroke-width="1"/><path d="M488.2 137.7H525.7" stroke="#a0a0a0" stroke-width="1"/><text x="0" y="0" transform="translate(507.0,148.4) scale(0.6,1)" text-anchor="middle" font-size="10.5" font-weight="bold" fill="#333">Rct</text><path d="M488.2 151.5H525.7" stroke="#454545" stroke-width="2"/><path d="M488.2 124.5H495.9L498.3 129.8L501.3 119.5L505.2 129.8L509.1 119.5L513.0 129.8L516.4 119.5L518.4 124.5H525.7" fill="none" stroke="#000" stroke-width="1.3" stroke-linejoin="miter"/><rect x="488.7" y="122.8" width="3" height="3.4" fill="#000"/><rect x="522.2" y="122.8" width="3" height="3.4" fill="#000"/><rect x="486.4" y="122.0" width="2.8" height="5" rx="1" fill="#0000ff"/><rect x="524.7" y="122.0" width="2.8" height="5" rx="1" fill="#0000ff"/><rect x="572.7" y="110.3" width="37.1" height="27.1" fill="#c3c3c3"/><rect x="572.7" y="138.2" width="37.1" height="12.0" fill="#e9e9e9"/><path d="M572.7 110.8H609.8" stroke="#7a7a7a" stroke-width="1"/><path d="M573.2 110.3V152.3M609.3 110.3V152.3" stroke="#8a8a8a" stroke-width="1"/><path d="M572.7 137.9H609.8" stroke="#a0a0a0" stroke-width="1"/><text x="0" y="0" transform="translate(591.2,148.6) scale(0.6,1)" text-anchor="middle" font-size="10.5" font-weight="bold" fill="#333">RL</text><path d="M572.7 151.3H609.8" stroke="#454545" stroke-width="2"/><path d="M572.7 124.5H580.4L582.8 129.8L585.8 119.5L589.7 129.8L593.6 119.5L597.5 129.8L600.9 119.5L602.9 124.5H609.8" fill="none" stroke="#000" stroke-width="1.3" stroke-linejoin="miter"/><rect x="573.2" y="122.8" width="3" height="3.4" fill="#000"/><rect x="606.3" y="122.8" width="3" height="3.4" fill="#000"/><rect x="570.9" y="122.0" width="2.8" height="5" rx="1" fill="#0000ff"/><rect x="608.8" y="122.0" width="2.8" height="5" rx="1" fill="#0000ff"/><rect x="572.7" y="180.2" width="37.1" height="27.3" fill="#c3c3c3"/><rect x="572.7" y="208.3" width="37.1" height="12.1" fill="#e9e9e9"/><path d="M572.7 180.7H609.8" stroke="#7a7a7a" stroke-width="1"/><path d="M573.2 180.2V222.8M609.3 180.2V222.8" stroke="#8a8a8a" stroke-width="1"/><path d="M572.7 208.0H609.8" stroke="#a0a0a0" stroke-width="1"/><text x="0" y="0" transform="translate(591.2,218.3) scale(0.6,1)" text-anchor="middle" font-size="10.5" font-weight="bold" fill="#333">L</text><path d="M572.7 221.8H609.8" stroke="#454545" stroke-width="2"/><path d="M572.7 194.4H579.3C580.6 194.4 580.4 200.5 581.6 200.5L582.08 200.46L582.55 200.34L583.02 200.15L583.48 199.89L583.92 199.55L584.34 199.14L584.75 198.68L585.13 198.15L585.48 197.57L585.81 196.95L586.10 196.29L586.36 195.59L586.60 194.88L586.79 194.14L586.95 193.40L587.08 192.66L587.17 191.92L587.23 191.21L587.25 190.51L587.24 189.85L587.20 189.23L587.13 188.65L587.04 188.12L586.92 187.66L586.79 187.25L586.63 186.91L586.46 186.65L586.28 186.46L586.10 186.34L585.90 186.30L585.71 186.34L585.53 186.46L585.35 186.65L585.18 186.91L585.02 187.25L584.88 187.66L584.77 188.12L584.67 188.65L584.61 189.23L584.57 189.85L584.56 190.51L584.58 191.21L584.64 191.92L584.73 192.66L584.86 193.40L585.02 194.14L585.21 194.88L585.44 195.59L585.71 196.29L586.00 196.95L586.33 197.57L586.68 198.15L587.06 198.68L587.47 199.14L587.89 199.55L588.33 199.89L588.79 200.15L589.26 200.34L589.73 200.46L590.21 200.50L590.69 200.46L591.16 200.34L591.63 200.15L592.08 199.89L592.53 199.55L592.95 199.14L593.35 198.68L593.73 198.15L594.09 197.57L594.41 196.95L594.71 196.29L594.97 195.59L595.20 194.88L595.40 194.14L595.56 193.40L595.69 192.66L595.78 191.92L595.83 191.21L595.86 190.51L595.85 189.85L595.81 189.23L595.74 188.65L595.65 188.12L595.53 187.66L595.39 187.25L595.24 186.91L595.07 186.65L594.89 186.46L594.70 186.34L594.51 186.30L594.32 186.34L594.13 186.46L593.95 186.65L593.78 186.91L593.63 187.25L593.49 187.66L593.37 188.12L593.28 188.65L593.21 189.23L593.18 189.85L593.17 190.51L593.19 191.21L593.25 191.92L593.34 192.66L593.46 193.40L593.62 194.14L593.82 194.88L594.05 195.59L594.31 196.29L594.61 196.95L594.94 197.57L595.29 198.15L595.67 198.68L596.07 199.14L596.50 199.55L596.94 199.89L597.40 200.15L597.86 200.34L598.34 200.46L598.82 200.50C600.4 200.5 601.0 194.4 603.0 194.4H609.8" fill="none" stroke="#000" stroke-width="1.4" stroke-linejoin="round"/><rect x="573.2" y="192.7" width="3" height="3.4" fill="#000"/><rect x="606.3" y="192.7" width="3" height="3.4" fill="#000"/><rect x="570.9" y="191.9" width="2.8" height="5" rx="1" fill="#0000ff"/><rect x="608.8" y="191.9" width="2.8" height="5" rx="1" fill="#0000ff"/><path d="M390.3 26.2H403M395.6 18.8L401.8 26.2L396.2 33.2" fill="none" stroke="#000" stroke-width="1.3"/><rect x="402.6" y="24.0" width="2.4" height="4.4" rx="0.8" fill="#0000ff"/><ellipse cx="719.6" cy="26.2" rx="3.4" ry="6.1" fill="#000"/><path d="M712 26.2H726" stroke="#000" stroke-width="1.3"/><path d="M711.5 23.6l3 2.6l-3 2.6z" fill="#0000ff"/><g font-family="Liberation Sans, sans-serif" font-weight="bold" font-size="7.6" fill="#3a3030"><text x="0" y="0" transform="translate(393.8,41.8) scale(0.8,1)" text-anchor="middle">R.E.</text><text x="0" y="0" transform="translate(722.6,44.3) scale(0.8,1)" text-anchor="middle">W.E.</text></g></svg>
</body></html>
